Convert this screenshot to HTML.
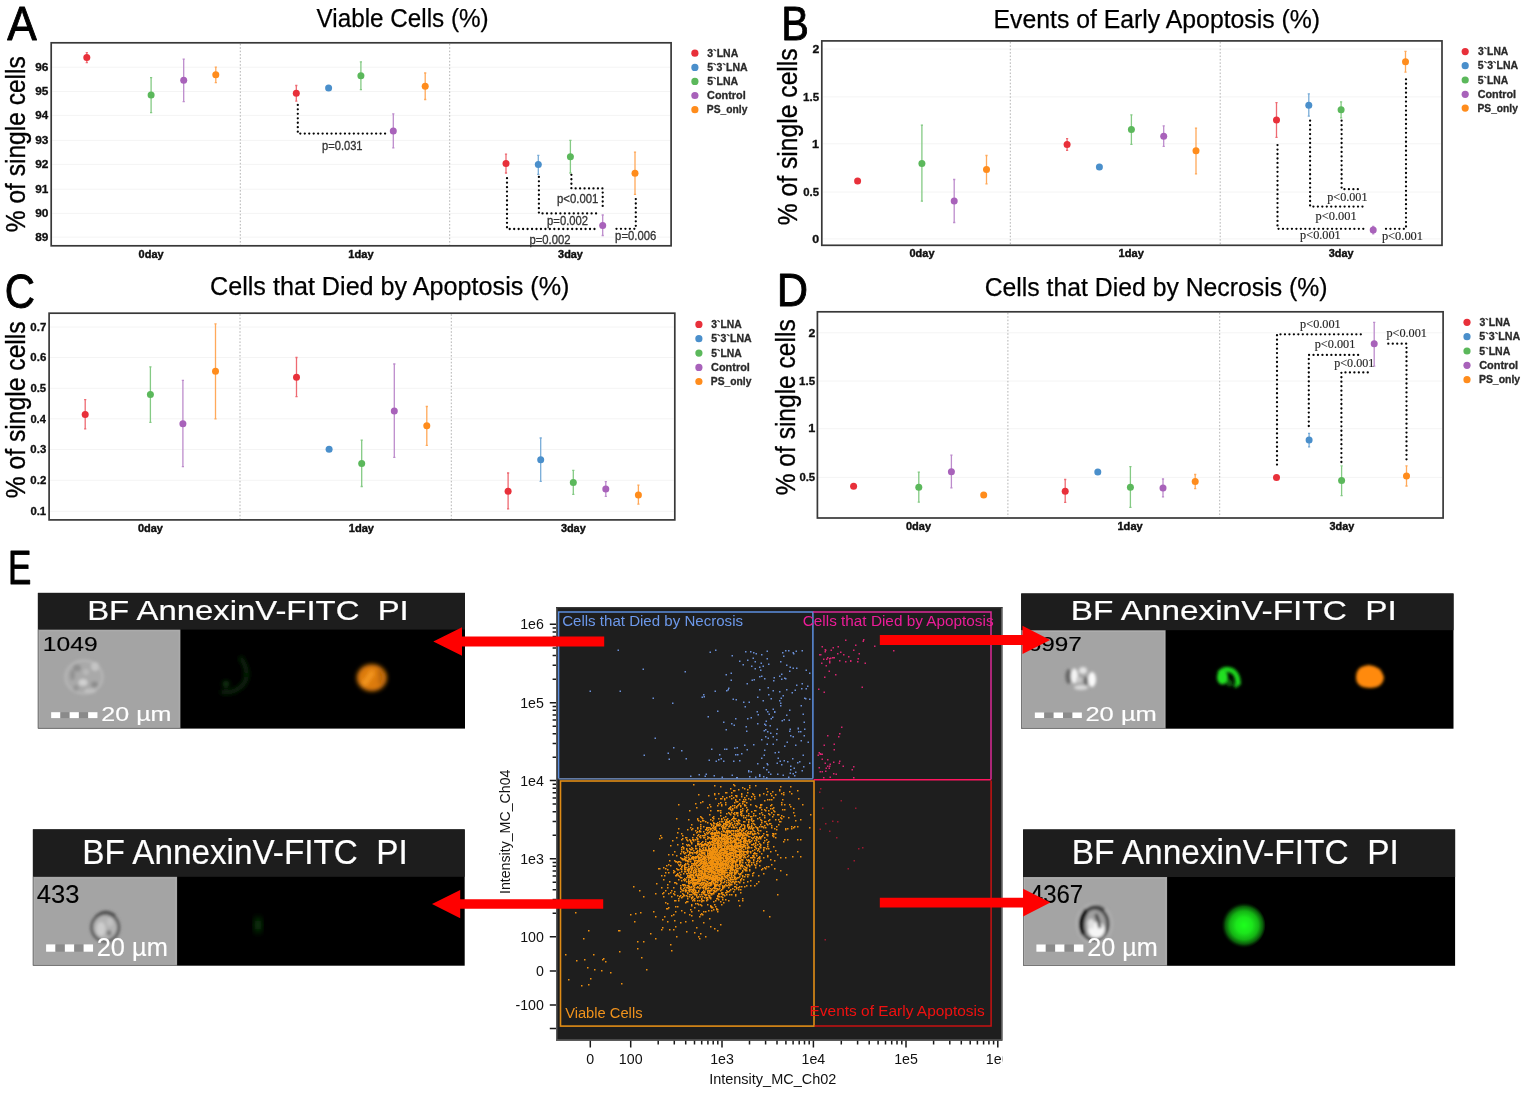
<!DOCTYPE html>
<html lang="en">
<head>
<meta charset="utf-8">
<title>Figure: cell viability, apoptosis and necrosis</title>
<style>
html,body{margin:0;padding:0;background:#fff;}
body{width:1535px;height:1102px;overflow:hidden;}
svg{display:block;filter:blur(0.45px);}
text{white-space:pre;font-family:"Liberation Sans",sans-serif;}
text.sf{font-family:"Liberation Serif",serif;}
</style>
</head>
<body>
<svg width="1535" height="1102" viewBox="0 0 1535 1102">
<defs>
<filter id="b1" x="-50%" y="-50%" width="200%" height="200%"><feGaussianBlur stdDeviation="1"/></filter>
<filter id="b15" x="-50%" y="-50%" width="200%" height="200%"><feGaussianBlur stdDeviation="1.5"/></filter>
<filter id="b2" x="-50%" y="-50%" width="200%" height="200%"><feGaussianBlur stdDeviation="2.2"/></filter>
<filter id="b3" x="-50%" y="-50%" width="200%" height="200%"><feGaussianBlur stdDeviation="3.2"/></filter>
<radialGradient id="gg" cx="0.54" cy="0.5" r="0.5"><stop offset="0" stop-color="#1cff1c"/><stop offset="0.35" stop-color="#1ce61c"/><stop offset="0.62" stop-color="#14b414"/><stop offset="0.82" stop-color="#0a5a0a"/><stop offset="1" stop-color="#001800" stop-opacity="0"/></radialGradient>
</defs>
<rect width="1535" height="1102" fill="#ffffff"/>
<g id="panelA">
<line x1="52.2" x2="670.1" y1="67.2" y2="67.2" stroke="#f4f4f4" stroke-width="1"/>
<line x1="52.2" x2="670.1" y1="91.5" y2="91.5" stroke="#f4f4f4" stroke-width="1"/>
<line x1="52.2" x2="670.1" y1="115.4" y2="115.4" stroke="#f4f4f4" stroke-width="1"/>
<line x1="52.2" x2="670.1" y1="140.4" y2="140.4" stroke="#f4f4f4" stroke-width="1"/>
<line x1="52.2" x2="670.1" y1="164.4" y2="164.4" stroke="#f4f4f4" stroke-width="1"/>
<line x1="52.2" x2="670.1" y1="189.2" y2="189.2" stroke="#f4f4f4" stroke-width="1"/>
<line x1="52.2" x2="670.1" y1="213.4" y2="213.4" stroke="#f4f4f4" stroke-width="1"/>
<line x1="52.2" x2="670.1" y1="237.1" y2="237.1" stroke="#f4f4f4" stroke-width="1"/>
<line x1="240.3" x2="240.3" y1="43.8" y2="244.8" stroke="#b4b4b4" stroke-width="1" stroke-dasharray="1.6 1.8"/>
<line x1="449.7" x2="449.7" y1="43.8" y2="244.8" stroke="#b4b4b4" stroke-width="1" stroke-dasharray="1.6 1.8"/>
<rect x="51.2" y="42.8" width="619.9" height="203.0" fill="none" stroke="#383838" stroke-width="1.7"/>
<text x="35.23" y="70.95" font-size="10.6" fill="#101010" font-weight="bold" textLength="13.26" lengthAdjust="spacingAndGlyphs" stroke="#101010" stroke-width="0.3" stroke-linejoin="round" >96</text>
<text x="35.24" y="95.25" font-size="10.6" fill="#101010" font-weight="bold" textLength="13.17" lengthAdjust="spacingAndGlyphs" stroke="#101010" stroke-width="0.3" stroke-linejoin="round" >95</text>
<text x="35.24" y="119.15" font-size="10.6" fill="#101010" font-weight="bold" textLength="12.89" lengthAdjust="spacingAndGlyphs" stroke="#101010" stroke-width="0.3" stroke-linejoin="round" >94</text>
<text x="35.23" y="144.15" font-size="10.6" fill="#101010" font-weight="bold" textLength="13.26" lengthAdjust="spacingAndGlyphs" stroke="#101010" stroke-width="0.3" stroke-linejoin="round" >93</text>
<text x="35.23" y="168.15" font-size="10.6" fill="#101010" font-weight="bold" textLength="13.33" lengthAdjust="spacingAndGlyphs" stroke="#101010" stroke-width="0.3" stroke-linejoin="round" >92</text>
<text x="35.24" y="192.95" font-size="10.6" fill="#101010" font-weight="bold" textLength="13.17" lengthAdjust="spacingAndGlyphs" stroke="#101010" stroke-width="0.3" stroke-linejoin="round" >91</text>
<text x="35.23" y="217.15" font-size="10.6" fill="#101010" font-weight="bold" textLength="13.33" lengthAdjust="spacingAndGlyphs" stroke="#101010" stroke-width="0.3" stroke-linejoin="round" >90</text>
<text x="35.26" y="240.85" font-size="10.6" fill="#101010" font-weight="bold" textLength="13.23" lengthAdjust="spacingAndGlyphs" stroke="#101010" stroke-width="0.3" stroke-linejoin="round" >89</text>
<text x="138.61" y="257.90" font-size="10.6" fill="#101010" font-weight="bold" textLength="25.01" lengthAdjust="spacingAndGlyphs" stroke="#101010" stroke-width="0.4" stroke-linejoin="round" >0day</text>
<text x="348.36" y="257.90" font-size="10.6" fill="#101010" font-weight="bold" textLength="25.27" lengthAdjust="spacingAndGlyphs" stroke="#101010" stroke-width="0.4" stroke-linejoin="round" >1day</text>
<text x="558.11" y="257.90" font-size="10.6" fill="#101010" font-weight="bold" textLength="24.82" lengthAdjust="spacingAndGlyphs" stroke="#101010" stroke-width="0.4" stroke-linejoin="round" >3day</text>
<text x="316.60" y="26.80" font-size="26.4" fill="#000" textLength="172.10" lengthAdjust="spacingAndGlyphs" stroke="#000" stroke-width="0.25" stroke-linejoin="round" >Viable Cells (%)</text>
<text x="7.34" y="40.20" font-size="48.8" fill="#000" textLength="29.50" lengthAdjust="spacingAndGlyphs" stroke="#000" stroke-width="0.9" stroke-linejoin="round" >A</text>
<text x="25.00" y="232.28" font-size="26.8" fill="#000" textLength="176.07" lengthAdjust="spacingAndGlyphs" transform="rotate(-90 25.00 232.28)" stroke="#000" stroke-width="0.35" stroke-linejoin="round" >% of single cells</text>
<circle cx="694.9" cy="53.2" r="3.6" fill="#e8303a"/>
<text x="707.31" y="56.90" font-size="10.4" fill="#2a2a2a" font-weight="bold" textLength="30.92" lengthAdjust="spacingAndGlyphs" stroke="#2a2a2a" stroke-width="0.3" stroke-linejoin="round" >3`LNA</text>
<circle cx="694.9" cy="67.4" r="3.6" fill="#4a8fcb"/>
<text x="707.23" y="71.10" font-size="10.4" fill="#2a2a2a" font-weight="bold" textLength="40.39" lengthAdjust="spacingAndGlyphs" stroke="#2a2a2a" stroke-width="0.3" stroke-linejoin="round" >5`3`LNA</text>
<circle cx="694.9" cy="81.4" r="3.6" fill="#5bb85b"/>
<text x="707.23" y="85.10" font-size="10.4" fill="#2a2a2a" font-weight="bold" textLength="31.00" lengthAdjust="spacingAndGlyphs" stroke="#2a2a2a" stroke-width="0.3" stroke-linejoin="round" >5`LNA</text>
<circle cx="694.9" cy="95.5" r="3.6" fill="#a862ba"/>
<text x="707.12" y="99.20" font-size="10.4" fill="#2a2a2a" font-weight="bold" textLength="38.59" lengthAdjust="spacingAndGlyphs" stroke="#2a2a2a" stroke-width="0.3" stroke-linejoin="round" >Control</text>
<circle cx="694.9" cy="109.7" r="3.6" fill="#ff8c1c"/>
<text x="706.86" y="113.40" font-size="10.4" fill="#2a2a2a" font-weight="bold" textLength="40.55" lengthAdjust="spacingAndGlyphs" stroke="#2a2a2a" stroke-width="0.3" stroke-linejoin="round" >PS_only</text>
<path d="M86.8 52.6V62.7M85.7 52.6h2.2M85.7 62.7h2.2" stroke="#ee6a72" stroke-width="1.3" fill="none"/>
<circle cx="86.8" cy="57.6" r="3.5" fill="#e8303a"/>
<path d="M151.1 77.7V112.6M150.0 77.7h2.2M150.0 112.6h2.2" stroke="#84ca84" stroke-width="1.3" fill="none"/>
<circle cx="151.1" cy="95.1" r="3.5" fill="#5bb85b"/>
<path d="M183.7 59.2V101.6M182.6 59.2h2.2M182.6 101.6h2.2" stroke="#bd8ccc" stroke-width="1.3" fill="none"/>
<circle cx="183.7" cy="80.3" r="3.5" fill="#a862ba"/>
<path d="M215.8 67.2V82.6M214.7 67.2h2.2M214.7 82.6h2.2" stroke="#ffa95a" stroke-width="1.3" fill="none"/>
<circle cx="215.8" cy="74.8" r="3.5" fill="#ff8c1c"/>
<path d="M296.3 85.5V101.1M295.2 85.5h2.2M295.2 101.1h2.2" stroke="#ee6a72" stroke-width="1.3" fill="none"/>
<circle cx="296.3" cy="93.3" r="3.5" fill="#e8303a"/>
<circle cx="328.6" cy="88.1" r="3.5" fill="#4a8fcb"/>
<path d="M360.9 61.8V89.6M359.8 61.8h2.2M359.8 89.6h2.2" stroke="#84ca84" stroke-width="1.3" fill="none"/>
<circle cx="360.9" cy="75.8" r="3.5" fill="#5bb85b"/>
<path d="M393.3 113.8V147.9M392.2 113.8h2.2M392.2 147.9h2.2" stroke="#bd8ccc" stroke-width="1.3" fill="none"/>
<circle cx="393.3" cy="131.1" r="3.5" fill="#a862ba"/>
<path d="M425.2 73.0V99.5M424.1 73.0h2.2M424.1 99.5h2.2" stroke="#ffa95a" stroke-width="1.3" fill="none"/>
<circle cx="425.2" cy="86.3" r="3.5" fill="#ff8c1c"/>
<path d="M506.0 154.2V173.0M504.9 154.2h2.2M504.9 173.0h2.2" stroke="#ee6a72" stroke-width="1.3" fill="none"/>
<circle cx="506.0" cy="163.6" r="3.5" fill="#e8303a"/>
<path d="M538.3 155.3V174.3M537.2 155.3h2.2M537.2 174.3h2.2" stroke="#78acd8" stroke-width="1.3" fill="none"/>
<circle cx="538.3" cy="164.4" r="3.5" fill="#4a8fcb"/>
<path d="M570.4 140.4V173.0M569.3 140.4h2.2M569.3 173.0h2.2" stroke="#84ca84" stroke-width="1.3" fill="none"/>
<circle cx="570.4" cy="156.8" r="3.5" fill="#5bb85b"/>
<path d="M602.7 215.0V235.5M601.6 215.0h2.2M601.6 235.5h2.2" stroke="#bd8ccc" stroke-width="1.3" fill="none"/>
<circle cx="602.7" cy="225.6" r="3.5" fill="#a862ba"/>
<path d="M635.0 152.1V194.4M633.9 152.1h2.2M633.9 194.4h2.2" stroke="#ffa95a" stroke-width="1.3" fill="none"/>
<circle cx="635.0" cy="173.3" r="3.5" fill="#ff8c1c"/>
<path d="M297.8 104.9 L297.8 133.6 L388.0 133.6" fill="none" stroke="#050505" stroke-width="2.3" stroke-dasharray="0.01 4.45" stroke-linecap="round" stroke-linejoin="round"/>
<path d="M507.0 178.2 L507.0 229.0 L598.0 229.0" fill="none" stroke="#050505" stroke-width="2.3" stroke-dasharray="0.01 4.45" stroke-linecap="round" stroke-linejoin="round"/>
<path d="M538.9 176.9 L538.9 213.4 L598.0 213.4" fill="none" stroke="#050505" stroke-width="2.3" stroke-dasharray="0.01 4.45" stroke-linecap="round" stroke-linejoin="round"/>
<path d="M571.4 174.8 L571.4 188.4 L602.7 188.4 L602.7 207.7" fill="none" stroke="#050505" stroke-width="2.3" stroke-dasharray="0.01 4.45" stroke-linecap="round" stroke-linejoin="round"/>
<path d="M616.5 228.8 L635.8 228.8 L635.8 197.2" fill="none" stroke="#050505" stroke-width="2.3" stroke-dasharray="0.01 4.45" stroke-linecap="round" stroke-linejoin="round"/>
<text x="322.03" y="149.80" font-size="12.0" fill="#333" textLength="40.55" lengthAdjust="spacingAndGlyphs" stroke="#333" stroke-width="0.3" stroke-linejoin="round" >p=0.031</text>
<text x="557.01" y="202.50" font-size="12.0" fill="#333" textLength="41.38" lengthAdjust="spacingAndGlyphs" stroke="#333" stroke-width="0.3" stroke-linejoin="round" >p&lt;0.001</text>
<text x="547.12" y="225.40" font-size="12.0" fill="#333" textLength="40.89" lengthAdjust="spacingAndGlyphs" stroke="#333" stroke-width="0.3" stroke-linejoin="round" >p=0.002</text>
<text x="529.42" y="244.40" font-size="12.0" fill="#333" textLength="41.10" lengthAdjust="spacingAndGlyphs" stroke="#333" stroke-width="0.3" stroke-linejoin="round" >p=0.002</text>
<text x="615.12" y="239.70" font-size="12.0" fill="#333" textLength="41.12" lengthAdjust="spacingAndGlyphs" stroke="#333" stroke-width="0.3" stroke-linejoin="round" >p=0.006</text>
</g>
<g id="panelB">
<line x1="822.8" x2="1441.0" y1="49.0" y2="49.0" stroke="#f4f4f4" stroke-width="1"/>
<line x1="822.8" x2="1441.0" y1="96.9" y2="96.9" stroke="#f4f4f4" stroke-width="1"/>
<line x1="822.8" x2="1441.0" y1="143.8" y2="143.8" stroke="#f4f4f4" stroke-width="1"/>
<line x1="822.8" x2="1441.0" y1="192.0" y2="192.0" stroke="#f4f4f4" stroke-width="1"/>
<line x1="822.8" x2="1441.0" y1="238.9" y2="238.9" stroke="#f4f4f4" stroke-width="1"/>
<line x1="1010.3" x2="1010.3" y1="41.9" y2="244.3" stroke="#b4b4b4" stroke-width="1" stroke-dasharray="1.6 1.8"/>
<line x1="1220.2" x2="1220.2" y1="41.9" y2="244.3" stroke="#b4b4b4" stroke-width="1" stroke-dasharray="1.6 1.8"/>
<rect x="821.8" y="40.9" width="620.2" height="204.4" fill="none" stroke="#383838" stroke-width="1.7"/>
<text x="812.42" y="52.75" font-size="10.6" fill="#101010" font-weight="bold" textLength="6.84" lengthAdjust="spacingAndGlyphs" stroke="#101010" stroke-width="0.3" stroke-linejoin="round" >2</text>
<text x="803.03" y="100.65" font-size="10.6" fill="#101010" font-weight="bold" textLength="16.04" lengthAdjust="spacingAndGlyphs" stroke="#101010" stroke-width="0.3" stroke-linejoin="round" >1.5</text>
<text x="812.06" y="147.55" font-size="10.6" fill="#101010" font-weight="bold" textLength="7.06" lengthAdjust="spacingAndGlyphs" stroke="#101010" stroke-width="0.3" stroke-linejoin="round" >1</text>
<text x="803.30" y="195.75" font-size="10.6" fill="#101010" font-weight="bold" textLength="15.77" lengthAdjust="spacingAndGlyphs" stroke="#101010" stroke-width="0.3" stroke-linejoin="round" >0.5</text>
<text x="812.35" y="242.65" font-size="10.6" fill="#101010" font-weight="bold" textLength="6.91" lengthAdjust="spacingAndGlyphs" stroke="#101010" stroke-width="0.3" stroke-linejoin="round" >0</text>
<text x="909.51" y="257.40" font-size="10.6" fill="#101010" font-weight="bold" textLength="25.01" lengthAdjust="spacingAndGlyphs" stroke="#101010" stroke-width="0.4" stroke-linejoin="round" >0day</text>
<text x="1118.56" y="257.40" font-size="10.6" fill="#101010" font-weight="bold" textLength="25.27" lengthAdjust="spacingAndGlyphs" stroke="#101010" stroke-width="0.4" stroke-linejoin="round" >1day</text>
<text x="1328.81" y="257.40" font-size="10.6" fill="#101010" font-weight="bold" textLength="24.82" lengthAdjust="spacingAndGlyphs" stroke="#101010" stroke-width="0.4" stroke-linejoin="round" >3day</text>
<text x="993.48" y="27.90" font-size="26.4" fill="#000" textLength="326.65" lengthAdjust="spacingAndGlyphs" stroke="#000" stroke-width="0.25" stroke-linejoin="round" >Events of Early Apoptosis (%)</text>
<text x="781.33" y="39.50" font-size="48.8" fill="#000" textLength="27.68" lengthAdjust="spacingAndGlyphs" stroke="#000" stroke-width="0.9" stroke-linejoin="round" >B</text>
<text x="797.50" y="225.29" font-size="26.8" fill="#000" textLength="176.98" lengthAdjust="spacingAndGlyphs" transform="rotate(-90 797.50 225.29)" stroke="#000" stroke-width="0.35" stroke-linejoin="round" >% of single cells</text>
<circle cx="1465.2" cy="51.6" r="3.6" fill="#e8303a"/>
<text x="1477.92" y="55.30" font-size="10.4" fill="#2a2a2a" font-weight="bold" textLength="30.41" lengthAdjust="spacingAndGlyphs" stroke="#2a2a2a" stroke-width="0.3" stroke-linejoin="round" >3`LNA</text>
<circle cx="1465.2" cy="65.7" r="3.6" fill="#4a8fcb"/>
<text x="1477.83" y="69.40" font-size="10.4" fill="#2a2a2a" font-weight="bold" textLength="40.29" lengthAdjust="spacingAndGlyphs" stroke="#2a2a2a" stroke-width="0.3" stroke-linejoin="round" >5`3`LNA</text>
<circle cx="1465.2" cy="80.0" r="3.6" fill="#5bb85b"/>
<text x="1477.84" y="83.70" font-size="10.4" fill="#2a2a2a" font-weight="bold" textLength="30.49" lengthAdjust="spacingAndGlyphs" stroke="#2a2a2a" stroke-width="0.3" stroke-linejoin="round" >5`LNA</text>
<circle cx="1465.2" cy="94.3" r="3.6" fill="#a862ba"/>
<text x="1477.72" y="98.00" font-size="10.4" fill="#2a2a2a" font-weight="bold" textLength="38.39" lengthAdjust="spacingAndGlyphs" stroke="#2a2a2a" stroke-width="0.3" stroke-linejoin="round" >Control</text>
<circle cx="1465.2" cy="108.1" r="3.6" fill="#ff8c1c"/>
<text x="1477.46" y="111.80" font-size="10.4" fill="#2a2a2a" font-weight="bold" textLength="40.45" lengthAdjust="spacingAndGlyphs" stroke="#2a2a2a" stroke-width="0.3" stroke-linejoin="round" >PS_only</text>
<circle cx="857.6" cy="181.1" r="3.5" fill="#e8303a"/>
<path d="M921.9 125.1V201.1M920.8 125.1h2.2M920.8 201.1h2.2" stroke="#84ca84" stroke-width="1.3" fill="none"/>
<circle cx="921.9" cy="163.4" r="3.5" fill="#5bb85b"/>
<path d="M954.2 179.5V222.5M953.1 179.5h2.2M953.1 222.5h2.2" stroke="#bd8ccc" stroke-width="1.3" fill="none"/>
<circle cx="954.2" cy="201.1" r="3.5" fill="#a862ba"/>
<path d="M986.5 155.5V183.9M985.4 155.5h2.2M985.4 183.9h2.2" stroke="#ffa95a" stroke-width="1.3" fill="none"/>
<circle cx="986.5" cy="169.6" r="3.5" fill="#ff8c1c"/>
<path d="M1067.1 138.6V150.3M1066.0 138.6h2.2M1066.0 150.3h2.2" stroke="#ee6a72" stroke-width="1.3" fill="none"/>
<circle cx="1067.1" cy="144.6" r="3.5" fill="#e8303a"/>
<circle cx="1099.4" cy="167.0" r="3.5" fill="#4a8fcb"/>
<path d="M1131.4 114.9V144.3M1130.3 114.9h2.2M1130.3 144.3h2.2" stroke="#84ca84" stroke-width="1.3" fill="none"/>
<circle cx="1131.4" cy="129.5" r="3.5" fill="#5bb85b"/>
<path d="M1163.7 125.9V146.4M1162.6 125.9h2.2M1162.6 146.4h2.2" stroke="#bd8ccc" stroke-width="1.3" fill="none"/>
<circle cx="1163.7" cy="136.2" r="3.5" fill="#a862ba"/>
<path d="M1196.0 128.2V173.8M1194.9 128.2h2.2M1194.9 173.8h2.2" stroke="#ffa95a" stroke-width="1.3" fill="none"/>
<circle cx="1196.0" cy="150.8" r="3.5" fill="#ff8c1c"/>
<path d="M1276.5 102.7V137.3M1275.4 102.7h2.2M1275.4 137.3h2.2" stroke="#ee6a72" stroke-width="1.3" fill="none"/>
<circle cx="1276.5" cy="120.1" r="3.5" fill="#e8303a"/>
<path d="M1308.8 93.8V116.2M1307.7 93.8h2.2M1307.7 116.2h2.2" stroke="#78acd8" stroke-width="1.3" fill="none"/>
<circle cx="1308.8" cy="105.3" r="3.5" fill="#4a8fcb"/>
<path d="M1341.1 101.9V117.8M1340.0 101.9h2.2M1340.0 117.8h2.2" stroke="#84ca84" stroke-width="1.3" fill="none"/>
<circle cx="1341.1" cy="109.7" r="3.5" fill="#5bb85b"/>
<path d="M1373.2 226.3V233.9M1372.1 226.3h2.2M1372.1 233.9h2.2" stroke="#bd8ccc" stroke-width="1.3" fill="none"/>
<circle cx="1373.2" cy="230.1" r="3.5" fill="#a862ba"/>
<path d="M1405.5 51.3V72.2M1404.4 51.3h2.2M1404.4 72.2h2.2" stroke="#ffa95a" stroke-width="1.3" fill="none"/>
<circle cx="1405.5" cy="61.8" r="3.5" fill="#ff8c1c"/>
<path d="M1277.5 145.1 L1277.5 228.8 L1363.8 228.8" fill="none" stroke="#050505" stroke-width="2.3" stroke-dasharray="0.01 4.45" stroke-linecap="round" stroke-linejoin="round"/>
<path d="M1310.1 120.7 L1310.1 206.6 L1363.8 206.6" fill="none" stroke="#050505" stroke-width="2.3" stroke-dasharray="0.01 4.45" stroke-linecap="round" stroke-linejoin="round"/>
<path d="M1341.6 120.7 L1341.6 189.2 L1361.7 189.2" fill="none" stroke="#050505" stroke-width="2.3" stroke-dasharray="0.01 4.45" stroke-linecap="round" stroke-linejoin="round"/>
<path d="M1386.0 228.8 L1406.0 228.8 L1406.0 76.9" fill="none" stroke="#050505" stroke-width="2.3" stroke-dasharray="0.01 4.45" stroke-linecap="round" stroke-linejoin="round"/>
<text x="1327.19" y="201.10" font-size="12.7" fill="#262626" class="sf" textLength="40.35" lengthAdjust="spacingAndGlyphs" stroke="#262626" stroke-width="0.15" stroke-linejoin="round" >p&lt;0.001</text>
<text x="1315.49" y="220.40" font-size="12.7" fill="#262626" class="sf" textLength="41.17" lengthAdjust="spacingAndGlyphs" stroke="#262626" stroke-width="0.15" stroke-linejoin="round" >p&lt;0.001</text>
<text x="1300.09" y="238.90" font-size="12.7" fill="#262626" class="sf" textLength="40.66" lengthAdjust="spacingAndGlyphs" stroke="#262626" stroke-width="0.15" stroke-linejoin="round" >p&lt;0.001</text>
<text x="1381.89" y="239.70" font-size="12.7" fill="#262626" class="sf" textLength="41.17" lengthAdjust="spacingAndGlyphs" stroke="#262626" stroke-width="0.15" stroke-linejoin="round" >p&lt;0.001</text>
</g>
<g id="panelC">
<line x1="50.1" x2="673.8" y1="327.0" y2="327.0" stroke="#f4f4f4" stroke-width="1"/>
<line x1="50.1" x2="673.8" y1="357.5" y2="357.5" stroke="#f4f4f4" stroke-width="1"/>
<line x1="50.1" x2="673.8" y1="388.3" y2="388.3" stroke="#f4f4f4" stroke-width="1"/>
<line x1="50.1" x2="673.8" y1="418.8" y2="418.8" stroke="#f4f4f4" stroke-width="1"/>
<line x1="50.1" x2="673.8" y1="449.5" y2="449.5" stroke="#f4f4f4" stroke-width="1"/>
<line x1="50.1" x2="673.8" y1="480.3" y2="480.3" stroke="#f4f4f4" stroke-width="1"/>
<line x1="50.1" x2="673.8" y1="511.3" y2="511.3" stroke="#f4f4f4" stroke-width="1"/>
<line x1="240.0" x2="240.0" y1="314.2" y2="518.9" stroke="#b4b4b4" stroke-width="1" stroke-dasharray="1.6 1.8"/>
<line x1="451.3" x2="451.3" y1="314.2" y2="518.9" stroke="#b4b4b4" stroke-width="1" stroke-dasharray="1.6 1.8"/>
<rect x="49.1" y="313.2" width="625.7" height="206.7" fill="none" stroke="#383838" stroke-width="1.7"/>
<text x="30.39" y="330.75" font-size="10.6" fill="#101010" font-weight="bold" textLength="15.95" lengthAdjust="spacingAndGlyphs" stroke="#101010" stroke-width="0.3" stroke-linejoin="round" >0.7</text>
<text x="30.39" y="361.25" font-size="10.6" fill="#101010" font-weight="bold" textLength="15.86" lengthAdjust="spacingAndGlyphs" stroke="#101010" stroke-width="0.3" stroke-linejoin="round" >0.6</text>
<text x="30.40" y="392.05" font-size="10.6" fill="#101010" font-weight="bold" textLength="15.77" lengthAdjust="spacingAndGlyphs" stroke="#101010" stroke-width="0.3" stroke-linejoin="round" >0.5</text>
<text x="30.40" y="422.55" font-size="10.6" fill="#101010" font-weight="bold" textLength="15.50" lengthAdjust="spacingAndGlyphs" stroke="#101010" stroke-width="0.3" stroke-linejoin="round" >0.4</text>
<text x="30.39" y="453.25" font-size="10.6" fill="#101010" font-weight="bold" textLength="15.86" lengthAdjust="spacingAndGlyphs" stroke="#101010" stroke-width="0.3" stroke-linejoin="round" >0.3</text>
<text x="30.39" y="484.05" font-size="10.6" fill="#101010" font-weight="bold" textLength="15.92" lengthAdjust="spacingAndGlyphs" stroke="#101010" stroke-width="0.3" stroke-linejoin="round" >0.2</text>
<text x="30.40" y="515.05" font-size="10.6" fill="#101010" font-weight="bold" textLength="15.77" lengthAdjust="spacingAndGlyphs" stroke="#101010" stroke-width="0.3" stroke-linejoin="round" >0.1</text>
<text x="137.91" y="532.00" font-size="10.6" fill="#101010" font-weight="bold" textLength="25.01" lengthAdjust="spacingAndGlyphs" stroke="#101010" stroke-width="0.4" stroke-linejoin="round" >0day</text>
<text x="348.76" y="532.00" font-size="10.6" fill="#101010" font-weight="bold" textLength="25.27" lengthAdjust="spacingAndGlyphs" stroke="#101010" stroke-width="0.4" stroke-linejoin="round" >1day</text>
<text x="560.90" y="532.00" font-size="10.6" fill="#101010" font-weight="bold" textLength="24.82" lengthAdjust="spacingAndGlyphs" stroke="#101010" stroke-width="0.4" stroke-linejoin="round" >3day</text>
<text x="209.97" y="295.00" font-size="26.4" fill="#000" textLength="359.47" lengthAdjust="spacingAndGlyphs" stroke="#000" stroke-width="0.25" stroke-linejoin="round" >Cells that Died by Apoptosis (%)</text>
<text x="4.86" y="307.80" font-size="48.8" fill="#000" textLength="30.26" lengthAdjust="spacingAndGlyphs" stroke="#000" stroke-width="0.9" stroke-linejoin="round" >C</text>
<text x="25.00" y="498.29" font-size="26.8" fill="#000" textLength="176.98" lengthAdjust="spacingAndGlyphs" transform="rotate(-90 25.00 498.29)" stroke="#000" stroke-width="0.35" stroke-linejoin="round" >% of single cells</text>
<circle cx="698.9" cy="324.4" r="3.6" fill="#e8303a"/>
<text x="711.32" y="328.10" font-size="10.4" fill="#2a2a2a" font-weight="bold" textLength="30.41" lengthAdjust="spacingAndGlyphs" stroke="#2a2a2a" stroke-width="0.3" stroke-linejoin="round" >3`LNA</text>
<circle cx="698.9" cy="338.7" r="3.6" fill="#4a8fcb"/>
<text x="711.23" y="342.40" font-size="10.4" fill="#2a2a2a" font-weight="bold" textLength="40.39" lengthAdjust="spacingAndGlyphs" stroke="#2a2a2a" stroke-width="0.3" stroke-linejoin="round" >5`3`LNA</text>
<circle cx="698.9" cy="353.1" r="3.6" fill="#5bb85b"/>
<text x="711.24" y="356.80" font-size="10.4" fill="#2a2a2a" font-weight="bold" textLength="30.49" lengthAdjust="spacingAndGlyphs" stroke="#2a2a2a" stroke-width="0.3" stroke-linejoin="round" >5`LNA</text>
<circle cx="698.9" cy="367.4" r="3.6" fill="#a862ba"/>
<text x="711.11" y="371.10" font-size="10.4" fill="#2a2a2a" font-weight="bold" textLength="38.70" lengthAdjust="spacingAndGlyphs" stroke="#2a2a2a" stroke-width="0.3" stroke-linejoin="round" >Control</text>
<circle cx="698.9" cy="381.5" r="3.6" fill="#ff8c1c"/>
<text x="710.86" y="385.20" font-size="10.4" fill="#2a2a2a" font-weight="bold" textLength="40.55" lengthAdjust="spacingAndGlyphs" stroke="#2a2a2a" stroke-width="0.3" stroke-linejoin="round" >PS_only</text>
<path d="M85.2 399.7V428.9M84.1 399.7h2.2M84.1 428.9h2.2" stroke="#ee6a72" stroke-width="1.3" fill="none"/>
<circle cx="85.2" cy="414.6" r="3.5" fill="#e8303a"/>
<path d="M150.4 366.9V422.4M149.3 366.9h2.2M149.3 422.4h2.2" stroke="#84ca84" stroke-width="1.3" fill="none"/>
<circle cx="150.4" cy="394.5" r="3.5" fill="#5bb85b"/>
<path d="M182.9 380.4V466.7M181.8 380.4h2.2M181.8 466.7h2.2" stroke="#bd8ccc" stroke-width="1.3" fill="none"/>
<circle cx="182.9" cy="423.7" r="3.5" fill="#a862ba"/>
<path d="M215.5 323.9V418.8M214.4 323.9h2.2M214.4 418.8h2.2" stroke="#ffa95a" stroke-width="1.3" fill="none"/>
<circle cx="215.5" cy="371.3" r="3.5" fill="#ff8c1c"/>
<path d="M296.5 357.5V396.6M295.4 357.5h2.2M295.4 396.6h2.2" stroke="#ee6a72" stroke-width="1.3" fill="none"/>
<circle cx="296.5" cy="377.3" r="3.5" fill="#e8303a"/>
<circle cx="329.1" cy="449.3" r="3.5" fill="#4a8fcb"/>
<path d="M361.7 440.1V486.5M360.6 440.1h2.2M360.6 486.5h2.2" stroke="#84ca84" stroke-width="1.3" fill="none"/>
<circle cx="361.7" cy="463.6" r="3.5" fill="#5bb85b"/>
<path d="M394.3 364.0V457.3M393.2 364.0h2.2M393.2 457.3h2.2" stroke="#bd8ccc" stroke-width="1.3" fill="none"/>
<circle cx="394.3" cy="410.9" r="3.5" fill="#a862ba"/>
<path d="M426.8 406.5V445.3M425.7 406.5h2.2M425.7 445.3h2.2" stroke="#ffa95a" stroke-width="1.3" fill="none"/>
<circle cx="426.8" cy="425.8" r="3.5" fill="#ff8c1c"/>
<path d="M508.1 473.0V508.9M507.0 473.0h2.2M507.0 508.9h2.2" stroke="#ee6a72" stroke-width="1.3" fill="none"/>
<circle cx="508.1" cy="491.2" r="3.5" fill="#e8303a"/>
<path d="M540.7 438.0V481.3M539.6 438.0h2.2M539.6 481.3h2.2" stroke="#78acd8" stroke-width="1.3" fill="none"/>
<circle cx="540.7" cy="459.7" r="3.5" fill="#4a8fcb"/>
<path d="M573.3 470.4V494.3M572.2 470.4h2.2M572.2 494.3h2.2" stroke="#84ca84" stroke-width="1.3" fill="none"/>
<circle cx="573.3" cy="482.6" r="3.5" fill="#5bb85b"/>
<path d="M605.8 481.6V496.4M604.7 481.6h2.2M604.7 496.4h2.2" stroke="#bd8ccc" stroke-width="1.3" fill="none"/>
<circle cx="605.8" cy="489.1" r="3.5" fill="#a862ba"/>
<path d="M638.4 485.2V504.2M637.3 485.2h2.2M637.3 504.2h2.2" stroke="#ffa95a" stroke-width="1.3" fill="none"/>
<circle cx="638.4" cy="494.9" r="3.5" fill="#ff8c1c"/>
</g>
<g id="panelD">
<line x1="818.4" x2="1442.1" y1="332.8" y2="332.8" stroke="#f4f4f4" stroke-width="1"/>
<line x1="818.4" x2="1442.1" y1="381.0" y2="381.0" stroke="#f4f4f4" stroke-width="1"/>
<line x1="818.4" x2="1442.1" y1="428.7" y2="428.7" stroke="#f4f4f4" stroke-width="1"/>
<line x1="818.4" x2="1442.1" y1="477.4" y2="477.4" stroke="#f4f4f4" stroke-width="1"/>
<line x1="1007.9" x2="1007.9" y1="312.8" y2="517.0" stroke="#b4b4b4" stroke-width="1" stroke-dasharray="1.6 1.8"/>
<line x1="1219.7" x2="1219.7" y1="312.8" y2="517.0" stroke="#b4b4b4" stroke-width="1" stroke-dasharray="1.6 1.8"/>
<rect x="817.4" y="311.8" width="625.7" height="206.2" fill="none" stroke="#383838" stroke-width="1.7"/>
<text x="808.52" y="336.55" font-size="10.6" fill="#101010" font-weight="bold" textLength="6.84" lengthAdjust="spacingAndGlyphs" stroke="#101010" stroke-width="0.3" stroke-linejoin="round" >2</text>
<text x="799.13" y="384.75" font-size="10.6" fill="#101010" font-weight="bold" textLength="16.04" lengthAdjust="spacingAndGlyphs" stroke="#101010" stroke-width="0.3" stroke-linejoin="round" >1.5</text>
<text x="808.16" y="432.45" font-size="10.6" fill="#101010" font-weight="bold" textLength="7.06" lengthAdjust="spacingAndGlyphs" stroke="#101010" stroke-width="0.3" stroke-linejoin="round" >1</text>
<text x="799.40" y="481.15" font-size="10.6" fill="#101010" font-weight="bold" textLength="15.77" lengthAdjust="spacingAndGlyphs" stroke="#101010" stroke-width="0.3" stroke-linejoin="round" >0.5</text>
<text x="906.01" y="530.05" font-size="10.6" fill="#101010" font-weight="bold" textLength="25.01" lengthAdjust="spacingAndGlyphs" stroke="#101010" stroke-width="0.4" stroke-linejoin="round" >0day</text>
<text x="1117.46" y="530.05" font-size="10.6" fill="#101010" font-weight="bold" textLength="25.27" lengthAdjust="spacingAndGlyphs" stroke="#101010" stroke-width="0.4" stroke-linejoin="round" >1day</text>
<text x="1329.51" y="530.05" font-size="10.6" fill="#101010" font-weight="bold" textLength="24.82" lengthAdjust="spacingAndGlyphs" stroke="#101010" stroke-width="0.4" stroke-linejoin="round" >3day</text>
<text x="984.69" y="295.70" font-size="26.4" fill="#000" textLength="342.75" lengthAdjust="spacingAndGlyphs" stroke="#000" stroke-width="0.25" stroke-linejoin="round" >Cells that Died by Necrosis (%)</text>
<text x="776.77" y="305.80" font-size="47.0" fill="#000" textLength="31.33" lengthAdjust="spacingAndGlyphs" stroke="#000" stroke-width="0.9" stroke-linejoin="round" >D</text>
<text x="795.50" y="495.28" font-size="26.8" fill="#000" textLength="175.97" lengthAdjust="spacingAndGlyphs" transform="rotate(-90 795.50 495.28)" stroke="#000" stroke-width="0.35" stroke-linejoin="round" >% of single cells</text>
<circle cx="1467.0" cy="322.3" r="3.6" fill="#e8303a"/>
<text x="1479.41" y="326.00" font-size="10.4" fill="#2a2a2a" font-weight="bold" textLength="30.92" lengthAdjust="spacingAndGlyphs" stroke="#2a2a2a" stroke-width="0.3" stroke-linejoin="round" >3`LNA</text>
<circle cx="1467.0" cy="336.7" r="3.6" fill="#4a8fcb"/>
<text x="1479.33" y="340.40" font-size="10.4" fill="#2a2a2a" font-weight="bold" textLength="41.00" lengthAdjust="spacingAndGlyphs" stroke="#2a2a2a" stroke-width="0.3" stroke-linejoin="round" >5`3`LNA</text>
<circle cx="1467.0" cy="351.0" r="3.6" fill="#5bb85b"/>
<text x="1479.33" y="354.70" font-size="10.4" fill="#2a2a2a" font-weight="bold" textLength="31.00" lengthAdjust="spacingAndGlyphs" stroke="#2a2a2a" stroke-width="0.3" stroke-linejoin="round" >5`LNA</text>
<circle cx="1467.0" cy="365.3" r="3.6" fill="#a862ba"/>
<text x="1479.21" y="369.00" font-size="10.4" fill="#2a2a2a" font-weight="bold" textLength="38.90" lengthAdjust="spacingAndGlyphs" stroke="#2a2a2a" stroke-width="0.3" stroke-linejoin="round" >Control</text>
<circle cx="1467.0" cy="379.7" r="3.6" fill="#ff8c1c"/>
<text x="1478.95" y="383.40" font-size="10.4" fill="#2a2a2a" font-weight="bold" textLength="41.17" lengthAdjust="spacingAndGlyphs" stroke="#2a2a2a" stroke-width="0.3" stroke-linejoin="round" >PS_only</text>
<circle cx="853.6" cy="486.3" r="3.5" fill="#e8303a"/>
<path d="M918.8 472.2V502.1M917.7 472.2h2.2M917.7 502.1h2.2" stroke="#84ca84" stroke-width="1.3" fill="none"/>
<circle cx="918.8" cy="487.3" r="3.5" fill="#5bb85b"/>
<path d="M951.4 455.2V487.8M950.3 455.2h2.2M950.3 487.8h2.2" stroke="#bd8ccc" stroke-width="1.3" fill="none"/>
<circle cx="951.4" cy="471.7" r="3.5" fill="#a862ba"/>
<circle cx="983.7" cy="494.9" r="3.5" fill="#ff8c1c"/>
<path d="M1065.2 479.5V502.4M1064.1 479.5h2.2M1064.1 502.4h2.2" stroke="#ee6a72" stroke-width="1.3" fill="none"/>
<circle cx="1065.2" cy="491.2" r="3.5" fill="#e8303a"/>
<circle cx="1097.8" cy="471.9" r="3.5" fill="#4a8fcb"/>
<path d="M1130.4 466.7V507.4M1129.3 466.7h2.2M1129.3 507.4h2.2" stroke="#84ca84" stroke-width="1.3" fill="none"/>
<circle cx="1130.4" cy="487.3" r="3.5" fill="#5bb85b"/>
<path d="M1163.0 479.0V496.9M1161.9 479.0h2.2M1161.9 496.9h2.2" stroke="#bd8ccc" stroke-width="1.3" fill="none"/>
<circle cx="1163.0" cy="488.1" r="3.5" fill="#a862ba"/>
<path d="M1195.2 474.5V488.6M1194.1 474.5h2.2M1194.1 488.6h2.2" stroke="#ffa95a" stroke-width="1.3" fill="none"/>
<circle cx="1195.2" cy="481.6" r="3.5" fill="#ff8c1c"/>
<circle cx="1276.5" cy="477.4" r="3.5" fill="#e8303a"/>
<path d="M1309.1 433.4V446.9M1308.0 433.4h2.2M1308.0 446.9h2.2" stroke="#78acd8" stroke-width="1.3" fill="none"/>
<circle cx="1309.1" cy="440.1" r="3.5" fill="#4a8fcb"/>
<path d="M1341.6 465.9V495.6M1340.5 465.9h2.2M1340.5 495.6h2.2" stroke="#84ca84" stroke-width="1.3" fill="none"/>
<circle cx="1341.6" cy="480.5" r="3.5" fill="#5bb85b"/>
<path d="M1374.2 322.3V366.1M1373.1 322.3h2.2M1373.1 366.1h2.2" stroke="#bd8ccc" stroke-width="1.3" fill="none"/>
<circle cx="1374.2" cy="343.7" r="3.5" fill="#a862ba"/>
<path d="M1406.5 465.9V486.0M1405.4 465.9h2.2M1405.4 486.0h2.2" stroke="#ffa95a" stroke-width="1.3" fill="none"/>
<circle cx="1406.5" cy="476.1" r="3.5" fill="#ff8c1c"/>
<path d="M1277.0 464.6 L1277.0 334.3 L1363.8 334.3" fill="none" stroke="#050505" stroke-width="2.3" stroke-dasharray="0.01 4.45" stroke-linecap="round" stroke-linejoin="round"/>
<path d="M1308.8 426.0 L1308.8 354.9 L1361.7 354.9" fill="none" stroke="#050505" stroke-width="2.3" stroke-dasharray="0.01 4.45" stroke-linecap="round" stroke-linejoin="round"/>
<path d="M1341.4 462.0 L1341.4 372.4 L1371.6 372.4" fill="none" stroke="#050505" stroke-width="2.3" stroke-dasharray="0.01 4.45" stroke-linecap="round" stroke-linejoin="round"/>
<path d="M1388.3 343.7 L1406.5 343.7 L1406.5 462.0" fill="none" stroke="#050505" stroke-width="2.3" stroke-dasharray="0.01 4.45" stroke-linecap="round" stroke-linejoin="round"/>
<text x="1300.09" y="328.10" font-size="12.7" fill="#262626" class="sf" textLength="40.66" lengthAdjust="spacingAndGlyphs" stroke="#262626" stroke-width="0.15" stroke-linejoin="round" >p&lt;0.001</text>
<text x="1314.69" y="347.90" font-size="12.7" fill="#262626" class="sf" textLength="40.66" lengthAdjust="spacingAndGlyphs" stroke="#262626" stroke-width="0.15" stroke-linejoin="round" >p&lt;0.001</text>
<text x="1334.19" y="367.10" font-size="12.7" fill="#262626" class="sf" textLength="40.15" lengthAdjust="spacingAndGlyphs" stroke="#262626" stroke-width="0.15" stroke-linejoin="round" >p&lt;0.001</text>
<text x="1386.39" y="337.40" font-size="12.7" fill="#262626" class="sf" textLength="40.56" lengthAdjust="spacingAndGlyphs" stroke="#262626" stroke-width="0.15" stroke-linejoin="round" >p&lt;0.001</text>
</g>
<text x="7.96" y="584.00" font-size="48.8" fill="#000" textLength="23.36" lengthAdjust="spacingAndGlyphs" stroke="#000" stroke-width="0.9" stroke-linejoin="round" >E</text>
<rect x="37.9" y="592.9" width="427.1" height="135.7" fill="#000"/>
<rect x="37.9" y="592.9" width="427.1" height="36.7" fill="#1d1d1d"/>
<rect x="37.9" y="629.6" width="142.5" height="99.0" fill="#a4a4a4"/>
<rect x="39.1" y="630.8" width="140.1" height="96.6" fill="none" stroke="#b0b0b0" stroke-width="0.8"/>
<path d="M38.3 629.6V728.2H180.4" fill="none" stroke="#6e6e6e" stroke-width="0.8"/>
<text x="87.19" y="619.60" font-size="27.5" fill="#fff" textLength="321.50" lengthAdjust="spacingAndGlyphs" stroke="#fff" stroke-width="0.2" stroke-linejoin="round" xml:space="preserve">BF AnnexinV-FITC  PI</text>
<g filter="url(#b15)">
<ellipse cx="84" cy="677" rx="18.5" ry="16.5" fill="#a9a9a9" stroke="#b6b6b6" stroke-width="2.4"/>
<ellipse cx="77" cy="668" rx="4" ry="3.5" fill="#8f8f8f"/>
<ellipse cx="72.5" cy="675" rx="2.5" ry="5" fill="#939393"/>
<ellipse cx="94.5" cy="684.5" rx="3.5" ry="3" fill="#8c8c8c"/>
<ellipse cx="76" cy="688" rx="3" ry="3" fill="#969696"/>
<ellipse cx="83" cy="682.5" rx="4.5" ry="3.5" fill="#d0d0d0"/>
<ellipse cx="95" cy="666.5" rx="4" ry="4.5" fill="#c4c4c4"/>
<ellipse cx="90" cy="691" rx="6" ry="2.5" fill="#c0c0c0"/>
<ellipse cx="86" cy="672" rx="3" ry="3" fill="#b9b9b9"/>
</g>
<g filter="url(#b2)"><path d="M221 692q16 2 24 -10q5 -12 -5 -25" fill="none" stroke="#082808" stroke-width="4.5"/><circle cx="226" cy="684" r="3.2" fill="#0c3c0c"/></g>
<g filter="url(#b2)"><ellipse cx="371.8" cy="677.7" rx="15" ry="13.5" fill="#dc7a0a"/><path d="M363 685q4 -4 10 -14" stroke="#f69a22" stroke-width="5" fill="none"/><path d="M379 670q4 6 1 14" stroke="#aa5c06" stroke-width="3.5" fill="none"/></g>
<text x="42.83" y="650.70" font-size="21" fill="#000" textLength="54.76" lengthAdjust="spacingAndGlyphs" stroke="#000" stroke-width="0.15" stroke-linejoin="round" >1049</text>
<rect x="51.15" y="712.2" width="9.30" height="5.9" fill="#ffffff"/>
<rect x="60.40" y="712.2" width="9.30" height="5.9" fill="#8a8a8a"/>
<rect x="69.65" y="712.2" width="9.30" height="5.9" fill="#ffffff"/>
<rect x="78.90" y="712.2" width="9.30" height="5.9" fill="#8a8a8a"/>
<rect x="88.15" y="712.2" width="9.30" height="5.9" fill="#ffffff"/>
<text x="101.32" y="721.30" font-size="20.8" fill="#fff" textLength="70.11" lengthAdjust="spacingAndGlyphs" stroke="#fff" stroke-width="0.15" stroke-linejoin="round" >20 µm</text>
<rect x="32.9" y="829.4" width="431.8" height="136.3" fill="#000"/>
<rect x="32.9" y="829.4" width="431.8" height="47.4" fill="#1d1d1d"/>
<rect x="32.9" y="876.8" width="144.2" height="88.9" fill="#a4a4a4"/>
<rect x="34.1" y="878.0" width="141.8" height="86.5" fill="none" stroke="#b0b0b0" stroke-width="0.8"/>
<path d="M33.3 876.8V965.3H177.1" fill="none" stroke="#6e6e6e" stroke-width="0.8"/>
<text x="82.36" y="863.70" font-size="34.3" fill="#fff" textLength="325.37" lengthAdjust="spacingAndGlyphs" stroke="#fff" stroke-width="0.2" stroke-linejoin="round" xml:space="preserve">BF AnnexinV-FITC  PI</text>
<g filter="url(#b15)">
<ellipse cx="105.2" cy="927.3" rx="13.5" ry="13.8" fill="#b4b4b4" stroke="#5c5c5c" stroke-width="3.2"/>
<path d="M96 917q9 -9 19 -1" stroke="#4c4c4c" stroke-width="3" fill="none"/>
<ellipse cx="101" cy="929" rx="4.5" ry="7" fill="#cdcdcd"/>
<ellipse cx="109" cy="933" rx="2.5" ry="3" fill="#7e7e7e"/>
<ellipse cx="110" cy="922" rx="3" ry="4" fill="#c2c2c2"/>
</g>
<g filter="url(#b3)"><ellipse cx="258" cy="925" rx="3" ry="8" fill="#0c4a0c"/></g>
<text x="36.80" y="903.30" font-size="26" fill="#000" textLength="42.64" lengthAdjust="spacingAndGlyphs" stroke="#000" stroke-width="0.15" stroke-linejoin="round" >433</text>
<rect x="46.10" y="944.4" width="9.43" height="7.3" fill="#ffffff"/>
<rect x="55.48" y="944.4" width="9.43" height="7.3" fill="#8a8a8a"/>
<rect x="64.86" y="944.4" width="9.43" height="7.3" fill="#ffffff"/>
<rect x="74.24" y="944.4" width="9.43" height="7.3" fill="#8a8a8a"/>
<rect x="83.62" y="944.4" width="9.43" height="7.3" fill="#ffffff"/>
<text x="96.70" y="955.60" font-size="26" fill="#fff" textLength="71.16" lengthAdjust="spacingAndGlyphs" stroke="#fff" stroke-width="0.15" stroke-linejoin="round" >20 µm</text>
<rect x="1021.2" y="593.5" width="432.3" height="135.2" fill="#000"/>
<rect x="1021.2" y="593.5" width="432.3" height="36.7" fill="#1d1d1d"/>
<rect x="1021.2" y="630.2" width="144.4" height="98.5" fill="#a4a4a4"/>
<rect x="1022.4" y="631.4" width="142.0" height="96.1" fill="none" stroke="#b0b0b0" stroke-width="0.8"/>
<path d="M1021.6 630.2V728.3H1165.6" fill="none" stroke="#6e6e6e" stroke-width="0.8"/>
<text x="1070.65" y="619.80" font-size="27.5" fill="#fff" textLength="326.09" lengthAdjust="spacingAndGlyphs" stroke="#fff" stroke-width="0.2" stroke-linejoin="round" xml:space="preserve">BF AnnexinV-FITC  PI</text>
<g filter="url(#b15)">
<ellipse cx="1068.6" cy="676.5" rx="3.2" ry="7.5" fill="#666666"/>
<ellipse cx="1074.4" cy="676" rx="3.6" ry="7.5" fill="#f4f4f4"/>
<ellipse cx="1083" cy="670.5" rx="4" ry="3.5" fill="#e4e4e4"/>
<ellipse cx="1092" cy="679.5" rx="4" ry="7.5" fill="#fafafa"/>
<ellipse cx="1086" cy="681" rx="2.2" ry="4.5" fill="#6c6c6c"/>
<ellipse cx="1079" cy="680" rx="3" ry="3" fill="#c8c8c8"/>
<ellipse cx="1081" cy="687.5" rx="7" ry="2.6" fill="#dadada"/>
</g>
<g filter="url(#b15)"><path d="M1220.5 672.5q5 -5 12 -1.5q5.5 3.500 5.500 12" fill="none" stroke="#1cd41c" stroke-width="5.5" stroke-linecap="round"/><ellipse cx="1222.5" cy="677.5" rx="5.5" ry="7" fill="#20e020"/><ellipse cx="1229.5" cy="683" rx="3" ry="3.5" fill="#0a5a0a"/><circle cx="1236" cy="685.5" r="2.2" fill="#18b018"/></g>
<g filter="url(#b15)"><path d="M1356 677q0 -11 13 -12q12 1 15 12q-1 11 -14 11q-14 0 -14 -11z" fill="#ff8a08"/></g>
<text x="1027.76" y="650.90" font-size="21" fill="#000" textLength="54.03" lengthAdjust="spacingAndGlyphs" stroke="#000" stroke-width="0.15" stroke-linejoin="round" >6997</text>
<rect x="1034.85" y="712.5" width="9.44" height="5.5" fill="#ffffff"/>
<rect x="1044.24" y="712.5" width="9.44" height="5.5" fill="#8a8a8a"/>
<rect x="1053.63" y="712.5" width="9.44" height="5.5" fill="#ffffff"/>
<rect x="1063.02" y="712.5" width="9.44" height="5.5" fill="#8a8a8a"/>
<rect x="1072.41" y="712.5" width="9.44" height="5.5" fill="#ffffff"/>
<text x="1085.40" y="721.30" font-size="20.8" fill="#fff" textLength="71.47" lengthAdjust="spacingAndGlyphs" stroke="#fff" stroke-width="0.15" stroke-linejoin="round" >20 µm</text>
<rect x="1023.1" y="829.5" width="432.0" height="136.3" fill="#000"/>
<rect x="1023.1" y="829.5" width="432.0" height="47.5" fill="#1d1d1d"/>
<rect x="1023.1" y="877.0" width="144.0" height="88.8" fill="#a4a4a4"/>
<rect x="1024.3" y="878.2" width="141.6" height="86.4" fill="none" stroke="#b0b0b0" stroke-width="0.8"/>
<path d="M1023.5 877.0V965.4H1167.1" fill="none" stroke="#6e6e6e" stroke-width="0.8"/>
<text x="1071.64" y="863.70" font-size="34.3" fill="#fff" textLength="327.10" lengthAdjust="spacingAndGlyphs" stroke="#fff" stroke-width="0.2" stroke-linejoin="round" xml:space="preserve">BF AnnexinV-FITC  PI</text>
<g filter="url(#b15)">
<ellipse cx="1094.3" cy="923.8" rx="17.5" ry="19.5" fill="none" stroke="#b6b6b6" stroke-width="1.6"/>
<ellipse cx="1094.3" cy="924" rx="13.5" ry="16" fill="#a0a0a0" stroke="#4a4a4a" stroke-width="3.6"/>
<path d="M1083.5 934q-5 -12 3 -24" stroke="#0c0c0c" stroke-width="5" fill="none"/>
<path d="M1088 910q8 -6 16 0" stroke="#3c3c3c" stroke-width="4" fill="none"/>
<ellipse cx="1096.500" cy="930" rx="8.5" ry="8" fill="#f6f6f6"/>
<ellipse cx="1091" cy="924" rx="3.5" ry="5" fill="#e0e0e0"/>
<path d="M1096 914q3 8 4 14" stroke="#3e3e3e" stroke-width="3.2" fill="none"/>
</g>
<circle cx="1242.3" cy="925.3" r="23" fill="url(#gg)"/>
<text x="1029.84" y="903.30" font-size="26" fill="#000" textLength="53.39" lengthAdjust="spacingAndGlyphs" stroke="#000" stroke-width="0.15" stroke-linejoin="round" >4367</text>
<rect x="1036.40" y="944.5" width="9.43" height="7.2" fill="#ffffff"/>
<rect x="1045.78" y="944.5" width="9.43" height="7.2" fill="#8a8a8a"/>
<rect x="1055.16" y="944.5" width="9.43" height="7.2" fill="#ffffff"/>
<rect x="1064.54" y="944.5" width="9.43" height="7.2" fill="#8a8a8a"/>
<rect x="1073.92" y="944.5" width="9.43" height="7.2" fill="#ffffff"/>
<text x="1087.21" y="955.60" font-size="26" fill="#fff" textLength="70.64" lengthAdjust="spacingAndGlyphs" stroke="#fff" stroke-width="0.15" stroke-linejoin="round" >20 µm</text>
<rect x="556.0" y="607.0" width="446.4" height="433.7" fill="#1e1e1e"/>
<path d="M556.7 607.0V1040.0H1001.6999999999999V607.0" fill="none" stroke="#5a5a5a" stroke-width="1.4"/>
<line x1="556.0" x2="1002.4" y1="607.6" y2="607.6" stroke="#3a3a3a" stroke-width="1.2"/>
<path d="M565.0 954.0h1.5v1.5h-1.5zM568.0 979.0h1.5v1.5h-1.5zM575.0 912.0h1.5v1.5h-1.5zM576.0 960.0h1.5v1.5h-1.5zM581.0 985.0h1.5v1.5h-1.5zM583.0 938.0h1.5v1.5h-1.5zM584.0 959.0h1.5v1.5h-1.5zM587.0 967.0h1.5v1.5h-1.5zM588.0 930.0h1.5v1.5h-1.5zM588.0 984.0h1.5v1.5h-1.5zM590.0 978.0h1.5v1.5h-1.5zM593.0 954.0h1.5v1.5h-1.5zM594.0 969.0h1.5v1.5h-1.5zM601.0 970.0h1.5v1.5h-1.5zM602.0 959.0h1.5v1.5h-1.5zM603.0 958.0h1.5v1.5h-1.5zM605.0 961.0h1.5v1.5h-1.5zM610.0 972.0h1.5v1.5h-1.5zM618.0 930.0h1.5v1.5h-1.5zM619.0 930.0h1.5v1.5h-1.5zM619.0 951.0h1.5v1.5h-1.5zM621.0 983.0h1.5v1.5h-1.5zM630.0 914.0h1.5v1.5h-1.5zM633.0 886.0h1.5v1.5h-1.5zM634.0 921.0h1.5v1.5h-1.5zM635.0 913.0h1.5v1.5h-1.5zM637.0 941.0h1.5v1.5h-1.5zM637.0 948.0h1.5v1.5h-1.5zM639.0 890.0h1.5v1.5h-1.5zM640.0 912.0h1.5v1.5h-1.5zM641.0 957.0h1.5v1.5h-1.5zM643.0 896.0h1.5v1.5h-1.5zM643.0 941.0h1.5v1.5h-1.5zM646.0 969.0h1.5v1.5h-1.5zM650.0 933.0h1.5v1.5h-1.5zM653.0 850.0h1.5v1.5h-1.5zM653.0 911.0h1.5v1.5h-1.5zM655.0 893.0h1.5v1.5h-1.5zM655.0 916.0h1.5v1.5h-1.5zM655.0 938.0h1.5v1.5h-1.5zM656.0 883.0h1.5v1.5h-1.5zM658.0 868.0h1.5v1.5h-1.5zM659.0 838.0h1.5v1.5h-1.5zM659.0 868.0h1.5v1.5h-1.5zM660.0 835.0h1.5v1.5h-1.5zM661.0 837.0h1.5v1.5h-1.5zM661.0 875.0h1.5v1.5h-1.5zM661.0 887.0h1.5v1.5h-1.5zM661.0 929.0h1.5v1.5h-1.5zM662.0 893.0h1.5v1.5h-1.5zM662.0 919.0h1.5v1.5h-1.5zM662.0 927.0h1.5v1.5h-1.5zM663.0 867.0h1.5v1.5h-1.5zM663.0 879.0h1.5v1.5h-1.5zM663.0 892.0h1.5v1.5h-1.5zM663.0 896.0h1.5v1.5h-1.5zM664.0 875.0h1.5v1.5h-1.5zM664.0 916.0h1.5v1.5h-1.5zM665.0 868.0h1.5v1.5h-1.5zM665.0 872.0h1.5v1.5h-1.5zM665.0 890.0h1.5v1.5h-1.5zM665.0 902.0h1.5v1.5h-1.5zM666.0 865.0h1.5v1.5h-1.5zM666.0 908.0h1.5v1.5h-1.5zM667.0 869.0h1.5v1.5h-1.5zM667.0 884.0h1.5v1.5h-1.5zM667.0 887.0h1.5v1.5h-1.5zM667.0 903.0h1.5v1.5h-1.5zM667.0 908.0h1.5v1.5h-1.5zM667.0 921.0h1.5v1.5h-1.5zM668.0 854.0h1.5v1.5h-1.5zM668.0 864.0h1.5v1.5h-1.5zM668.0 872.0h1.5v1.5h-1.5zM668.0 893.0h1.5v1.5h-1.5zM668.0 907.0h1.5v1.5h-1.5zM669.0 860.0h1.5v1.5h-1.5zM669.0 881.0h1.5v1.5h-1.5zM669.0 929.0h1.5v1.5h-1.5zM670.0 845.0h1.5v1.5h-1.5zM670.0 865.0h1.5v1.5h-1.5zM670.0 892.0h1.5v1.5h-1.5zM670.0 944.0h1.5v1.5h-1.5zM671.0 890.0h1.5v1.5h-1.5zM671.0 896.0h1.5v1.5h-1.5zM671.0 915.0h1.5v1.5h-1.5zM671.0 950.0h1.5v1.5h-1.5zM672.0 840.0h1.5v1.5h-1.5zM672.0 854.0h1.5v1.5h-1.5zM673.0 870.0h1.5v1.5h-1.5zM673.0 872.0h1.5v1.5h-1.5zM673.0 887.0h1.5v1.5h-1.5zM673.0 893.0h1.5v1.5h-1.5zM673.0 914.0h1.5v1.5h-1.5zM673.0 929.0h1.5v1.5h-1.5zM674.0 851.0h1.5v1.5h-1.5zM674.0 860.0h1.5v1.5h-1.5zM674.0 871.0h1.5v1.5h-1.5zM674.0 882.0h1.5v1.5h-1.5zM674.0 891.0h1.5v1.5h-1.5zM674.0 894.0h1.5v1.5h-1.5zM674.0 900.0h1.5v1.5h-1.5zM674.0 920.0h1.5v1.5h-1.5zM675.0 861.0h1.5v1.5h-1.5zM675.0 875.0h1.5v1.5h-1.5zM675.0 882.0h1.5v1.5h-1.5zM675.0 900.0h1.5v1.5h-1.5zM675.0 906.0h1.5v1.5h-1.5zM675.0 911.0h1.5v1.5h-1.5zM675.0 926.0h1.5v1.5h-1.5zM676.0 818.0h1.5v1.5h-1.5zM676.0 837.0h1.5v1.5h-1.5zM676.0 855.0h1.5v1.5h-1.5zM676.0 861.0h1.5v1.5h-1.5zM676.0 868.0h1.5v1.5h-1.5zM676.0 874.0h1.5v1.5h-1.5zM676.0 875.0h1.5v1.5h-1.5zM676.0 883.0h1.5v1.5h-1.5zM676.0 936.0h1.5v1.5h-1.5zM677.0 832.0h1.5v1.5h-1.5zM677.0 844.0h1.5v1.5h-1.5zM677.0 862.0h1.5v1.5h-1.5zM677.0 869.0h1.5v1.5h-1.5zM677.0 873.0h1.5v1.5h-1.5zM677.0 874.0h1.5v1.5h-1.5zM677.0 895.0h1.5v1.5h-1.5zM677.0 906.0h1.5v1.5h-1.5zM678.0 804.0h1.5v1.5h-1.5zM678.0 828.0h1.5v1.5h-1.5zM678.0 861.0h1.5v1.5h-1.5zM678.0 864.0h1.5v1.5h-1.5zM678.0 869.0h1.5v1.5h-1.5zM678.0 875.0h1.5v1.5h-1.5zM678.0 879.0h1.5v1.5h-1.5zM678.0 898.0h1.5v1.5h-1.5zM678.0 900.0h1.5v1.5h-1.5zM679.0 861.0h1.5v1.5h-1.5zM679.0 865.0h1.5v1.5h-1.5zM679.0 872.0h1.5v1.5h-1.5zM679.0 876.0h1.5v1.5h-1.5zM679.0 896.0h1.5v1.5h-1.5zM680.0 853.0h1.5v1.5h-1.5zM680.0 857.0h1.5v1.5h-1.5zM680.0 862.0h1.5v1.5h-1.5zM680.0 864.0h1.5v1.5h-1.5zM680.0 868.0h1.5v1.5h-1.5zM680.0 874.0h1.5v1.5h-1.5zM680.0 877.0h1.5v1.5h-1.5zM680.0 885.0h1.5v1.5h-1.5zM680.0 887.0h1.5v1.5h-1.5zM680.0 888.0h1.5v1.5h-1.5zM680.0 891.0h1.5v1.5h-1.5zM680.0 895.0h1.5v1.5h-1.5zM680.0 922.0h1.5v1.5h-1.5zM681.0 833.0h1.5v1.5h-1.5zM681.0 839.0h1.5v1.5h-1.5zM681.0 847.0h1.5v1.5h-1.5zM681.0 849.0h1.5v1.5h-1.5zM681.0 851.0h1.5v1.5h-1.5zM681.0 858.0h1.5v1.5h-1.5zM681.0 866.0h1.5v1.5h-1.5zM681.0 867.0h1.5v1.5h-1.5zM681.0 869.0h1.5v1.5h-1.5zM681.0 871.0h1.5v1.5h-1.5zM681.0 877.0h1.5v1.5h-1.5zM681.0 880.0h1.5v1.5h-1.5zM681.0 889.0h1.5v1.5h-1.5zM681.0 897.0h1.5v1.5h-1.5zM681.0 910.0h1.5v1.5h-1.5zM682.0 835.0h1.5v1.5h-1.5zM682.0 838.0h1.5v1.5h-1.5zM682.0 843.0h1.5v1.5h-1.5zM682.0 846.0h1.5v1.5h-1.5zM682.0 858.0h1.5v1.5h-1.5zM682.0 859.0h1.5v1.5h-1.5zM682.0 865.0h1.5v1.5h-1.5zM682.0 884.0h1.5v1.5h-1.5zM682.0 890.0h1.5v1.5h-1.5zM682.0 893.0h1.5v1.5h-1.5zM682.0 896.0h1.5v1.5h-1.5zM683.0 847.0h1.5v1.5h-1.5zM683.0 848.0h1.5v1.5h-1.5zM683.0 851.0h1.5v1.5h-1.5zM683.0 852.0h1.5v1.5h-1.5zM683.0 859.0h1.5v1.5h-1.5zM683.0 873.0h1.5v1.5h-1.5zM683.0 879.0h1.5v1.5h-1.5zM683.0 884.0h1.5v1.5h-1.5zM683.0 885.0h1.5v1.5h-1.5zM683.0 888.0h1.5v1.5h-1.5zM683.0 890.0h1.5v1.5h-1.5zM683.0 894.0h1.5v1.5h-1.5zM683.0 895.0h1.5v1.5h-1.5zM684.0 853.0h1.5v1.5h-1.5zM684.0 856.0h1.5v1.5h-1.5zM684.0 858.0h1.5v1.5h-1.5zM684.0 859.0h1.5v1.5h-1.5zM684.0 864.0h1.5v1.5h-1.5zM684.0 865.0h1.5v1.5h-1.5zM684.0 866.0h1.5v1.5h-1.5zM684.0 867.0h1.5v1.5h-1.5zM684.0 868.0h1.5v1.5h-1.5zM684.0 869.0h1.5v1.5h-1.5zM684.0 871.0h1.5v1.5h-1.5zM684.0 878.0h1.5v1.5h-1.5zM684.0 880.0h1.5v1.5h-1.5zM684.0 884.0h1.5v1.5h-1.5zM684.0 887.0h1.5v1.5h-1.5zM684.0 895.0h1.5v1.5h-1.5zM684.0 912.0h1.5v1.5h-1.5zM685.0 837.0h1.5v1.5h-1.5zM685.0 852.0h1.5v1.5h-1.5zM685.0 857.0h1.5v1.5h-1.5zM685.0 859.0h1.5v1.5h-1.5zM685.0 860.0h1.5v1.5h-1.5zM685.0 863.0h1.5v1.5h-1.5zM685.0 864.0h1.5v1.5h-1.5zM685.0 867.0h1.5v1.5h-1.5zM685.0 869.0h1.5v1.5h-1.5zM685.0 871.0h1.5v1.5h-1.5zM685.0 879.0h1.5v1.5h-1.5zM685.0 885.0h1.5v1.5h-1.5zM685.0 889.0h1.5v1.5h-1.5zM685.0 890.0h1.5v1.5h-1.5zM685.0 891.0h1.5v1.5h-1.5zM685.0 902.0h1.5v1.5h-1.5zM685.0 921.0h1.5v1.5h-1.5zM686.0 837.0h1.5v1.5h-1.5zM686.0 839.0h1.5v1.5h-1.5zM686.0 844.0h1.5v1.5h-1.5zM686.0 848.0h1.5v1.5h-1.5zM686.0 849.0h1.5v1.5h-1.5zM686.0 855.0h1.5v1.5h-1.5zM686.0 857.0h1.5v1.5h-1.5zM686.0 860.0h1.5v1.5h-1.5zM686.0 867.0h1.5v1.5h-1.5zM686.0 873.0h1.5v1.5h-1.5zM686.0 877.0h1.5v1.5h-1.5zM686.0 881.0h1.5v1.5h-1.5zM686.0 887.0h1.5v1.5h-1.5zM686.0 890.0h1.5v1.5h-1.5zM686.0 895.0h1.5v1.5h-1.5zM686.0 901.0h1.5v1.5h-1.5zM686.0 931.0h1.5v1.5h-1.5zM687.0 829.0h1.5v1.5h-1.5zM687.0 840.0h1.5v1.5h-1.5zM687.0 845.0h1.5v1.5h-1.5zM687.0 850.0h1.5v1.5h-1.5zM687.0 851.0h1.5v1.5h-1.5zM687.0 860.0h1.5v1.5h-1.5zM687.0 861.0h1.5v1.5h-1.5zM687.0 863.0h1.5v1.5h-1.5zM687.0 869.0h1.5v1.5h-1.5zM687.0 870.0h1.5v1.5h-1.5zM687.0 873.0h1.5v1.5h-1.5zM687.0 875.0h1.5v1.5h-1.5zM687.0 876.0h1.5v1.5h-1.5zM687.0 885.0h1.5v1.5h-1.5zM687.0 887.0h1.5v1.5h-1.5zM687.0 892.0h1.5v1.5h-1.5zM687.0 893.0h1.5v1.5h-1.5zM687.0 896.0h1.5v1.5h-1.5zM687.0 898.0h1.5v1.5h-1.5zM687.0 901.0h1.5v1.5h-1.5zM688.0 819.0h1.5v1.5h-1.5zM688.0 844.0h1.5v1.5h-1.5zM688.0 854.0h1.5v1.5h-1.5zM688.0 855.0h1.5v1.5h-1.5zM688.0 857.0h1.5v1.5h-1.5zM688.0 859.0h1.5v1.5h-1.5zM688.0 861.0h1.5v1.5h-1.5zM688.0 864.0h1.5v1.5h-1.5zM688.0 866.0h1.5v1.5h-1.5zM688.0 868.0h1.5v1.5h-1.5zM688.0 869.0h1.5v1.5h-1.5zM688.0 870.0h1.5v1.5h-1.5zM688.0 871.0h1.5v1.5h-1.5zM688.0 872.0h1.5v1.5h-1.5zM688.0 875.0h1.5v1.5h-1.5zM688.0 877.0h1.5v1.5h-1.5zM688.0 879.0h1.5v1.5h-1.5zM688.0 880.0h1.5v1.5h-1.5zM688.0 881.0h1.5v1.5h-1.5zM688.0 882.0h1.5v1.5h-1.5zM688.0 883.0h1.5v1.5h-1.5zM688.0 885.0h1.5v1.5h-1.5zM688.0 886.0h1.5v1.5h-1.5zM688.0 888.0h1.5v1.5h-1.5zM688.0 890.0h1.5v1.5h-1.5zM689.0 810.0h1.5v1.5h-1.5zM689.0 839.0h1.5v1.5h-1.5zM689.0 845.0h1.5v1.5h-1.5zM689.0 848.0h1.5v1.5h-1.5zM689.0 851.0h1.5v1.5h-1.5zM689.0 852.0h1.5v1.5h-1.5zM689.0 853.0h1.5v1.5h-1.5zM689.0 858.0h1.5v1.5h-1.5zM689.0 859.0h1.5v1.5h-1.5zM689.0 868.0h1.5v1.5h-1.5zM689.0 869.0h1.5v1.5h-1.5zM689.0 873.0h1.5v1.5h-1.5zM689.0 875.0h1.5v1.5h-1.5zM689.0 876.0h1.5v1.5h-1.5zM689.0 877.0h1.5v1.5h-1.5zM689.0 881.0h1.5v1.5h-1.5zM689.0 883.0h1.5v1.5h-1.5zM689.0 886.0h1.5v1.5h-1.5zM689.0 887.0h1.5v1.5h-1.5zM689.0 889.0h1.5v1.5h-1.5zM689.0 890.0h1.5v1.5h-1.5zM689.0 891.0h1.5v1.5h-1.5zM689.0 894.0h1.5v1.5h-1.5zM689.0 896.0h1.5v1.5h-1.5zM689.0 914.0h1.5v1.5h-1.5zM690.0 827.0h1.5v1.5h-1.5zM690.0 840.0h1.5v1.5h-1.5zM690.0 841.0h1.5v1.5h-1.5zM690.0 849.0h1.5v1.5h-1.5zM690.0 852.0h1.5v1.5h-1.5zM690.0 855.0h1.5v1.5h-1.5zM690.0 859.0h1.5v1.5h-1.5zM690.0 861.0h1.5v1.5h-1.5zM690.0 866.0h1.5v1.5h-1.5zM690.0 867.0h1.5v1.5h-1.5zM690.0 871.0h1.5v1.5h-1.5zM690.0 872.0h1.5v1.5h-1.5zM690.0 874.0h1.5v1.5h-1.5zM690.0 875.0h1.5v1.5h-1.5zM690.0 876.0h1.5v1.5h-1.5zM690.0 877.0h1.5v1.5h-1.5zM690.0 880.0h1.5v1.5h-1.5zM690.0 882.0h1.5v1.5h-1.5zM690.0 887.0h1.5v1.5h-1.5zM690.0 889.0h1.5v1.5h-1.5zM690.0 894.0h1.5v1.5h-1.5zM690.0 909.0h1.5v1.5h-1.5zM691.0 824.0h1.5v1.5h-1.5zM691.0 829.0h1.5v1.5h-1.5zM691.0 842.0h1.5v1.5h-1.5zM691.0 843.0h1.5v1.5h-1.5zM691.0 847.0h1.5v1.5h-1.5zM691.0 849.0h1.5v1.5h-1.5zM691.0 852.0h1.5v1.5h-1.5zM691.0 857.0h1.5v1.5h-1.5zM691.0 858.0h1.5v1.5h-1.5zM691.0 863.0h1.5v1.5h-1.5zM691.0 865.0h1.5v1.5h-1.5zM691.0 866.0h1.5v1.5h-1.5zM691.0 868.0h1.5v1.5h-1.5zM691.0 869.0h1.5v1.5h-1.5zM691.0 870.0h1.5v1.5h-1.5zM691.0 872.0h1.5v1.5h-1.5zM691.0 874.0h1.5v1.5h-1.5zM691.0 875.0h1.5v1.5h-1.5zM691.0 877.0h1.5v1.5h-1.5zM691.0 878.0h1.5v1.5h-1.5zM691.0 879.0h1.5v1.5h-1.5zM691.0 880.0h1.5v1.5h-1.5zM691.0 882.0h1.5v1.5h-1.5zM691.0 886.0h1.5v1.5h-1.5zM691.0 887.0h1.5v1.5h-1.5zM691.0 889.0h1.5v1.5h-1.5zM691.0 891.0h1.5v1.5h-1.5zM691.0 894.0h1.5v1.5h-1.5zM691.0 897.0h1.5v1.5h-1.5zM691.0 898.0h1.5v1.5h-1.5zM691.0 904.0h1.5v1.5h-1.5zM691.0 905.0h1.5v1.5h-1.5zM691.0 911.0h1.5v1.5h-1.5zM691.0 915.0h1.5v1.5h-1.5zM692.0 828.0h1.5v1.5h-1.5zM692.0 837.0h1.5v1.5h-1.5zM692.0 839.0h1.5v1.5h-1.5zM692.0 848.0h1.5v1.5h-1.5zM692.0 852.0h1.5v1.5h-1.5zM692.0 853.0h1.5v1.5h-1.5zM692.0 856.0h1.5v1.5h-1.5zM692.0 857.0h1.5v1.5h-1.5zM692.0 858.0h1.5v1.5h-1.5zM692.0 863.0h1.5v1.5h-1.5zM692.0 865.0h1.5v1.5h-1.5zM692.0 867.0h1.5v1.5h-1.5zM692.0 868.0h1.5v1.5h-1.5zM692.0 874.0h1.5v1.5h-1.5zM692.0 875.0h1.5v1.5h-1.5zM692.0 878.0h1.5v1.5h-1.5zM692.0 879.0h1.5v1.5h-1.5zM692.0 880.0h1.5v1.5h-1.5zM692.0 881.0h1.5v1.5h-1.5zM692.0 883.0h1.5v1.5h-1.5zM692.0 884.0h1.5v1.5h-1.5zM692.0 889.0h1.5v1.5h-1.5zM692.0 890.0h1.5v1.5h-1.5zM692.0 892.0h1.5v1.5h-1.5zM692.0 896.0h1.5v1.5h-1.5zM692.0 897.0h1.5v1.5h-1.5zM692.0 900.0h1.5v1.5h-1.5zM692.0 920.0h1.5v1.5h-1.5zM693.0 784.0h1.5v1.5h-1.5zM693.0 834.0h1.5v1.5h-1.5zM693.0 839.0h1.5v1.5h-1.5zM693.0 840.0h1.5v1.5h-1.5zM693.0 850.0h1.5v1.5h-1.5zM693.0 856.0h1.5v1.5h-1.5zM693.0 857.0h1.5v1.5h-1.5zM693.0 858.0h1.5v1.5h-1.5zM693.0 859.0h1.5v1.5h-1.5zM693.0 863.0h1.5v1.5h-1.5zM693.0 864.0h1.5v1.5h-1.5zM693.0 870.0h1.5v1.5h-1.5zM693.0 871.0h1.5v1.5h-1.5zM693.0 872.0h1.5v1.5h-1.5zM693.0 873.0h1.5v1.5h-1.5zM693.0 875.0h1.5v1.5h-1.5zM693.0 876.0h1.5v1.5h-1.5zM693.0 877.0h1.5v1.5h-1.5zM693.0 878.0h1.5v1.5h-1.5zM693.0 879.0h1.5v1.5h-1.5zM693.0 880.0h1.5v1.5h-1.5zM693.0 882.0h1.5v1.5h-1.5zM693.0 883.0h1.5v1.5h-1.5zM693.0 885.0h1.5v1.5h-1.5zM693.0 886.0h1.5v1.5h-1.5zM693.0 888.0h1.5v1.5h-1.5zM693.0 889.0h1.5v1.5h-1.5zM693.0 890.0h1.5v1.5h-1.5zM693.0 891.0h1.5v1.5h-1.5zM693.0 893.0h1.5v1.5h-1.5zM693.0 899.0h1.5v1.5h-1.5zM694.0 852.0h1.5v1.5h-1.5zM694.0 857.0h1.5v1.5h-1.5zM694.0 860.0h1.5v1.5h-1.5zM694.0 861.0h1.5v1.5h-1.5zM694.0 862.0h1.5v1.5h-1.5zM694.0 863.0h1.5v1.5h-1.5zM694.0 865.0h1.5v1.5h-1.5zM694.0 867.0h1.5v1.5h-1.5zM694.0 869.0h1.5v1.5h-1.5zM694.0 872.0h1.5v1.5h-1.5zM694.0 877.0h1.5v1.5h-1.5zM694.0 879.0h1.5v1.5h-1.5zM694.0 880.0h1.5v1.5h-1.5zM694.0 882.0h1.5v1.5h-1.5zM694.0 883.0h1.5v1.5h-1.5zM694.0 884.0h1.5v1.5h-1.5zM694.0 885.0h1.5v1.5h-1.5zM694.0 887.0h1.5v1.5h-1.5zM694.0 889.0h1.5v1.5h-1.5zM694.0 892.0h1.5v1.5h-1.5zM694.0 893.0h1.5v1.5h-1.5zM694.0 894.0h1.5v1.5h-1.5zM694.0 898.0h1.5v1.5h-1.5zM694.0 900.0h1.5v1.5h-1.5zM694.0 907.0h1.5v1.5h-1.5zM694.0 932.0h1.5v1.5h-1.5zM695.0 803.0h1.5v1.5h-1.5zM695.0 830.0h1.5v1.5h-1.5zM695.0 839.0h1.5v1.5h-1.5zM695.0 845.0h1.5v1.5h-1.5zM695.0 846.0h1.5v1.5h-1.5zM695.0 848.0h1.5v1.5h-1.5zM695.0 852.0h1.5v1.5h-1.5zM695.0 856.0h1.5v1.5h-1.5zM695.0 857.0h1.5v1.5h-1.5zM695.0 858.0h1.5v1.5h-1.5zM695.0 860.0h1.5v1.5h-1.5zM695.0 863.0h1.5v1.5h-1.5zM695.0 864.0h1.5v1.5h-1.5zM695.0 868.0h1.5v1.5h-1.5zM695.0 870.0h1.5v1.5h-1.5zM695.0 871.0h1.5v1.5h-1.5zM695.0 872.0h1.5v1.5h-1.5zM695.0 874.0h1.5v1.5h-1.5zM695.0 875.0h1.5v1.5h-1.5zM695.0 879.0h1.5v1.5h-1.5zM695.0 880.0h1.5v1.5h-1.5zM695.0 882.0h1.5v1.5h-1.5zM695.0 883.0h1.5v1.5h-1.5zM695.0 884.0h1.5v1.5h-1.5zM695.0 890.0h1.5v1.5h-1.5zM695.0 891.0h1.5v1.5h-1.5zM695.0 892.0h1.5v1.5h-1.5zM695.0 894.0h1.5v1.5h-1.5zM695.0 903.0h1.5v1.5h-1.5zM696.0 807.0h1.5v1.5h-1.5zM696.0 832.0h1.5v1.5h-1.5zM696.0 837.0h1.5v1.5h-1.5zM696.0 848.0h1.5v1.5h-1.5zM696.0 851.0h1.5v1.5h-1.5zM696.0 852.0h1.5v1.5h-1.5zM696.0 853.0h1.5v1.5h-1.5zM696.0 856.0h1.5v1.5h-1.5zM696.0 857.0h1.5v1.5h-1.5zM696.0 860.0h1.5v1.5h-1.5zM696.0 862.0h1.5v1.5h-1.5zM696.0 863.0h1.5v1.5h-1.5zM696.0 865.0h1.5v1.5h-1.5zM696.0 866.0h1.5v1.5h-1.5zM696.0 869.0h1.5v1.5h-1.5zM696.0 871.0h1.5v1.5h-1.5zM696.0 873.0h1.5v1.5h-1.5zM696.0 874.0h1.5v1.5h-1.5zM696.0 875.0h1.5v1.5h-1.5zM696.0 879.0h1.5v1.5h-1.5zM696.0 880.0h1.5v1.5h-1.5zM696.0 882.0h1.5v1.5h-1.5zM696.0 883.0h1.5v1.5h-1.5zM696.0 887.0h1.5v1.5h-1.5zM696.0 892.0h1.5v1.5h-1.5zM696.0 894.0h1.5v1.5h-1.5zM696.0 895.0h1.5v1.5h-1.5zM696.0 896.0h1.5v1.5h-1.5zM696.0 927.0h1.5v1.5h-1.5zM697.0 818.0h1.5v1.5h-1.5zM697.0 819.0h1.5v1.5h-1.5zM697.0 827.0h1.5v1.5h-1.5zM697.0 828.0h1.5v1.5h-1.5zM697.0 831.0h1.5v1.5h-1.5zM697.0 835.0h1.5v1.5h-1.5zM697.0 838.0h1.5v1.5h-1.5zM697.0 839.0h1.5v1.5h-1.5zM697.0 841.0h1.5v1.5h-1.5zM697.0 843.0h1.5v1.5h-1.5zM697.0 844.0h1.5v1.5h-1.5zM697.0 850.0h1.5v1.5h-1.5zM697.0 851.0h1.5v1.5h-1.5zM697.0 852.0h1.5v1.5h-1.5zM697.0 855.0h1.5v1.5h-1.5zM697.0 856.0h1.5v1.5h-1.5zM697.0 860.0h1.5v1.5h-1.5zM697.0 861.0h1.5v1.5h-1.5zM697.0 862.0h1.5v1.5h-1.5zM697.0 865.0h1.5v1.5h-1.5zM697.0 867.0h1.5v1.5h-1.5zM697.0 875.0h1.5v1.5h-1.5zM697.0 876.0h1.5v1.5h-1.5zM697.0 877.0h1.5v1.5h-1.5zM697.0 879.0h1.5v1.5h-1.5zM697.0 881.0h1.5v1.5h-1.5zM697.0 882.0h1.5v1.5h-1.5zM697.0 883.0h1.5v1.5h-1.5zM697.0 886.0h1.5v1.5h-1.5zM697.0 887.0h1.5v1.5h-1.5zM697.0 892.0h1.5v1.5h-1.5zM697.0 897.0h1.5v1.5h-1.5zM697.0 900.0h1.5v1.5h-1.5zM697.0 903.0h1.5v1.5h-1.5zM698.0 794.0h1.5v1.5h-1.5zM698.0 820.0h1.5v1.5h-1.5zM698.0 834.0h1.5v1.5h-1.5zM698.0 841.0h1.5v1.5h-1.5zM698.0 843.0h1.5v1.5h-1.5zM698.0 844.0h1.5v1.5h-1.5zM698.0 854.0h1.5v1.5h-1.5zM698.0 856.0h1.5v1.5h-1.5zM698.0 857.0h1.5v1.5h-1.5zM698.0 858.0h1.5v1.5h-1.5zM698.0 859.0h1.5v1.5h-1.5zM698.0 860.0h1.5v1.5h-1.5zM698.0 861.0h1.5v1.5h-1.5zM698.0 864.0h1.5v1.5h-1.5zM698.0 865.0h1.5v1.5h-1.5zM698.0 868.0h1.5v1.5h-1.5zM698.0 869.0h1.5v1.5h-1.5zM698.0 870.0h1.5v1.5h-1.5zM698.0 871.0h1.5v1.5h-1.5zM698.0 873.0h1.5v1.5h-1.5zM698.0 874.0h1.5v1.5h-1.5zM698.0 875.0h1.5v1.5h-1.5zM698.0 877.0h1.5v1.5h-1.5zM698.0 878.0h1.5v1.5h-1.5zM698.0 879.0h1.5v1.5h-1.5zM698.0 880.0h1.5v1.5h-1.5zM698.0 881.0h1.5v1.5h-1.5zM698.0 883.0h1.5v1.5h-1.5zM698.0 887.0h1.5v1.5h-1.5zM698.0 890.0h1.5v1.5h-1.5zM698.0 891.0h1.5v1.5h-1.5zM698.0 896.0h1.5v1.5h-1.5zM698.0 904.0h1.5v1.5h-1.5zM698.0 910.0h1.5v1.5h-1.5zM698.0 936.0h1.5v1.5h-1.5zM699.0 830.0h1.5v1.5h-1.5zM699.0 831.0h1.5v1.5h-1.5zM699.0 836.0h1.5v1.5h-1.5zM699.0 844.0h1.5v1.5h-1.5zM699.0 846.0h1.5v1.5h-1.5zM699.0 848.0h1.5v1.5h-1.5zM699.0 849.0h1.5v1.5h-1.5zM699.0 850.0h1.5v1.5h-1.5zM699.0 851.0h1.5v1.5h-1.5zM699.0 853.0h1.5v1.5h-1.5zM699.0 854.0h1.5v1.5h-1.5zM699.0 857.0h1.5v1.5h-1.5zM699.0 858.0h1.5v1.5h-1.5zM699.0 860.0h1.5v1.5h-1.5zM699.0 861.0h1.5v1.5h-1.5zM699.0 863.0h1.5v1.5h-1.5zM699.0 865.0h1.5v1.5h-1.5zM699.0 868.0h1.5v1.5h-1.5zM699.0 870.0h1.5v1.5h-1.5zM699.0 871.0h1.5v1.5h-1.5zM699.0 872.0h1.5v1.5h-1.5zM699.0 874.0h1.5v1.5h-1.5zM699.0 875.0h1.5v1.5h-1.5zM699.0 877.0h1.5v1.5h-1.5zM699.0 879.0h1.5v1.5h-1.5zM699.0 880.0h1.5v1.5h-1.5zM699.0 881.0h1.5v1.5h-1.5zM699.0 883.0h1.5v1.5h-1.5zM699.0 885.0h1.5v1.5h-1.5zM699.0 888.0h1.5v1.5h-1.5zM699.0 894.0h1.5v1.5h-1.5zM699.0 900.0h1.5v1.5h-1.5zM699.0 916.0h1.5v1.5h-1.5zM699.0 938.0h1.5v1.5h-1.5zM700.0 802.0h1.5v1.5h-1.5zM700.0 816.0h1.5v1.5h-1.5zM700.0 821.0h1.5v1.5h-1.5zM700.0 824.0h1.5v1.5h-1.5zM700.0 826.0h1.5v1.5h-1.5zM700.0 828.0h1.5v1.5h-1.5zM700.0 831.0h1.5v1.5h-1.5zM700.0 835.0h1.5v1.5h-1.5zM700.0 837.0h1.5v1.5h-1.5zM700.0 843.0h1.5v1.5h-1.5zM700.0 849.0h1.5v1.5h-1.5zM700.0 851.0h1.5v1.5h-1.5zM700.0 854.0h1.5v1.5h-1.5zM700.0 855.0h1.5v1.5h-1.5zM700.0 857.0h1.5v1.5h-1.5zM700.0 859.0h1.5v1.5h-1.5zM700.0 860.0h1.5v1.5h-1.5zM700.0 862.0h1.5v1.5h-1.5zM700.0 863.0h1.5v1.5h-1.5zM700.0 864.0h1.5v1.5h-1.5zM700.0 867.0h1.5v1.5h-1.5zM700.0 870.0h1.5v1.5h-1.5zM700.0 871.0h1.5v1.5h-1.5zM700.0 873.0h1.5v1.5h-1.5zM700.0 875.0h1.5v1.5h-1.5zM700.0 877.0h1.5v1.5h-1.5zM700.0 878.0h1.5v1.5h-1.5zM700.0 879.0h1.5v1.5h-1.5zM700.0 880.0h1.5v1.5h-1.5zM700.0 883.0h1.5v1.5h-1.5zM700.0 884.0h1.5v1.5h-1.5zM700.0 887.0h1.5v1.5h-1.5zM700.0 896.0h1.5v1.5h-1.5zM700.0 904.0h1.5v1.5h-1.5zM700.0 914.0h1.5v1.5h-1.5zM700.0 933.0h1.5v1.5h-1.5zM701.0 817.0h1.5v1.5h-1.5zM701.0 842.0h1.5v1.5h-1.5zM701.0 844.0h1.5v1.5h-1.5zM701.0 845.0h1.5v1.5h-1.5zM701.0 846.0h1.5v1.5h-1.5zM701.0 850.0h1.5v1.5h-1.5zM701.0 851.0h1.5v1.5h-1.5zM701.0 852.0h1.5v1.5h-1.5zM701.0 853.0h1.5v1.5h-1.5zM701.0 855.0h1.5v1.5h-1.5zM701.0 856.0h1.5v1.5h-1.5zM701.0 857.0h1.5v1.5h-1.5zM701.0 859.0h1.5v1.5h-1.5zM701.0 860.0h1.5v1.5h-1.5zM701.0 861.0h1.5v1.5h-1.5zM701.0 862.0h1.5v1.5h-1.5zM701.0 863.0h1.5v1.5h-1.5zM701.0 866.0h1.5v1.5h-1.5zM701.0 868.0h1.5v1.5h-1.5zM701.0 870.0h1.5v1.5h-1.5zM701.0 871.0h1.5v1.5h-1.5zM701.0 872.0h1.5v1.5h-1.5zM701.0 873.0h1.5v1.5h-1.5zM701.0 874.0h1.5v1.5h-1.5zM701.0 875.0h1.5v1.5h-1.5zM701.0 876.0h1.5v1.5h-1.5zM701.0 877.0h1.5v1.5h-1.5zM701.0 878.0h1.5v1.5h-1.5zM701.0 882.0h1.5v1.5h-1.5zM701.0 883.0h1.5v1.5h-1.5zM701.0 885.0h1.5v1.5h-1.5zM701.0 892.0h1.5v1.5h-1.5zM701.0 894.0h1.5v1.5h-1.5zM701.0 898.0h1.5v1.5h-1.5zM701.0 899.0h1.5v1.5h-1.5zM701.0 901.0h1.5v1.5h-1.5zM701.0 905.0h1.5v1.5h-1.5zM701.0 913.0h1.5v1.5h-1.5zM702.0 801.0h1.5v1.5h-1.5zM702.0 818.0h1.5v1.5h-1.5zM702.0 820.0h1.5v1.5h-1.5zM702.0 835.0h1.5v1.5h-1.5zM702.0 841.0h1.5v1.5h-1.5zM702.0 844.0h1.5v1.5h-1.5zM702.0 845.0h1.5v1.5h-1.5zM702.0 848.0h1.5v1.5h-1.5zM702.0 850.0h1.5v1.5h-1.5zM702.0 852.0h1.5v1.5h-1.5zM702.0 853.0h1.5v1.5h-1.5zM702.0 855.0h1.5v1.5h-1.5zM702.0 858.0h1.5v1.5h-1.5zM702.0 859.0h1.5v1.5h-1.5zM702.0 861.0h1.5v1.5h-1.5zM702.0 863.0h1.5v1.5h-1.5zM702.0 865.0h1.5v1.5h-1.5zM702.0 866.0h1.5v1.5h-1.5zM702.0 867.0h1.5v1.5h-1.5zM702.0 868.0h1.5v1.5h-1.5zM702.0 869.0h1.5v1.5h-1.5zM702.0 871.0h1.5v1.5h-1.5zM702.0 872.0h1.5v1.5h-1.5zM702.0 873.0h1.5v1.5h-1.5zM702.0 876.0h1.5v1.5h-1.5zM702.0 877.0h1.5v1.5h-1.5zM702.0 878.0h1.5v1.5h-1.5zM702.0 879.0h1.5v1.5h-1.5zM702.0 880.0h1.5v1.5h-1.5zM702.0 882.0h1.5v1.5h-1.5zM702.0 884.0h1.5v1.5h-1.5zM702.0 887.0h1.5v1.5h-1.5zM702.0 891.0h1.5v1.5h-1.5zM702.0 892.0h1.5v1.5h-1.5zM702.0 896.0h1.5v1.5h-1.5zM702.0 900.0h1.5v1.5h-1.5zM702.0 914.0h1.5v1.5h-1.5zM703.0 820.0h1.5v1.5h-1.5zM703.0 826.0h1.5v1.5h-1.5zM703.0 831.0h1.5v1.5h-1.5zM703.0 835.0h1.5v1.5h-1.5zM703.0 837.0h1.5v1.5h-1.5zM703.0 844.0h1.5v1.5h-1.5zM703.0 845.0h1.5v1.5h-1.5zM703.0 847.0h1.5v1.5h-1.5zM703.0 849.0h1.5v1.5h-1.5zM703.0 850.0h1.5v1.5h-1.5zM703.0 852.0h1.5v1.5h-1.5zM703.0 853.0h1.5v1.5h-1.5zM703.0 856.0h1.5v1.5h-1.5zM703.0 857.0h1.5v1.5h-1.5zM703.0 858.0h1.5v1.5h-1.5zM703.0 859.0h1.5v1.5h-1.5zM703.0 861.0h1.5v1.5h-1.5zM703.0 862.0h1.5v1.5h-1.5zM703.0 863.0h1.5v1.5h-1.5zM703.0 864.0h1.5v1.5h-1.5zM703.0 865.0h1.5v1.5h-1.5zM703.0 866.0h1.5v1.5h-1.5zM703.0 867.0h1.5v1.5h-1.5zM703.0 869.0h1.5v1.5h-1.5zM703.0 873.0h1.5v1.5h-1.5zM703.0 874.0h1.5v1.5h-1.5zM703.0 875.0h1.5v1.5h-1.5zM703.0 876.0h1.5v1.5h-1.5zM703.0 877.0h1.5v1.5h-1.5zM703.0 879.0h1.5v1.5h-1.5zM703.0 882.0h1.5v1.5h-1.5zM703.0 883.0h1.5v1.5h-1.5zM703.0 884.0h1.5v1.5h-1.5zM703.0 886.0h1.5v1.5h-1.5zM703.0 887.0h1.5v1.5h-1.5zM703.0 888.0h1.5v1.5h-1.5zM703.0 890.0h1.5v1.5h-1.5zM703.0 892.0h1.5v1.5h-1.5zM703.0 893.0h1.5v1.5h-1.5zM703.0 900.0h1.5v1.5h-1.5zM703.0 911.0h1.5v1.5h-1.5zM703.0 922.0h1.5v1.5h-1.5zM704.0 833.0h1.5v1.5h-1.5zM704.0 835.0h1.5v1.5h-1.5zM704.0 837.0h1.5v1.5h-1.5zM704.0 843.0h1.5v1.5h-1.5zM704.0 844.0h1.5v1.5h-1.5zM704.0 850.0h1.5v1.5h-1.5zM704.0 852.0h1.5v1.5h-1.5zM704.0 853.0h1.5v1.5h-1.5zM704.0 854.0h1.5v1.5h-1.5zM704.0 856.0h1.5v1.5h-1.5zM704.0 857.0h1.5v1.5h-1.5zM704.0 858.0h1.5v1.5h-1.5zM704.0 859.0h1.5v1.5h-1.5zM704.0 860.0h1.5v1.5h-1.5zM704.0 861.0h1.5v1.5h-1.5zM704.0 862.0h1.5v1.5h-1.5zM704.0 863.0h1.5v1.5h-1.5zM704.0 864.0h1.5v1.5h-1.5zM704.0 866.0h1.5v1.5h-1.5zM704.0 867.0h1.5v1.5h-1.5zM704.0 868.0h1.5v1.5h-1.5zM704.0 869.0h1.5v1.5h-1.5zM704.0 870.0h1.5v1.5h-1.5zM704.0 871.0h1.5v1.5h-1.5zM704.0 872.0h1.5v1.5h-1.5zM704.0 873.0h1.5v1.5h-1.5zM704.0 874.0h1.5v1.5h-1.5zM704.0 875.0h1.5v1.5h-1.5zM704.0 876.0h1.5v1.5h-1.5zM704.0 878.0h1.5v1.5h-1.5zM704.0 880.0h1.5v1.5h-1.5zM704.0 882.0h1.5v1.5h-1.5zM704.0 885.0h1.5v1.5h-1.5zM704.0 886.0h1.5v1.5h-1.5zM704.0 891.0h1.5v1.5h-1.5zM704.0 892.0h1.5v1.5h-1.5zM704.0 894.0h1.5v1.5h-1.5zM704.0 897.0h1.5v1.5h-1.5zM705.0 821.0h1.5v1.5h-1.5zM705.0 829.0h1.5v1.5h-1.5zM705.0 834.0h1.5v1.5h-1.5zM705.0 839.0h1.5v1.5h-1.5zM705.0 841.0h1.5v1.5h-1.5zM705.0 843.0h1.5v1.5h-1.5zM705.0 844.0h1.5v1.5h-1.5zM705.0 847.0h1.5v1.5h-1.5zM705.0 848.0h1.5v1.5h-1.5zM705.0 849.0h1.5v1.5h-1.5zM705.0 850.0h1.5v1.5h-1.5zM705.0 855.0h1.5v1.5h-1.5zM705.0 857.0h1.5v1.5h-1.5zM705.0 858.0h1.5v1.5h-1.5zM705.0 860.0h1.5v1.5h-1.5zM705.0 862.0h1.5v1.5h-1.5zM705.0 863.0h1.5v1.5h-1.5zM705.0 864.0h1.5v1.5h-1.5zM705.0 865.0h1.5v1.5h-1.5zM705.0 866.0h1.5v1.5h-1.5zM705.0 868.0h1.5v1.5h-1.5zM705.0 869.0h1.5v1.5h-1.5zM705.0 870.0h1.5v1.5h-1.5zM705.0 871.0h1.5v1.5h-1.5zM705.0 873.0h1.5v1.5h-1.5zM705.0 874.0h1.5v1.5h-1.5zM705.0 875.0h1.5v1.5h-1.5zM705.0 876.0h1.5v1.5h-1.5zM705.0 877.0h1.5v1.5h-1.5zM705.0 878.0h1.5v1.5h-1.5zM705.0 880.0h1.5v1.5h-1.5zM705.0 883.0h1.5v1.5h-1.5zM705.0 884.0h1.5v1.5h-1.5zM705.0 885.0h1.5v1.5h-1.5zM705.0 887.0h1.5v1.5h-1.5zM705.0 888.0h1.5v1.5h-1.5zM705.0 889.0h1.5v1.5h-1.5zM705.0 894.0h1.5v1.5h-1.5zM705.0 895.0h1.5v1.5h-1.5zM705.0 911.0h1.5v1.5h-1.5zM705.0 936.0h1.5v1.5h-1.5zM706.0 827.0h1.5v1.5h-1.5zM706.0 828.0h1.5v1.5h-1.5zM706.0 829.0h1.5v1.5h-1.5zM706.0 832.0h1.5v1.5h-1.5zM706.0 844.0h1.5v1.5h-1.5zM706.0 845.0h1.5v1.5h-1.5zM706.0 849.0h1.5v1.5h-1.5zM706.0 850.0h1.5v1.5h-1.5zM706.0 856.0h1.5v1.5h-1.5zM706.0 859.0h1.5v1.5h-1.5zM706.0 861.0h1.5v1.5h-1.5zM706.0 862.0h1.5v1.5h-1.5zM706.0 863.0h1.5v1.5h-1.5zM706.0 865.0h1.5v1.5h-1.5zM706.0 866.0h1.5v1.5h-1.5zM706.0 868.0h1.5v1.5h-1.5zM706.0 870.0h1.5v1.5h-1.5zM706.0 871.0h1.5v1.5h-1.5zM706.0 875.0h1.5v1.5h-1.5zM706.0 876.0h1.5v1.5h-1.5zM706.0 877.0h1.5v1.5h-1.5zM706.0 878.0h1.5v1.5h-1.5zM706.0 881.0h1.5v1.5h-1.5zM706.0 883.0h1.5v1.5h-1.5zM706.0 884.0h1.5v1.5h-1.5zM706.0 885.0h1.5v1.5h-1.5zM706.0 886.0h1.5v1.5h-1.5zM706.0 888.0h1.5v1.5h-1.5zM706.0 894.0h1.5v1.5h-1.5zM706.0 897.0h1.5v1.5h-1.5zM706.0 898.0h1.5v1.5h-1.5zM706.0 900.0h1.5v1.5h-1.5zM707.0 807.0h1.5v1.5h-1.5zM707.0 822.0h1.5v1.5h-1.5zM707.0 827.0h1.5v1.5h-1.5zM707.0 830.0h1.5v1.5h-1.5zM707.0 833.0h1.5v1.5h-1.5zM707.0 836.0h1.5v1.5h-1.5zM707.0 838.0h1.5v1.5h-1.5zM707.0 842.0h1.5v1.5h-1.5zM707.0 844.0h1.5v1.5h-1.5zM707.0 845.0h1.5v1.5h-1.5zM707.0 850.0h1.5v1.5h-1.5zM707.0 851.0h1.5v1.5h-1.5zM707.0 852.0h1.5v1.5h-1.5zM707.0 853.0h1.5v1.5h-1.5zM707.0 854.0h1.5v1.5h-1.5zM707.0 855.0h1.5v1.5h-1.5zM707.0 857.0h1.5v1.5h-1.5zM707.0 863.0h1.5v1.5h-1.5zM707.0 864.0h1.5v1.5h-1.5zM707.0 865.0h1.5v1.5h-1.5zM707.0 867.0h1.5v1.5h-1.5zM707.0 868.0h1.5v1.5h-1.5zM707.0 869.0h1.5v1.5h-1.5zM707.0 871.0h1.5v1.5h-1.5zM707.0 873.0h1.5v1.5h-1.5zM707.0 875.0h1.5v1.5h-1.5zM707.0 876.0h1.5v1.5h-1.5zM707.0 877.0h1.5v1.5h-1.5zM707.0 878.0h1.5v1.5h-1.5zM707.0 881.0h1.5v1.5h-1.5zM707.0 882.0h1.5v1.5h-1.5zM707.0 884.0h1.5v1.5h-1.5zM707.0 888.0h1.5v1.5h-1.5zM707.0 890.0h1.5v1.5h-1.5zM707.0 891.0h1.5v1.5h-1.5zM707.0 892.0h1.5v1.5h-1.5zM707.0 897.0h1.5v1.5h-1.5zM707.0 899.0h1.5v1.5h-1.5zM707.0 904.0h1.5v1.5h-1.5zM708.0 795.0h1.5v1.5h-1.5zM708.0 827.0h1.5v1.5h-1.5zM708.0 829.0h1.5v1.5h-1.5zM708.0 832.0h1.5v1.5h-1.5zM708.0 837.0h1.5v1.5h-1.5zM708.0 842.0h1.5v1.5h-1.5zM708.0 843.0h1.5v1.5h-1.5zM708.0 846.0h1.5v1.5h-1.5zM708.0 847.0h1.5v1.5h-1.5zM708.0 848.0h1.5v1.5h-1.5zM708.0 849.0h1.5v1.5h-1.5zM708.0 850.0h1.5v1.5h-1.5zM708.0 853.0h1.5v1.5h-1.5zM708.0 855.0h1.5v1.5h-1.5zM708.0 856.0h1.5v1.5h-1.5zM708.0 857.0h1.5v1.5h-1.5zM708.0 858.0h1.5v1.5h-1.5zM708.0 859.0h1.5v1.5h-1.5zM708.0 860.0h1.5v1.5h-1.5zM708.0 862.0h1.5v1.5h-1.5zM708.0 865.0h1.5v1.5h-1.5zM708.0 866.0h1.5v1.5h-1.5zM708.0 867.0h1.5v1.5h-1.5zM708.0 868.0h1.5v1.5h-1.5zM708.0 869.0h1.5v1.5h-1.5zM708.0 871.0h1.5v1.5h-1.5zM708.0 872.0h1.5v1.5h-1.5zM708.0 874.0h1.5v1.5h-1.5zM708.0 876.0h1.5v1.5h-1.5zM708.0 877.0h1.5v1.5h-1.5zM708.0 879.0h1.5v1.5h-1.5zM708.0 883.0h1.5v1.5h-1.5zM708.0 885.0h1.5v1.5h-1.5zM708.0 887.0h1.5v1.5h-1.5zM708.0 888.0h1.5v1.5h-1.5zM708.0 890.0h1.5v1.5h-1.5zM708.0 893.0h1.5v1.5h-1.5zM708.0 895.0h1.5v1.5h-1.5zM708.0 910.0h1.5v1.5h-1.5zM709.0 804.0h1.5v1.5h-1.5zM709.0 814.0h1.5v1.5h-1.5zM709.0 827.0h1.5v1.5h-1.5zM709.0 831.0h1.5v1.5h-1.5zM709.0 837.0h1.5v1.5h-1.5zM709.0 841.0h1.5v1.5h-1.5zM709.0 842.0h1.5v1.5h-1.5zM709.0 845.0h1.5v1.5h-1.5zM709.0 848.0h1.5v1.5h-1.5zM709.0 849.0h1.5v1.5h-1.5zM709.0 850.0h1.5v1.5h-1.5zM709.0 851.0h1.5v1.5h-1.5zM709.0 852.0h1.5v1.5h-1.5zM709.0 853.0h1.5v1.5h-1.5zM709.0 854.0h1.5v1.5h-1.5zM709.0 855.0h1.5v1.5h-1.5zM709.0 857.0h1.5v1.5h-1.5zM709.0 858.0h1.5v1.5h-1.5zM709.0 861.0h1.5v1.5h-1.5zM709.0 862.0h1.5v1.5h-1.5zM709.0 863.0h1.5v1.5h-1.5zM709.0 865.0h1.5v1.5h-1.5zM709.0 867.0h1.5v1.5h-1.5zM709.0 868.0h1.5v1.5h-1.5zM709.0 869.0h1.5v1.5h-1.5zM709.0 870.0h1.5v1.5h-1.5zM709.0 871.0h1.5v1.5h-1.5zM709.0 872.0h1.5v1.5h-1.5zM709.0 874.0h1.5v1.5h-1.5zM709.0 876.0h1.5v1.5h-1.5zM709.0 877.0h1.5v1.5h-1.5zM709.0 878.0h1.5v1.5h-1.5zM709.0 879.0h1.5v1.5h-1.5zM709.0 882.0h1.5v1.5h-1.5zM709.0 883.0h1.5v1.5h-1.5zM709.0 885.0h1.5v1.5h-1.5zM709.0 890.0h1.5v1.5h-1.5zM709.0 891.0h1.5v1.5h-1.5zM709.0 892.0h1.5v1.5h-1.5zM709.0 895.0h1.5v1.5h-1.5zM709.0 896.0h1.5v1.5h-1.5zM709.0 897.0h1.5v1.5h-1.5zM709.0 918.0h1.5v1.5h-1.5zM710.0 806.0h1.5v1.5h-1.5zM710.0 810.0h1.5v1.5h-1.5zM710.0 819.0h1.5v1.5h-1.5zM710.0 823.0h1.5v1.5h-1.5zM710.0 828.0h1.5v1.5h-1.5zM710.0 829.0h1.5v1.5h-1.5zM710.0 833.0h1.5v1.5h-1.5zM710.0 838.0h1.5v1.5h-1.5zM710.0 842.0h1.5v1.5h-1.5zM710.0 843.0h1.5v1.5h-1.5zM710.0 844.0h1.5v1.5h-1.5zM710.0 848.0h1.5v1.5h-1.5zM710.0 850.0h1.5v1.5h-1.5zM710.0 851.0h1.5v1.5h-1.5zM710.0 852.0h1.5v1.5h-1.5zM710.0 853.0h1.5v1.5h-1.5zM710.0 854.0h1.5v1.5h-1.5zM710.0 855.0h1.5v1.5h-1.5zM710.0 856.0h1.5v1.5h-1.5zM710.0 857.0h1.5v1.5h-1.5zM710.0 858.0h1.5v1.5h-1.5zM710.0 860.0h1.5v1.5h-1.5zM710.0 861.0h1.5v1.5h-1.5zM710.0 862.0h1.5v1.5h-1.5zM710.0 863.0h1.5v1.5h-1.5zM710.0 864.0h1.5v1.5h-1.5zM710.0 865.0h1.5v1.5h-1.5zM710.0 867.0h1.5v1.5h-1.5zM710.0 868.0h1.5v1.5h-1.5zM710.0 869.0h1.5v1.5h-1.5zM710.0 870.0h1.5v1.5h-1.5zM710.0 871.0h1.5v1.5h-1.5zM710.0 874.0h1.5v1.5h-1.5zM710.0 875.0h1.5v1.5h-1.5zM710.0 876.0h1.5v1.5h-1.5zM710.0 877.0h1.5v1.5h-1.5zM710.0 878.0h1.5v1.5h-1.5zM710.0 882.0h1.5v1.5h-1.5zM710.0 883.0h1.5v1.5h-1.5zM710.0 884.0h1.5v1.5h-1.5zM710.0 885.0h1.5v1.5h-1.5zM710.0 888.0h1.5v1.5h-1.5zM710.0 890.0h1.5v1.5h-1.5zM710.0 893.0h1.5v1.5h-1.5zM710.0 897.0h1.5v1.5h-1.5zM710.0 898.0h1.5v1.5h-1.5zM710.0 905.0h1.5v1.5h-1.5zM710.0 906.0h1.5v1.5h-1.5zM710.0 926.0h1.5v1.5h-1.5zM711.0 824.0h1.5v1.5h-1.5zM711.0 825.0h1.5v1.5h-1.5zM711.0 828.0h1.5v1.5h-1.5zM711.0 832.0h1.5v1.5h-1.5zM711.0 833.0h1.5v1.5h-1.5zM711.0 834.0h1.5v1.5h-1.5zM711.0 836.0h1.5v1.5h-1.5zM711.0 838.0h1.5v1.5h-1.5zM711.0 841.0h1.5v1.5h-1.5zM711.0 844.0h1.5v1.5h-1.5zM711.0 847.0h1.5v1.5h-1.5zM711.0 848.0h1.5v1.5h-1.5zM711.0 849.0h1.5v1.5h-1.5zM711.0 851.0h1.5v1.5h-1.5zM711.0 852.0h1.5v1.5h-1.5zM711.0 853.0h1.5v1.5h-1.5zM711.0 854.0h1.5v1.5h-1.5zM711.0 855.0h1.5v1.5h-1.5zM711.0 856.0h1.5v1.5h-1.5zM711.0 857.0h1.5v1.5h-1.5zM711.0 858.0h1.5v1.5h-1.5zM711.0 859.0h1.5v1.5h-1.5zM711.0 860.0h1.5v1.5h-1.5zM711.0 861.0h1.5v1.5h-1.5zM711.0 862.0h1.5v1.5h-1.5zM711.0 863.0h1.5v1.5h-1.5zM711.0 864.0h1.5v1.5h-1.5zM711.0 865.0h1.5v1.5h-1.5zM711.0 866.0h1.5v1.5h-1.5zM711.0 867.0h1.5v1.5h-1.5zM711.0 868.0h1.5v1.5h-1.5zM711.0 869.0h1.5v1.5h-1.5zM711.0 870.0h1.5v1.5h-1.5zM711.0 871.0h1.5v1.5h-1.5zM711.0 872.0h1.5v1.5h-1.5zM711.0 873.0h1.5v1.5h-1.5zM711.0 874.0h1.5v1.5h-1.5zM711.0 877.0h1.5v1.5h-1.5zM711.0 878.0h1.5v1.5h-1.5zM711.0 879.0h1.5v1.5h-1.5zM711.0 881.0h1.5v1.5h-1.5zM711.0 882.0h1.5v1.5h-1.5zM711.0 883.0h1.5v1.5h-1.5zM711.0 884.0h1.5v1.5h-1.5zM711.0 889.0h1.5v1.5h-1.5zM711.0 890.0h1.5v1.5h-1.5zM711.0 893.0h1.5v1.5h-1.5zM711.0 894.0h1.5v1.5h-1.5zM711.0 906.0h1.5v1.5h-1.5zM711.0 907.0h1.5v1.5h-1.5zM711.0 910.0h1.5v1.5h-1.5zM712.0 817.0h1.5v1.5h-1.5zM712.0 820.0h1.5v1.5h-1.5zM712.0 827.0h1.5v1.5h-1.5zM712.0 830.0h1.5v1.5h-1.5zM712.0 832.0h1.5v1.5h-1.5zM712.0 833.0h1.5v1.5h-1.5zM712.0 834.0h1.5v1.5h-1.5zM712.0 836.0h1.5v1.5h-1.5zM712.0 837.0h1.5v1.5h-1.5zM712.0 838.0h1.5v1.5h-1.5zM712.0 839.0h1.5v1.5h-1.5zM712.0 840.0h1.5v1.5h-1.5zM712.0 841.0h1.5v1.5h-1.5zM712.0 842.0h1.5v1.5h-1.5zM712.0 844.0h1.5v1.5h-1.5zM712.0 845.0h1.5v1.5h-1.5zM712.0 846.0h1.5v1.5h-1.5zM712.0 847.0h1.5v1.5h-1.5zM712.0 848.0h1.5v1.5h-1.5zM712.0 849.0h1.5v1.5h-1.5zM712.0 850.0h1.5v1.5h-1.5zM712.0 851.0h1.5v1.5h-1.5zM712.0 852.0h1.5v1.5h-1.5zM712.0 853.0h1.5v1.5h-1.5zM712.0 854.0h1.5v1.5h-1.5zM712.0 855.0h1.5v1.5h-1.5zM712.0 856.0h1.5v1.5h-1.5zM712.0 857.0h1.5v1.5h-1.5zM712.0 858.0h1.5v1.5h-1.5zM712.0 859.0h1.5v1.5h-1.5zM712.0 860.0h1.5v1.5h-1.5zM712.0 861.0h1.5v1.5h-1.5zM712.0 862.0h1.5v1.5h-1.5zM712.0 863.0h1.5v1.5h-1.5zM712.0 864.0h1.5v1.5h-1.5zM712.0 865.0h1.5v1.5h-1.5zM712.0 866.0h1.5v1.5h-1.5zM712.0 867.0h1.5v1.5h-1.5zM712.0 868.0h1.5v1.5h-1.5zM712.0 870.0h1.5v1.5h-1.5zM712.0 871.0h1.5v1.5h-1.5zM712.0 872.0h1.5v1.5h-1.5zM712.0 875.0h1.5v1.5h-1.5zM712.0 876.0h1.5v1.5h-1.5zM712.0 877.0h1.5v1.5h-1.5zM712.0 878.0h1.5v1.5h-1.5zM712.0 879.0h1.5v1.5h-1.5zM712.0 880.0h1.5v1.5h-1.5zM712.0 881.0h1.5v1.5h-1.5zM712.0 888.0h1.5v1.5h-1.5zM712.0 893.0h1.5v1.5h-1.5zM712.0 907.0h1.5v1.5h-1.5zM713.0 816.0h1.5v1.5h-1.5zM713.0 818.0h1.5v1.5h-1.5zM713.0 822.0h1.5v1.5h-1.5zM713.0 823.0h1.5v1.5h-1.5zM713.0 825.0h1.5v1.5h-1.5zM713.0 826.0h1.5v1.5h-1.5zM713.0 828.0h1.5v1.5h-1.5zM713.0 833.0h1.5v1.5h-1.5zM713.0 836.0h1.5v1.5h-1.5zM713.0 837.0h1.5v1.5h-1.5zM713.0 838.0h1.5v1.5h-1.5zM713.0 840.0h1.5v1.5h-1.5zM713.0 842.0h1.5v1.5h-1.5zM713.0 843.0h1.5v1.5h-1.5zM713.0 844.0h1.5v1.5h-1.5zM713.0 847.0h1.5v1.5h-1.5zM713.0 849.0h1.5v1.5h-1.5zM713.0 850.0h1.5v1.5h-1.5zM713.0 851.0h1.5v1.5h-1.5zM713.0 852.0h1.5v1.5h-1.5zM713.0 853.0h1.5v1.5h-1.5zM713.0 854.0h1.5v1.5h-1.5zM713.0 856.0h1.5v1.5h-1.5zM713.0 857.0h1.5v1.5h-1.5zM713.0 858.0h1.5v1.5h-1.5zM713.0 860.0h1.5v1.5h-1.5zM713.0 861.0h1.5v1.5h-1.5zM713.0 862.0h1.5v1.5h-1.5zM713.0 863.0h1.5v1.5h-1.5zM713.0 864.0h1.5v1.5h-1.5zM713.0 866.0h1.5v1.5h-1.5zM713.0 867.0h1.5v1.5h-1.5zM713.0 868.0h1.5v1.5h-1.5zM713.0 869.0h1.5v1.5h-1.5zM713.0 871.0h1.5v1.5h-1.5zM713.0 872.0h1.5v1.5h-1.5zM713.0 873.0h1.5v1.5h-1.5zM713.0 875.0h1.5v1.5h-1.5zM713.0 876.0h1.5v1.5h-1.5zM713.0 877.0h1.5v1.5h-1.5zM713.0 878.0h1.5v1.5h-1.5zM713.0 879.0h1.5v1.5h-1.5zM713.0 880.0h1.5v1.5h-1.5zM713.0 882.0h1.5v1.5h-1.5zM713.0 883.0h1.5v1.5h-1.5zM713.0 887.0h1.5v1.5h-1.5zM713.0 890.0h1.5v1.5h-1.5zM713.0 892.0h1.5v1.5h-1.5zM713.0 893.0h1.5v1.5h-1.5zM713.0 901.0h1.5v1.5h-1.5zM713.0 909.0h1.5v1.5h-1.5zM714.0 785.0h1.5v1.5h-1.5zM714.0 793.0h1.5v1.5h-1.5zM714.0 794.0h1.5v1.5h-1.5zM714.0 823.0h1.5v1.5h-1.5zM714.0 827.0h1.5v1.5h-1.5zM714.0 829.0h1.5v1.5h-1.5zM714.0 832.0h1.5v1.5h-1.5zM714.0 833.0h1.5v1.5h-1.5zM714.0 834.0h1.5v1.5h-1.5zM714.0 835.0h1.5v1.5h-1.5zM714.0 836.0h1.5v1.5h-1.5zM714.0 838.0h1.5v1.5h-1.5zM714.0 839.0h1.5v1.5h-1.5zM714.0 840.0h1.5v1.5h-1.5zM714.0 841.0h1.5v1.5h-1.5zM714.0 843.0h1.5v1.5h-1.5zM714.0 845.0h1.5v1.5h-1.5zM714.0 846.0h1.5v1.5h-1.5zM714.0 847.0h1.5v1.5h-1.5zM714.0 848.0h1.5v1.5h-1.5zM714.0 849.0h1.5v1.5h-1.5zM714.0 850.0h1.5v1.5h-1.5zM714.0 851.0h1.5v1.5h-1.5zM714.0 852.0h1.5v1.5h-1.5zM714.0 854.0h1.5v1.5h-1.5zM714.0 855.0h1.5v1.5h-1.5zM714.0 856.0h1.5v1.5h-1.5zM714.0 857.0h1.5v1.5h-1.5zM714.0 858.0h1.5v1.5h-1.5zM714.0 859.0h1.5v1.5h-1.5zM714.0 860.0h1.5v1.5h-1.5zM714.0 863.0h1.5v1.5h-1.5zM714.0 864.0h1.5v1.5h-1.5zM714.0 865.0h1.5v1.5h-1.5zM714.0 866.0h1.5v1.5h-1.5zM714.0 869.0h1.5v1.5h-1.5zM714.0 871.0h1.5v1.5h-1.5zM714.0 872.0h1.5v1.5h-1.5zM714.0 873.0h1.5v1.5h-1.5zM714.0 874.0h1.5v1.5h-1.5zM714.0 876.0h1.5v1.5h-1.5zM714.0 878.0h1.5v1.5h-1.5zM714.0 879.0h1.5v1.5h-1.5zM714.0 880.0h1.5v1.5h-1.5zM714.0 883.0h1.5v1.5h-1.5zM714.0 884.0h1.5v1.5h-1.5zM714.0 885.0h1.5v1.5h-1.5zM714.0 886.0h1.5v1.5h-1.5zM714.0 887.0h1.5v1.5h-1.5zM714.0 888.0h1.5v1.5h-1.5zM714.0 890.0h1.5v1.5h-1.5zM714.0 891.0h1.5v1.5h-1.5zM714.0 904.0h1.5v1.5h-1.5zM714.0 928.0h1.5v1.5h-1.5zM715.0 798.0h1.5v1.5h-1.5zM715.0 826.0h1.5v1.5h-1.5zM715.0 827.0h1.5v1.5h-1.5zM715.0 828.0h1.5v1.5h-1.5zM715.0 829.0h1.5v1.5h-1.5zM715.0 832.0h1.5v1.5h-1.5zM715.0 833.0h1.5v1.5h-1.5zM715.0 834.0h1.5v1.5h-1.5zM715.0 835.0h1.5v1.5h-1.5zM715.0 838.0h1.5v1.5h-1.5zM715.0 839.0h1.5v1.5h-1.5zM715.0 840.0h1.5v1.5h-1.5zM715.0 841.0h1.5v1.5h-1.5zM715.0 843.0h1.5v1.5h-1.5zM715.0 845.0h1.5v1.5h-1.5zM715.0 847.0h1.5v1.5h-1.5zM715.0 848.0h1.5v1.5h-1.5zM715.0 849.0h1.5v1.5h-1.5zM715.0 851.0h1.5v1.5h-1.5zM715.0 852.0h1.5v1.5h-1.5zM715.0 853.0h1.5v1.5h-1.5zM715.0 854.0h1.5v1.5h-1.5zM715.0 856.0h1.5v1.5h-1.5zM715.0 857.0h1.5v1.5h-1.5zM715.0 858.0h1.5v1.5h-1.5zM715.0 859.0h1.5v1.5h-1.5zM715.0 860.0h1.5v1.5h-1.5zM715.0 861.0h1.5v1.5h-1.5zM715.0 863.0h1.5v1.5h-1.5zM715.0 864.0h1.5v1.5h-1.5zM715.0 865.0h1.5v1.5h-1.5zM715.0 866.0h1.5v1.5h-1.5zM715.0 867.0h1.5v1.5h-1.5zM715.0 868.0h1.5v1.5h-1.5zM715.0 870.0h1.5v1.5h-1.5zM715.0 872.0h1.5v1.5h-1.5zM715.0 873.0h1.5v1.5h-1.5zM715.0 875.0h1.5v1.5h-1.5zM715.0 876.0h1.5v1.5h-1.5zM715.0 877.0h1.5v1.5h-1.5zM715.0 878.0h1.5v1.5h-1.5zM715.0 879.0h1.5v1.5h-1.5zM715.0 880.0h1.5v1.5h-1.5zM715.0 881.0h1.5v1.5h-1.5zM715.0 882.0h1.5v1.5h-1.5zM715.0 884.0h1.5v1.5h-1.5zM715.0 885.0h1.5v1.5h-1.5zM715.0 886.0h1.5v1.5h-1.5zM715.0 888.0h1.5v1.5h-1.5zM715.0 891.0h1.5v1.5h-1.5zM715.0 900.0h1.5v1.5h-1.5zM715.0 906.0h1.5v1.5h-1.5zM716.0 823.0h1.5v1.5h-1.5zM716.0 824.0h1.5v1.5h-1.5zM716.0 825.0h1.5v1.5h-1.5zM716.0 830.0h1.5v1.5h-1.5zM716.0 831.0h1.5v1.5h-1.5zM716.0 832.0h1.5v1.5h-1.5zM716.0 835.0h1.5v1.5h-1.5zM716.0 837.0h1.5v1.5h-1.5zM716.0 838.0h1.5v1.5h-1.5zM716.0 839.0h1.5v1.5h-1.5zM716.0 842.0h1.5v1.5h-1.5zM716.0 843.0h1.5v1.5h-1.5zM716.0 848.0h1.5v1.5h-1.5zM716.0 849.0h1.5v1.5h-1.5zM716.0 850.0h1.5v1.5h-1.5zM716.0 851.0h1.5v1.5h-1.5zM716.0 852.0h1.5v1.5h-1.5zM716.0 854.0h1.5v1.5h-1.5zM716.0 855.0h1.5v1.5h-1.5zM716.0 857.0h1.5v1.5h-1.5zM716.0 858.0h1.5v1.5h-1.5zM716.0 859.0h1.5v1.5h-1.5zM716.0 861.0h1.5v1.5h-1.5zM716.0 862.0h1.5v1.5h-1.5zM716.0 863.0h1.5v1.5h-1.5zM716.0 864.0h1.5v1.5h-1.5zM716.0 866.0h1.5v1.5h-1.5zM716.0 867.0h1.5v1.5h-1.5zM716.0 868.0h1.5v1.5h-1.5zM716.0 869.0h1.5v1.5h-1.5zM716.0 870.0h1.5v1.5h-1.5zM716.0 873.0h1.5v1.5h-1.5zM716.0 875.0h1.5v1.5h-1.5zM716.0 876.0h1.5v1.5h-1.5zM716.0 877.0h1.5v1.5h-1.5zM716.0 878.0h1.5v1.5h-1.5zM716.0 881.0h1.5v1.5h-1.5zM716.0 884.0h1.5v1.5h-1.5zM716.0 885.0h1.5v1.5h-1.5zM716.0 888.0h1.5v1.5h-1.5zM716.0 890.0h1.5v1.5h-1.5zM716.0 898.0h1.5v1.5h-1.5zM716.0 908.0h1.5v1.5h-1.5zM716.0 909.0h1.5v1.5h-1.5zM717.0 805.0h1.5v1.5h-1.5zM717.0 810.0h1.5v1.5h-1.5zM717.0 822.0h1.5v1.5h-1.5zM717.0 824.0h1.5v1.5h-1.5zM717.0 825.0h1.5v1.5h-1.5zM717.0 832.0h1.5v1.5h-1.5zM717.0 833.0h1.5v1.5h-1.5zM717.0 835.0h1.5v1.5h-1.5zM717.0 838.0h1.5v1.5h-1.5zM717.0 840.0h1.5v1.5h-1.5zM717.0 841.0h1.5v1.5h-1.5zM717.0 842.0h1.5v1.5h-1.5zM717.0 843.0h1.5v1.5h-1.5zM717.0 844.0h1.5v1.5h-1.5zM717.0 845.0h1.5v1.5h-1.5zM717.0 846.0h1.5v1.5h-1.5zM717.0 847.0h1.5v1.5h-1.5zM717.0 849.0h1.5v1.5h-1.5zM717.0 850.0h1.5v1.5h-1.5zM717.0 851.0h1.5v1.5h-1.5zM717.0 853.0h1.5v1.5h-1.5zM717.0 854.0h1.5v1.5h-1.5zM717.0 855.0h1.5v1.5h-1.5zM717.0 856.0h1.5v1.5h-1.5zM717.0 858.0h1.5v1.5h-1.5zM717.0 859.0h1.5v1.5h-1.5zM717.0 860.0h1.5v1.5h-1.5zM717.0 861.0h1.5v1.5h-1.5zM717.0 862.0h1.5v1.5h-1.5zM717.0 863.0h1.5v1.5h-1.5zM717.0 864.0h1.5v1.5h-1.5zM717.0 865.0h1.5v1.5h-1.5zM717.0 866.0h1.5v1.5h-1.5zM717.0 867.0h1.5v1.5h-1.5zM717.0 869.0h1.5v1.5h-1.5zM717.0 870.0h1.5v1.5h-1.5zM717.0 871.0h1.5v1.5h-1.5zM717.0 872.0h1.5v1.5h-1.5zM717.0 873.0h1.5v1.5h-1.5zM717.0 875.0h1.5v1.5h-1.5zM717.0 876.0h1.5v1.5h-1.5zM717.0 877.0h1.5v1.5h-1.5zM717.0 878.0h1.5v1.5h-1.5zM717.0 879.0h1.5v1.5h-1.5zM717.0 880.0h1.5v1.5h-1.5zM717.0 882.0h1.5v1.5h-1.5zM717.0 884.0h1.5v1.5h-1.5zM717.0 888.0h1.5v1.5h-1.5zM717.0 889.0h1.5v1.5h-1.5zM717.0 895.0h1.5v1.5h-1.5zM717.0 896.0h1.5v1.5h-1.5zM717.0 898.0h1.5v1.5h-1.5zM717.0 909.0h1.5v1.5h-1.5zM717.0 911.0h1.5v1.5h-1.5zM717.0 930.0h1.5v1.5h-1.5zM718.0 793.0h1.5v1.5h-1.5zM718.0 803.0h1.5v1.5h-1.5zM718.0 810.0h1.5v1.5h-1.5zM718.0 818.0h1.5v1.5h-1.5zM718.0 824.0h1.5v1.5h-1.5zM718.0 825.0h1.5v1.5h-1.5zM718.0 831.0h1.5v1.5h-1.5zM718.0 832.0h1.5v1.5h-1.5zM718.0 835.0h1.5v1.5h-1.5zM718.0 836.0h1.5v1.5h-1.5zM718.0 837.0h1.5v1.5h-1.5zM718.0 839.0h1.5v1.5h-1.5zM718.0 840.0h1.5v1.5h-1.5zM718.0 841.0h1.5v1.5h-1.5zM718.0 842.0h1.5v1.5h-1.5zM718.0 843.0h1.5v1.5h-1.5zM718.0 844.0h1.5v1.5h-1.5zM718.0 845.0h1.5v1.5h-1.5zM718.0 846.0h1.5v1.5h-1.5zM718.0 847.0h1.5v1.5h-1.5zM718.0 848.0h1.5v1.5h-1.5zM718.0 852.0h1.5v1.5h-1.5zM718.0 854.0h1.5v1.5h-1.5zM718.0 855.0h1.5v1.5h-1.5zM718.0 856.0h1.5v1.5h-1.5zM718.0 857.0h1.5v1.5h-1.5zM718.0 858.0h1.5v1.5h-1.5zM718.0 859.0h1.5v1.5h-1.5zM718.0 861.0h1.5v1.5h-1.5zM718.0 862.0h1.5v1.5h-1.5zM718.0 863.0h1.5v1.5h-1.5zM718.0 864.0h1.5v1.5h-1.5zM718.0 867.0h1.5v1.5h-1.5zM718.0 869.0h1.5v1.5h-1.5zM718.0 870.0h1.5v1.5h-1.5zM718.0 871.0h1.5v1.5h-1.5zM718.0 873.0h1.5v1.5h-1.5zM718.0 874.0h1.5v1.5h-1.5zM718.0 877.0h1.5v1.5h-1.5zM718.0 879.0h1.5v1.5h-1.5zM718.0 880.0h1.5v1.5h-1.5zM718.0 885.0h1.5v1.5h-1.5zM718.0 889.0h1.5v1.5h-1.5zM718.0 893.0h1.5v1.5h-1.5zM718.0 894.0h1.5v1.5h-1.5zM718.0 896.0h1.5v1.5h-1.5zM718.0 899.0h1.5v1.5h-1.5zM719.0 821.0h1.5v1.5h-1.5zM719.0 823.0h1.5v1.5h-1.5zM719.0 825.0h1.5v1.5h-1.5zM719.0 828.0h1.5v1.5h-1.5zM719.0 832.0h1.5v1.5h-1.5zM719.0 833.0h1.5v1.5h-1.5zM719.0 837.0h1.5v1.5h-1.5zM719.0 838.0h1.5v1.5h-1.5zM719.0 840.0h1.5v1.5h-1.5zM719.0 843.0h1.5v1.5h-1.5zM719.0 845.0h1.5v1.5h-1.5zM719.0 847.0h1.5v1.5h-1.5zM719.0 850.0h1.5v1.5h-1.5zM719.0 851.0h1.5v1.5h-1.5zM719.0 852.0h1.5v1.5h-1.5zM719.0 853.0h1.5v1.5h-1.5zM719.0 854.0h1.5v1.5h-1.5zM719.0 856.0h1.5v1.5h-1.5zM719.0 857.0h1.5v1.5h-1.5zM719.0 858.0h1.5v1.5h-1.5zM719.0 859.0h1.5v1.5h-1.5zM719.0 860.0h1.5v1.5h-1.5zM719.0 863.0h1.5v1.5h-1.5zM719.0 864.0h1.5v1.5h-1.5zM719.0 865.0h1.5v1.5h-1.5zM719.0 866.0h1.5v1.5h-1.5zM719.0 867.0h1.5v1.5h-1.5zM719.0 869.0h1.5v1.5h-1.5zM719.0 870.0h1.5v1.5h-1.5zM719.0 871.0h1.5v1.5h-1.5zM719.0 872.0h1.5v1.5h-1.5zM719.0 874.0h1.5v1.5h-1.5zM719.0 875.0h1.5v1.5h-1.5zM719.0 877.0h1.5v1.5h-1.5zM719.0 878.0h1.5v1.5h-1.5zM719.0 879.0h1.5v1.5h-1.5zM719.0 884.0h1.5v1.5h-1.5zM719.0 886.0h1.5v1.5h-1.5zM719.0 888.0h1.5v1.5h-1.5zM719.0 893.0h1.5v1.5h-1.5zM719.0 896.0h1.5v1.5h-1.5zM720.0 786.0h1.5v1.5h-1.5zM720.0 798.0h1.5v1.5h-1.5zM720.0 802.0h1.5v1.5h-1.5zM720.0 810.0h1.5v1.5h-1.5zM720.0 812.0h1.5v1.5h-1.5zM720.0 815.0h1.5v1.5h-1.5zM720.0 824.0h1.5v1.5h-1.5zM720.0 837.0h1.5v1.5h-1.5zM720.0 838.0h1.5v1.5h-1.5zM720.0 841.0h1.5v1.5h-1.5zM720.0 842.0h1.5v1.5h-1.5zM720.0 844.0h1.5v1.5h-1.5zM720.0 845.0h1.5v1.5h-1.5zM720.0 846.0h1.5v1.5h-1.5zM720.0 847.0h1.5v1.5h-1.5zM720.0 849.0h1.5v1.5h-1.5zM720.0 850.0h1.5v1.5h-1.5zM720.0 851.0h1.5v1.5h-1.5zM720.0 853.0h1.5v1.5h-1.5zM720.0 854.0h1.5v1.5h-1.5zM720.0 855.0h1.5v1.5h-1.5zM720.0 856.0h1.5v1.5h-1.5zM720.0 857.0h1.5v1.5h-1.5zM720.0 858.0h1.5v1.5h-1.5zM720.0 859.0h1.5v1.5h-1.5zM720.0 860.0h1.5v1.5h-1.5zM720.0 861.0h1.5v1.5h-1.5zM720.0 862.0h1.5v1.5h-1.5zM720.0 863.0h1.5v1.5h-1.5zM720.0 864.0h1.5v1.5h-1.5zM720.0 865.0h1.5v1.5h-1.5zM720.0 866.0h1.5v1.5h-1.5zM720.0 867.0h1.5v1.5h-1.5zM720.0 868.0h1.5v1.5h-1.5zM720.0 869.0h1.5v1.5h-1.5zM720.0 870.0h1.5v1.5h-1.5zM720.0 872.0h1.5v1.5h-1.5zM720.0 874.0h1.5v1.5h-1.5zM720.0 875.0h1.5v1.5h-1.5zM720.0 878.0h1.5v1.5h-1.5zM720.0 880.0h1.5v1.5h-1.5zM720.0 881.0h1.5v1.5h-1.5zM720.0 883.0h1.5v1.5h-1.5zM720.0 884.0h1.5v1.5h-1.5zM720.0 890.0h1.5v1.5h-1.5zM720.0 901.0h1.5v1.5h-1.5zM720.0 924.0h1.5v1.5h-1.5zM721.0 798.0h1.5v1.5h-1.5zM721.0 804.0h1.5v1.5h-1.5zM721.0 805.0h1.5v1.5h-1.5zM721.0 818.0h1.5v1.5h-1.5zM721.0 819.0h1.5v1.5h-1.5zM721.0 821.0h1.5v1.5h-1.5zM721.0 826.0h1.5v1.5h-1.5zM721.0 831.0h1.5v1.5h-1.5zM721.0 833.0h1.5v1.5h-1.5zM721.0 834.0h1.5v1.5h-1.5zM721.0 835.0h1.5v1.5h-1.5zM721.0 836.0h1.5v1.5h-1.5zM721.0 837.0h1.5v1.5h-1.5zM721.0 838.0h1.5v1.5h-1.5zM721.0 839.0h1.5v1.5h-1.5zM721.0 840.0h1.5v1.5h-1.5zM721.0 842.0h1.5v1.5h-1.5zM721.0 843.0h1.5v1.5h-1.5zM721.0 844.0h1.5v1.5h-1.5zM721.0 846.0h1.5v1.5h-1.5zM721.0 847.0h1.5v1.5h-1.5zM721.0 848.0h1.5v1.5h-1.5zM721.0 849.0h1.5v1.5h-1.5zM721.0 850.0h1.5v1.5h-1.5zM721.0 852.0h1.5v1.5h-1.5zM721.0 853.0h1.5v1.5h-1.5zM721.0 855.0h1.5v1.5h-1.5zM721.0 857.0h1.5v1.5h-1.5zM721.0 858.0h1.5v1.5h-1.5zM721.0 860.0h1.5v1.5h-1.5zM721.0 862.0h1.5v1.5h-1.5zM721.0 863.0h1.5v1.5h-1.5zM721.0 864.0h1.5v1.5h-1.5zM721.0 865.0h1.5v1.5h-1.5zM721.0 866.0h1.5v1.5h-1.5zM721.0 868.0h1.5v1.5h-1.5zM721.0 869.0h1.5v1.5h-1.5zM721.0 870.0h1.5v1.5h-1.5zM721.0 871.0h1.5v1.5h-1.5zM721.0 872.0h1.5v1.5h-1.5zM721.0 873.0h1.5v1.5h-1.5zM721.0 874.0h1.5v1.5h-1.5zM721.0 876.0h1.5v1.5h-1.5zM721.0 877.0h1.5v1.5h-1.5zM721.0 878.0h1.5v1.5h-1.5zM721.0 879.0h1.5v1.5h-1.5zM721.0 880.0h1.5v1.5h-1.5zM721.0 882.0h1.5v1.5h-1.5zM721.0 889.0h1.5v1.5h-1.5zM721.0 892.0h1.5v1.5h-1.5zM721.0 893.0h1.5v1.5h-1.5zM721.0 896.0h1.5v1.5h-1.5zM721.0 904.0h1.5v1.5h-1.5zM722.0 796.0h1.5v1.5h-1.5zM722.0 821.0h1.5v1.5h-1.5zM722.0 825.0h1.5v1.5h-1.5zM722.0 827.0h1.5v1.5h-1.5zM722.0 828.0h1.5v1.5h-1.5zM722.0 829.0h1.5v1.5h-1.5zM722.0 834.0h1.5v1.5h-1.5zM722.0 835.0h1.5v1.5h-1.5zM722.0 838.0h1.5v1.5h-1.5zM722.0 839.0h1.5v1.5h-1.5zM722.0 841.0h1.5v1.5h-1.5zM722.0 845.0h1.5v1.5h-1.5zM722.0 848.0h1.5v1.5h-1.5zM722.0 849.0h1.5v1.5h-1.5zM722.0 850.0h1.5v1.5h-1.5zM722.0 852.0h1.5v1.5h-1.5zM722.0 854.0h1.5v1.5h-1.5zM722.0 857.0h1.5v1.5h-1.5zM722.0 858.0h1.5v1.5h-1.5zM722.0 861.0h1.5v1.5h-1.5zM722.0 862.0h1.5v1.5h-1.5zM722.0 863.0h1.5v1.5h-1.5zM722.0 864.0h1.5v1.5h-1.5zM722.0 865.0h1.5v1.5h-1.5zM722.0 867.0h1.5v1.5h-1.5zM722.0 868.0h1.5v1.5h-1.5zM722.0 869.0h1.5v1.5h-1.5zM722.0 870.0h1.5v1.5h-1.5zM722.0 871.0h1.5v1.5h-1.5zM722.0 872.0h1.5v1.5h-1.5zM722.0 873.0h1.5v1.5h-1.5zM722.0 874.0h1.5v1.5h-1.5zM722.0 876.0h1.5v1.5h-1.5zM722.0 877.0h1.5v1.5h-1.5zM722.0 878.0h1.5v1.5h-1.5zM722.0 885.0h1.5v1.5h-1.5zM722.0 886.0h1.5v1.5h-1.5zM722.0 887.0h1.5v1.5h-1.5zM722.0 888.0h1.5v1.5h-1.5zM722.0 892.0h1.5v1.5h-1.5zM722.0 894.0h1.5v1.5h-1.5zM722.0 897.0h1.5v1.5h-1.5zM722.0 899.0h1.5v1.5h-1.5zM723.0 817.0h1.5v1.5h-1.5zM723.0 823.0h1.5v1.5h-1.5zM723.0 824.0h1.5v1.5h-1.5zM723.0 825.0h1.5v1.5h-1.5zM723.0 826.0h1.5v1.5h-1.5zM723.0 827.0h1.5v1.5h-1.5zM723.0 830.0h1.5v1.5h-1.5zM723.0 831.0h1.5v1.5h-1.5zM723.0 834.0h1.5v1.5h-1.5zM723.0 835.0h1.5v1.5h-1.5zM723.0 837.0h1.5v1.5h-1.5zM723.0 838.0h1.5v1.5h-1.5zM723.0 839.0h1.5v1.5h-1.5zM723.0 841.0h1.5v1.5h-1.5zM723.0 843.0h1.5v1.5h-1.5zM723.0 845.0h1.5v1.5h-1.5zM723.0 848.0h1.5v1.5h-1.5zM723.0 849.0h1.5v1.5h-1.5zM723.0 850.0h1.5v1.5h-1.5zM723.0 852.0h1.5v1.5h-1.5zM723.0 853.0h1.5v1.5h-1.5zM723.0 854.0h1.5v1.5h-1.5zM723.0 855.0h1.5v1.5h-1.5zM723.0 856.0h1.5v1.5h-1.5zM723.0 858.0h1.5v1.5h-1.5zM723.0 859.0h1.5v1.5h-1.5zM723.0 860.0h1.5v1.5h-1.5zM723.0 861.0h1.5v1.5h-1.5zM723.0 863.0h1.5v1.5h-1.5zM723.0 864.0h1.5v1.5h-1.5zM723.0 865.0h1.5v1.5h-1.5zM723.0 866.0h1.5v1.5h-1.5zM723.0 867.0h1.5v1.5h-1.5zM723.0 868.0h1.5v1.5h-1.5zM723.0 870.0h1.5v1.5h-1.5zM723.0 871.0h1.5v1.5h-1.5zM723.0 872.0h1.5v1.5h-1.5zM723.0 874.0h1.5v1.5h-1.5zM723.0 878.0h1.5v1.5h-1.5zM723.0 882.0h1.5v1.5h-1.5zM723.0 886.0h1.5v1.5h-1.5zM723.0 887.0h1.5v1.5h-1.5zM723.0 894.0h1.5v1.5h-1.5zM723.0 902.0h1.5v1.5h-1.5zM724.0 798.0h1.5v1.5h-1.5zM724.0 799.0h1.5v1.5h-1.5zM724.0 819.0h1.5v1.5h-1.5zM724.0 823.0h1.5v1.5h-1.5zM724.0 827.0h1.5v1.5h-1.5zM724.0 828.0h1.5v1.5h-1.5zM724.0 831.0h1.5v1.5h-1.5zM724.0 834.0h1.5v1.5h-1.5zM724.0 835.0h1.5v1.5h-1.5zM724.0 836.0h1.5v1.5h-1.5zM724.0 838.0h1.5v1.5h-1.5zM724.0 839.0h1.5v1.5h-1.5zM724.0 840.0h1.5v1.5h-1.5zM724.0 841.0h1.5v1.5h-1.5zM724.0 842.0h1.5v1.5h-1.5zM724.0 843.0h1.5v1.5h-1.5zM724.0 844.0h1.5v1.5h-1.5zM724.0 846.0h1.5v1.5h-1.5zM724.0 847.0h1.5v1.5h-1.5zM724.0 848.0h1.5v1.5h-1.5zM724.0 849.0h1.5v1.5h-1.5zM724.0 850.0h1.5v1.5h-1.5zM724.0 851.0h1.5v1.5h-1.5zM724.0 852.0h1.5v1.5h-1.5zM724.0 853.0h1.5v1.5h-1.5zM724.0 855.0h1.5v1.5h-1.5zM724.0 860.0h1.5v1.5h-1.5zM724.0 861.0h1.5v1.5h-1.5zM724.0 863.0h1.5v1.5h-1.5zM724.0 864.0h1.5v1.5h-1.5zM724.0 867.0h1.5v1.5h-1.5zM724.0 868.0h1.5v1.5h-1.5zM724.0 870.0h1.5v1.5h-1.5zM724.0 871.0h1.5v1.5h-1.5zM724.0 872.0h1.5v1.5h-1.5zM724.0 873.0h1.5v1.5h-1.5zM724.0 874.0h1.5v1.5h-1.5zM724.0 875.0h1.5v1.5h-1.5zM724.0 876.0h1.5v1.5h-1.5zM724.0 879.0h1.5v1.5h-1.5zM724.0 881.0h1.5v1.5h-1.5zM724.0 885.0h1.5v1.5h-1.5zM724.0 886.0h1.5v1.5h-1.5zM724.0 895.0h1.5v1.5h-1.5zM725.0 792.0h1.5v1.5h-1.5zM725.0 802.0h1.5v1.5h-1.5zM725.0 804.0h1.5v1.5h-1.5zM725.0 816.0h1.5v1.5h-1.5zM725.0 821.0h1.5v1.5h-1.5zM725.0 822.0h1.5v1.5h-1.5zM725.0 823.0h1.5v1.5h-1.5zM725.0 824.0h1.5v1.5h-1.5zM725.0 826.0h1.5v1.5h-1.5zM725.0 828.0h1.5v1.5h-1.5zM725.0 832.0h1.5v1.5h-1.5zM725.0 834.0h1.5v1.5h-1.5zM725.0 835.0h1.5v1.5h-1.5zM725.0 837.0h1.5v1.5h-1.5zM725.0 839.0h1.5v1.5h-1.5zM725.0 841.0h1.5v1.5h-1.5zM725.0 842.0h1.5v1.5h-1.5zM725.0 843.0h1.5v1.5h-1.5zM725.0 844.0h1.5v1.5h-1.5zM725.0 845.0h1.5v1.5h-1.5zM725.0 848.0h1.5v1.5h-1.5zM725.0 850.0h1.5v1.5h-1.5zM725.0 851.0h1.5v1.5h-1.5zM725.0 852.0h1.5v1.5h-1.5zM725.0 853.0h1.5v1.5h-1.5zM725.0 855.0h1.5v1.5h-1.5zM725.0 856.0h1.5v1.5h-1.5zM725.0 857.0h1.5v1.5h-1.5zM725.0 858.0h1.5v1.5h-1.5zM725.0 860.0h1.5v1.5h-1.5zM725.0 861.0h1.5v1.5h-1.5zM725.0 862.0h1.5v1.5h-1.5zM725.0 863.0h1.5v1.5h-1.5zM725.0 864.0h1.5v1.5h-1.5zM725.0 865.0h1.5v1.5h-1.5zM725.0 866.0h1.5v1.5h-1.5zM725.0 867.0h1.5v1.5h-1.5zM725.0 868.0h1.5v1.5h-1.5zM725.0 869.0h1.5v1.5h-1.5zM725.0 870.0h1.5v1.5h-1.5zM725.0 872.0h1.5v1.5h-1.5zM725.0 876.0h1.5v1.5h-1.5zM725.0 877.0h1.5v1.5h-1.5zM725.0 884.0h1.5v1.5h-1.5zM725.0 892.0h1.5v1.5h-1.5zM725.0 899.0h1.5v1.5h-1.5zM726.0 792.0h1.5v1.5h-1.5zM726.0 797.0h1.5v1.5h-1.5zM726.0 813.0h1.5v1.5h-1.5zM726.0 819.0h1.5v1.5h-1.5zM726.0 820.0h1.5v1.5h-1.5zM726.0 822.0h1.5v1.5h-1.5zM726.0 824.0h1.5v1.5h-1.5zM726.0 825.0h1.5v1.5h-1.5zM726.0 830.0h1.5v1.5h-1.5zM726.0 831.0h1.5v1.5h-1.5zM726.0 832.0h1.5v1.5h-1.5zM726.0 835.0h1.5v1.5h-1.5zM726.0 836.0h1.5v1.5h-1.5zM726.0 837.0h1.5v1.5h-1.5zM726.0 838.0h1.5v1.5h-1.5zM726.0 840.0h1.5v1.5h-1.5zM726.0 841.0h1.5v1.5h-1.5zM726.0 842.0h1.5v1.5h-1.5zM726.0 843.0h1.5v1.5h-1.5zM726.0 846.0h1.5v1.5h-1.5zM726.0 847.0h1.5v1.5h-1.5zM726.0 848.0h1.5v1.5h-1.5zM726.0 849.0h1.5v1.5h-1.5zM726.0 851.0h1.5v1.5h-1.5zM726.0 852.0h1.5v1.5h-1.5zM726.0 853.0h1.5v1.5h-1.5zM726.0 854.0h1.5v1.5h-1.5zM726.0 855.0h1.5v1.5h-1.5zM726.0 856.0h1.5v1.5h-1.5zM726.0 857.0h1.5v1.5h-1.5zM726.0 858.0h1.5v1.5h-1.5zM726.0 859.0h1.5v1.5h-1.5zM726.0 860.0h1.5v1.5h-1.5zM726.0 861.0h1.5v1.5h-1.5zM726.0 863.0h1.5v1.5h-1.5zM726.0 864.0h1.5v1.5h-1.5zM726.0 865.0h1.5v1.5h-1.5zM726.0 868.0h1.5v1.5h-1.5zM726.0 870.0h1.5v1.5h-1.5zM726.0 872.0h1.5v1.5h-1.5zM726.0 875.0h1.5v1.5h-1.5zM726.0 877.0h1.5v1.5h-1.5zM726.0 880.0h1.5v1.5h-1.5zM726.0 882.0h1.5v1.5h-1.5zM726.0 885.0h1.5v1.5h-1.5zM726.0 890.0h1.5v1.5h-1.5zM726.0 892.0h1.5v1.5h-1.5zM726.0 894.0h1.5v1.5h-1.5zM727.0 818.0h1.5v1.5h-1.5zM727.0 821.0h1.5v1.5h-1.5zM727.0 822.0h1.5v1.5h-1.5zM727.0 824.0h1.5v1.5h-1.5zM727.0 828.0h1.5v1.5h-1.5zM727.0 830.0h1.5v1.5h-1.5zM727.0 831.0h1.5v1.5h-1.5zM727.0 832.0h1.5v1.5h-1.5zM727.0 833.0h1.5v1.5h-1.5zM727.0 834.0h1.5v1.5h-1.5zM727.0 836.0h1.5v1.5h-1.5zM727.0 837.0h1.5v1.5h-1.5zM727.0 838.0h1.5v1.5h-1.5zM727.0 839.0h1.5v1.5h-1.5zM727.0 840.0h1.5v1.5h-1.5zM727.0 841.0h1.5v1.5h-1.5zM727.0 842.0h1.5v1.5h-1.5zM727.0 843.0h1.5v1.5h-1.5zM727.0 845.0h1.5v1.5h-1.5zM727.0 846.0h1.5v1.5h-1.5zM727.0 847.0h1.5v1.5h-1.5zM727.0 848.0h1.5v1.5h-1.5zM727.0 849.0h1.5v1.5h-1.5zM727.0 851.0h1.5v1.5h-1.5zM727.0 853.0h1.5v1.5h-1.5zM727.0 854.0h1.5v1.5h-1.5zM727.0 855.0h1.5v1.5h-1.5zM727.0 857.0h1.5v1.5h-1.5zM727.0 858.0h1.5v1.5h-1.5zM727.0 859.0h1.5v1.5h-1.5zM727.0 860.0h1.5v1.5h-1.5zM727.0 862.0h1.5v1.5h-1.5zM727.0 864.0h1.5v1.5h-1.5zM727.0 865.0h1.5v1.5h-1.5zM727.0 866.0h1.5v1.5h-1.5zM727.0 867.0h1.5v1.5h-1.5zM727.0 868.0h1.5v1.5h-1.5zM727.0 872.0h1.5v1.5h-1.5zM727.0 874.0h1.5v1.5h-1.5zM727.0 875.0h1.5v1.5h-1.5zM727.0 876.0h1.5v1.5h-1.5zM727.0 878.0h1.5v1.5h-1.5zM727.0 885.0h1.5v1.5h-1.5zM727.0 891.0h1.5v1.5h-1.5zM728.0 808.0h1.5v1.5h-1.5zM728.0 812.0h1.5v1.5h-1.5zM728.0 821.0h1.5v1.5h-1.5zM728.0 822.0h1.5v1.5h-1.5zM728.0 826.0h1.5v1.5h-1.5zM728.0 830.0h1.5v1.5h-1.5zM728.0 831.0h1.5v1.5h-1.5zM728.0 836.0h1.5v1.5h-1.5zM728.0 838.0h1.5v1.5h-1.5zM728.0 839.0h1.5v1.5h-1.5zM728.0 841.0h1.5v1.5h-1.5zM728.0 842.0h1.5v1.5h-1.5zM728.0 844.0h1.5v1.5h-1.5zM728.0 846.0h1.5v1.5h-1.5zM728.0 847.0h1.5v1.5h-1.5zM728.0 848.0h1.5v1.5h-1.5zM728.0 853.0h1.5v1.5h-1.5zM728.0 854.0h1.5v1.5h-1.5zM728.0 856.0h1.5v1.5h-1.5zM728.0 858.0h1.5v1.5h-1.5zM728.0 859.0h1.5v1.5h-1.5zM728.0 861.0h1.5v1.5h-1.5zM728.0 862.0h1.5v1.5h-1.5zM728.0 863.0h1.5v1.5h-1.5zM728.0 864.0h1.5v1.5h-1.5zM728.0 866.0h1.5v1.5h-1.5zM728.0 868.0h1.5v1.5h-1.5zM728.0 874.0h1.5v1.5h-1.5zM728.0 875.0h1.5v1.5h-1.5zM728.0 879.0h1.5v1.5h-1.5zM728.0 880.0h1.5v1.5h-1.5zM728.0 882.0h1.5v1.5h-1.5zM728.0 884.0h1.5v1.5h-1.5zM728.0 887.0h1.5v1.5h-1.5zM728.0 891.0h1.5v1.5h-1.5zM728.0 900.0h1.5v1.5h-1.5zM729.0 796.0h1.5v1.5h-1.5zM729.0 807.0h1.5v1.5h-1.5zM729.0 808.0h1.5v1.5h-1.5zM729.0 813.0h1.5v1.5h-1.5zM729.0 820.0h1.5v1.5h-1.5zM729.0 821.0h1.5v1.5h-1.5zM729.0 823.0h1.5v1.5h-1.5zM729.0 825.0h1.5v1.5h-1.5zM729.0 826.0h1.5v1.5h-1.5zM729.0 830.0h1.5v1.5h-1.5zM729.0 831.0h1.5v1.5h-1.5zM729.0 832.0h1.5v1.5h-1.5zM729.0 835.0h1.5v1.5h-1.5zM729.0 836.0h1.5v1.5h-1.5zM729.0 838.0h1.5v1.5h-1.5zM729.0 842.0h1.5v1.5h-1.5zM729.0 845.0h1.5v1.5h-1.5zM729.0 846.0h1.5v1.5h-1.5zM729.0 848.0h1.5v1.5h-1.5zM729.0 849.0h1.5v1.5h-1.5zM729.0 850.0h1.5v1.5h-1.5zM729.0 852.0h1.5v1.5h-1.5zM729.0 853.0h1.5v1.5h-1.5zM729.0 854.0h1.5v1.5h-1.5zM729.0 856.0h1.5v1.5h-1.5zM729.0 857.0h1.5v1.5h-1.5zM729.0 858.0h1.5v1.5h-1.5zM729.0 860.0h1.5v1.5h-1.5zM729.0 861.0h1.5v1.5h-1.5zM729.0 865.0h1.5v1.5h-1.5zM729.0 867.0h1.5v1.5h-1.5zM729.0 870.0h1.5v1.5h-1.5zM729.0 872.0h1.5v1.5h-1.5zM729.0 873.0h1.5v1.5h-1.5zM729.0 875.0h1.5v1.5h-1.5zM729.0 877.0h1.5v1.5h-1.5zM729.0 880.0h1.5v1.5h-1.5zM729.0 883.0h1.5v1.5h-1.5zM729.0 885.0h1.5v1.5h-1.5zM729.0 890.0h1.5v1.5h-1.5zM729.0 894.0h1.5v1.5h-1.5zM730.0 788.0h1.5v1.5h-1.5zM730.0 806.0h1.5v1.5h-1.5zM730.0 807.0h1.5v1.5h-1.5zM730.0 809.0h1.5v1.5h-1.5zM730.0 814.0h1.5v1.5h-1.5zM730.0 823.0h1.5v1.5h-1.5zM730.0 824.0h1.5v1.5h-1.5zM730.0 831.0h1.5v1.5h-1.5zM730.0 832.0h1.5v1.5h-1.5zM730.0 835.0h1.5v1.5h-1.5zM730.0 837.0h1.5v1.5h-1.5zM730.0 838.0h1.5v1.5h-1.5zM730.0 839.0h1.5v1.5h-1.5zM730.0 840.0h1.5v1.5h-1.5zM730.0 841.0h1.5v1.5h-1.5zM730.0 842.0h1.5v1.5h-1.5zM730.0 843.0h1.5v1.5h-1.5zM730.0 845.0h1.5v1.5h-1.5zM730.0 846.0h1.5v1.5h-1.5zM730.0 848.0h1.5v1.5h-1.5zM730.0 850.0h1.5v1.5h-1.5zM730.0 852.0h1.5v1.5h-1.5zM730.0 853.0h1.5v1.5h-1.5zM730.0 854.0h1.5v1.5h-1.5zM730.0 855.0h1.5v1.5h-1.5zM730.0 856.0h1.5v1.5h-1.5zM730.0 857.0h1.5v1.5h-1.5zM730.0 859.0h1.5v1.5h-1.5zM730.0 861.0h1.5v1.5h-1.5zM730.0 863.0h1.5v1.5h-1.5zM730.0 866.0h1.5v1.5h-1.5zM730.0 867.0h1.5v1.5h-1.5zM730.0 868.0h1.5v1.5h-1.5zM730.0 869.0h1.5v1.5h-1.5zM730.0 870.0h1.5v1.5h-1.5zM730.0 871.0h1.5v1.5h-1.5zM730.0 873.0h1.5v1.5h-1.5zM730.0 877.0h1.5v1.5h-1.5zM730.0 878.0h1.5v1.5h-1.5zM730.0 879.0h1.5v1.5h-1.5zM730.0 881.0h1.5v1.5h-1.5zM730.0 884.0h1.5v1.5h-1.5zM730.0 889.0h1.5v1.5h-1.5zM731.0 792.0h1.5v1.5h-1.5zM731.0 795.0h1.5v1.5h-1.5zM731.0 798.0h1.5v1.5h-1.5zM731.0 810.0h1.5v1.5h-1.5zM731.0 812.0h1.5v1.5h-1.5zM731.0 819.0h1.5v1.5h-1.5zM731.0 822.0h1.5v1.5h-1.5zM731.0 827.0h1.5v1.5h-1.5zM731.0 830.0h1.5v1.5h-1.5zM731.0 833.0h1.5v1.5h-1.5zM731.0 834.0h1.5v1.5h-1.5zM731.0 837.0h1.5v1.5h-1.5zM731.0 840.0h1.5v1.5h-1.5zM731.0 842.0h1.5v1.5h-1.5zM731.0 844.0h1.5v1.5h-1.5zM731.0 845.0h1.5v1.5h-1.5zM731.0 846.0h1.5v1.5h-1.5zM731.0 847.0h1.5v1.5h-1.5zM731.0 848.0h1.5v1.5h-1.5zM731.0 849.0h1.5v1.5h-1.5zM731.0 850.0h1.5v1.5h-1.5zM731.0 852.0h1.5v1.5h-1.5zM731.0 853.0h1.5v1.5h-1.5zM731.0 855.0h1.5v1.5h-1.5zM731.0 858.0h1.5v1.5h-1.5zM731.0 859.0h1.5v1.5h-1.5zM731.0 860.0h1.5v1.5h-1.5zM731.0 862.0h1.5v1.5h-1.5zM731.0 864.0h1.5v1.5h-1.5zM731.0 865.0h1.5v1.5h-1.5zM731.0 866.0h1.5v1.5h-1.5zM731.0 867.0h1.5v1.5h-1.5zM731.0 868.0h1.5v1.5h-1.5zM731.0 869.0h1.5v1.5h-1.5zM731.0 872.0h1.5v1.5h-1.5zM731.0 873.0h1.5v1.5h-1.5zM731.0 874.0h1.5v1.5h-1.5zM731.0 875.0h1.5v1.5h-1.5zM731.0 876.0h1.5v1.5h-1.5zM731.0 879.0h1.5v1.5h-1.5zM731.0 882.0h1.5v1.5h-1.5zM731.0 884.0h1.5v1.5h-1.5zM731.0 894.0h1.5v1.5h-1.5zM732.0 805.0h1.5v1.5h-1.5zM732.0 808.0h1.5v1.5h-1.5zM732.0 809.0h1.5v1.5h-1.5zM732.0 818.0h1.5v1.5h-1.5zM732.0 824.0h1.5v1.5h-1.5zM732.0 825.0h1.5v1.5h-1.5zM732.0 830.0h1.5v1.5h-1.5zM732.0 834.0h1.5v1.5h-1.5zM732.0 838.0h1.5v1.5h-1.5zM732.0 841.0h1.5v1.5h-1.5zM732.0 842.0h1.5v1.5h-1.5zM732.0 845.0h1.5v1.5h-1.5zM732.0 846.0h1.5v1.5h-1.5zM732.0 847.0h1.5v1.5h-1.5zM732.0 848.0h1.5v1.5h-1.5zM732.0 849.0h1.5v1.5h-1.5zM732.0 850.0h1.5v1.5h-1.5zM732.0 852.0h1.5v1.5h-1.5zM732.0 853.0h1.5v1.5h-1.5zM732.0 855.0h1.5v1.5h-1.5zM732.0 858.0h1.5v1.5h-1.5zM732.0 859.0h1.5v1.5h-1.5zM732.0 860.0h1.5v1.5h-1.5zM732.0 861.0h1.5v1.5h-1.5zM732.0 862.0h1.5v1.5h-1.5zM732.0 863.0h1.5v1.5h-1.5zM732.0 864.0h1.5v1.5h-1.5zM732.0 865.0h1.5v1.5h-1.5zM732.0 867.0h1.5v1.5h-1.5zM732.0 868.0h1.5v1.5h-1.5zM732.0 869.0h1.5v1.5h-1.5zM732.0 870.0h1.5v1.5h-1.5zM732.0 872.0h1.5v1.5h-1.5zM732.0 877.0h1.5v1.5h-1.5zM732.0 879.0h1.5v1.5h-1.5zM732.0 881.0h1.5v1.5h-1.5zM732.0 888.0h1.5v1.5h-1.5zM733.0 784.0h1.5v1.5h-1.5zM733.0 790.0h1.5v1.5h-1.5zM733.0 797.0h1.5v1.5h-1.5zM733.0 813.0h1.5v1.5h-1.5zM733.0 816.0h1.5v1.5h-1.5zM733.0 817.0h1.5v1.5h-1.5zM733.0 818.0h1.5v1.5h-1.5zM733.0 820.0h1.5v1.5h-1.5zM733.0 826.0h1.5v1.5h-1.5zM733.0 827.0h1.5v1.5h-1.5zM733.0 830.0h1.5v1.5h-1.5zM733.0 831.0h1.5v1.5h-1.5zM733.0 833.0h1.5v1.5h-1.5zM733.0 835.0h1.5v1.5h-1.5zM733.0 837.0h1.5v1.5h-1.5zM733.0 840.0h1.5v1.5h-1.5zM733.0 841.0h1.5v1.5h-1.5zM733.0 846.0h1.5v1.5h-1.5zM733.0 848.0h1.5v1.5h-1.5zM733.0 849.0h1.5v1.5h-1.5zM733.0 850.0h1.5v1.5h-1.5zM733.0 851.0h1.5v1.5h-1.5zM733.0 853.0h1.5v1.5h-1.5zM733.0 854.0h1.5v1.5h-1.5zM733.0 855.0h1.5v1.5h-1.5zM733.0 856.0h1.5v1.5h-1.5zM733.0 857.0h1.5v1.5h-1.5zM733.0 858.0h1.5v1.5h-1.5zM733.0 860.0h1.5v1.5h-1.5zM733.0 861.0h1.5v1.5h-1.5zM733.0 862.0h1.5v1.5h-1.5zM733.0 865.0h1.5v1.5h-1.5zM733.0 866.0h1.5v1.5h-1.5zM733.0 869.0h1.5v1.5h-1.5zM733.0 875.0h1.5v1.5h-1.5zM733.0 879.0h1.5v1.5h-1.5zM733.0 881.0h1.5v1.5h-1.5zM733.0 891.0h1.5v1.5h-1.5zM734.0 785.0h1.5v1.5h-1.5zM734.0 790.0h1.5v1.5h-1.5zM734.0 802.0h1.5v1.5h-1.5zM734.0 805.0h1.5v1.5h-1.5zM734.0 807.0h1.5v1.5h-1.5zM734.0 812.0h1.5v1.5h-1.5zM734.0 814.0h1.5v1.5h-1.5zM734.0 818.0h1.5v1.5h-1.5zM734.0 821.0h1.5v1.5h-1.5zM734.0 823.0h1.5v1.5h-1.5zM734.0 827.0h1.5v1.5h-1.5zM734.0 835.0h1.5v1.5h-1.5zM734.0 838.0h1.5v1.5h-1.5zM734.0 839.0h1.5v1.5h-1.5zM734.0 840.0h1.5v1.5h-1.5zM734.0 841.0h1.5v1.5h-1.5zM734.0 842.0h1.5v1.5h-1.5zM734.0 844.0h1.5v1.5h-1.5zM734.0 845.0h1.5v1.5h-1.5zM734.0 846.0h1.5v1.5h-1.5zM734.0 847.0h1.5v1.5h-1.5zM734.0 849.0h1.5v1.5h-1.5zM734.0 850.0h1.5v1.5h-1.5zM734.0 852.0h1.5v1.5h-1.5zM734.0 856.0h1.5v1.5h-1.5zM734.0 858.0h1.5v1.5h-1.5zM734.0 860.0h1.5v1.5h-1.5zM734.0 861.0h1.5v1.5h-1.5zM734.0 870.0h1.5v1.5h-1.5zM734.0 871.0h1.5v1.5h-1.5zM734.0 872.0h1.5v1.5h-1.5zM734.0 873.0h1.5v1.5h-1.5zM734.0 874.0h1.5v1.5h-1.5zM734.0 876.0h1.5v1.5h-1.5zM734.0 877.0h1.5v1.5h-1.5zM734.0 878.0h1.5v1.5h-1.5zM734.0 882.0h1.5v1.5h-1.5zM734.0 883.0h1.5v1.5h-1.5zM734.0 886.0h1.5v1.5h-1.5zM734.0 889.0h1.5v1.5h-1.5zM735.0 795.0h1.5v1.5h-1.5zM735.0 799.0h1.5v1.5h-1.5zM735.0 800.0h1.5v1.5h-1.5zM735.0 818.0h1.5v1.5h-1.5zM735.0 825.0h1.5v1.5h-1.5zM735.0 830.0h1.5v1.5h-1.5zM735.0 831.0h1.5v1.5h-1.5zM735.0 833.0h1.5v1.5h-1.5zM735.0 834.0h1.5v1.5h-1.5zM735.0 835.0h1.5v1.5h-1.5zM735.0 836.0h1.5v1.5h-1.5zM735.0 839.0h1.5v1.5h-1.5zM735.0 840.0h1.5v1.5h-1.5zM735.0 841.0h1.5v1.5h-1.5zM735.0 842.0h1.5v1.5h-1.5zM735.0 843.0h1.5v1.5h-1.5zM735.0 844.0h1.5v1.5h-1.5zM735.0 846.0h1.5v1.5h-1.5zM735.0 847.0h1.5v1.5h-1.5zM735.0 848.0h1.5v1.5h-1.5zM735.0 850.0h1.5v1.5h-1.5zM735.0 851.0h1.5v1.5h-1.5zM735.0 852.0h1.5v1.5h-1.5zM735.0 853.0h1.5v1.5h-1.5zM735.0 854.0h1.5v1.5h-1.5zM735.0 855.0h1.5v1.5h-1.5zM735.0 856.0h1.5v1.5h-1.5zM735.0 861.0h1.5v1.5h-1.5zM735.0 862.0h1.5v1.5h-1.5zM735.0 863.0h1.5v1.5h-1.5zM735.0 864.0h1.5v1.5h-1.5zM735.0 865.0h1.5v1.5h-1.5zM735.0 866.0h1.5v1.5h-1.5zM735.0 867.0h1.5v1.5h-1.5zM735.0 869.0h1.5v1.5h-1.5zM735.0 872.0h1.5v1.5h-1.5zM735.0 873.0h1.5v1.5h-1.5zM735.0 877.0h1.5v1.5h-1.5zM735.0 879.0h1.5v1.5h-1.5zM735.0 881.0h1.5v1.5h-1.5zM735.0 886.0h1.5v1.5h-1.5zM735.0 894.0h1.5v1.5h-1.5zM735.0 895.0h1.5v1.5h-1.5zM736.0 795.0h1.5v1.5h-1.5zM736.0 796.0h1.5v1.5h-1.5zM736.0 801.0h1.5v1.5h-1.5zM736.0 806.0h1.5v1.5h-1.5zM736.0 807.0h1.5v1.5h-1.5zM736.0 812.0h1.5v1.5h-1.5zM736.0 813.0h1.5v1.5h-1.5zM736.0 820.0h1.5v1.5h-1.5zM736.0 823.0h1.5v1.5h-1.5zM736.0 827.0h1.5v1.5h-1.5zM736.0 830.0h1.5v1.5h-1.5zM736.0 834.0h1.5v1.5h-1.5zM736.0 835.0h1.5v1.5h-1.5zM736.0 836.0h1.5v1.5h-1.5zM736.0 837.0h1.5v1.5h-1.5zM736.0 838.0h1.5v1.5h-1.5zM736.0 839.0h1.5v1.5h-1.5zM736.0 842.0h1.5v1.5h-1.5zM736.0 843.0h1.5v1.5h-1.5zM736.0 844.0h1.5v1.5h-1.5zM736.0 845.0h1.5v1.5h-1.5zM736.0 846.0h1.5v1.5h-1.5zM736.0 847.0h1.5v1.5h-1.5zM736.0 850.0h1.5v1.5h-1.5zM736.0 851.0h1.5v1.5h-1.5zM736.0 854.0h1.5v1.5h-1.5zM736.0 856.0h1.5v1.5h-1.5zM736.0 857.0h1.5v1.5h-1.5zM736.0 859.0h1.5v1.5h-1.5zM736.0 860.0h1.5v1.5h-1.5zM736.0 861.0h1.5v1.5h-1.5zM736.0 864.0h1.5v1.5h-1.5zM736.0 868.0h1.5v1.5h-1.5zM736.0 870.0h1.5v1.5h-1.5zM736.0 871.0h1.5v1.5h-1.5zM736.0 872.0h1.5v1.5h-1.5zM736.0 878.0h1.5v1.5h-1.5zM736.0 881.0h1.5v1.5h-1.5zM736.0 884.0h1.5v1.5h-1.5zM736.0 887.0h1.5v1.5h-1.5zM736.0 888.0h1.5v1.5h-1.5zM737.0 801.0h1.5v1.5h-1.5zM737.0 805.0h1.5v1.5h-1.5zM737.0 812.0h1.5v1.5h-1.5zM737.0 813.0h1.5v1.5h-1.5zM737.0 815.0h1.5v1.5h-1.5zM737.0 821.0h1.5v1.5h-1.5zM737.0 823.0h1.5v1.5h-1.5zM737.0 824.0h1.5v1.5h-1.5zM737.0 829.0h1.5v1.5h-1.5zM737.0 831.0h1.5v1.5h-1.5zM737.0 833.0h1.5v1.5h-1.5zM737.0 835.0h1.5v1.5h-1.5zM737.0 836.0h1.5v1.5h-1.5zM737.0 838.0h1.5v1.5h-1.5zM737.0 839.0h1.5v1.5h-1.5zM737.0 843.0h1.5v1.5h-1.5zM737.0 845.0h1.5v1.5h-1.5zM737.0 846.0h1.5v1.5h-1.5zM737.0 848.0h1.5v1.5h-1.5zM737.0 851.0h1.5v1.5h-1.5zM737.0 854.0h1.5v1.5h-1.5zM737.0 855.0h1.5v1.5h-1.5zM737.0 857.0h1.5v1.5h-1.5zM737.0 859.0h1.5v1.5h-1.5zM737.0 860.0h1.5v1.5h-1.5zM737.0 864.0h1.5v1.5h-1.5zM737.0 865.0h1.5v1.5h-1.5zM737.0 866.0h1.5v1.5h-1.5zM737.0 868.0h1.5v1.5h-1.5zM737.0 870.0h1.5v1.5h-1.5zM737.0 871.0h1.5v1.5h-1.5zM737.0 877.0h1.5v1.5h-1.5zM738.0 789.0h1.5v1.5h-1.5zM738.0 804.0h1.5v1.5h-1.5zM738.0 819.0h1.5v1.5h-1.5zM738.0 820.0h1.5v1.5h-1.5zM738.0 822.0h1.5v1.5h-1.5zM738.0 830.0h1.5v1.5h-1.5zM738.0 831.0h1.5v1.5h-1.5zM738.0 833.0h1.5v1.5h-1.5zM738.0 834.0h1.5v1.5h-1.5zM738.0 835.0h1.5v1.5h-1.5zM738.0 838.0h1.5v1.5h-1.5zM738.0 839.0h1.5v1.5h-1.5zM738.0 840.0h1.5v1.5h-1.5zM738.0 842.0h1.5v1.5h-1.5zM738.0 843.0h1.5v1.5h-1.5zM738.0 845.0h1.5v1.5h-1.5zM738.0 846.0h1.5v1.5h-1.5zM738.0 847.0h1.5v1.5h-1.5zM738.0 849.0h1.5v1.5h-1.5zM738.0 851.0h1.5v1.5h-1.5zM738.0 854.0h1.5v1.5h-1.5zM738.0 855.0h1.5v1.5h-1.5zM738.0 858.0h1.5v1.5h-1.5zM738.0 868.0h1.5v1.5h-1.5zM738.0 873.0h1.5v1.5h-1.5zM738.0 877.0h1.5v1.5h-1.5zM738.0 881.0h1.5v1.5h-1.5zM738.0 887.0h1.5v1.5h-1.5zM738.0 889.0h1.5v1.5h-1.5zM738.0 900.0h1.5v1.5h-1.5zM739.0 799.0h1.5v1.5h-1.5zM739.0 803.0h1.5v1.5h-1.5zM739.0 820.0h1.5v1.5h-1.5zM739.0 823.0h1.5v1.5h-1.5zM739.0 827.0h1.5v1.5h-1.5zM739.0 828.0h1.5v1.5h-1.5zM739.0 829.0h1.5v1.5h-1.5zM739.0 832.0h1.5v1.5h-1.5zM739.0 833.0h1.5v1.5h-1.5zM739.0 835.0h1.5v1.5h-1.5zM739.0 836.0h1.5v1.5h-1.5zM739.0 840.0h1.5v1.5h-1.5zM739.0 842.0h1.5v1.5h-1.5zM739.0 845.0h1.5v1.5h-1.5zM739.0 846.0h1.5v1.5h-1.5zM739.0 849.0h1.5v1.5h-1.5zM739.0 850.0h1.5v1.5h-1.5zM739.0 851.0h1.5v1.5h-1.5zM739.0 852.0h1.5v1.5h-1.5zM739.0 853.0h1.5v1.5h-1.5zM739.0 854.0h1.5v1.5h-1.5zM739.0 855.0h1.5v1.5h-1.5zM739.0 856.0h1.5v1.5h-1.5zM739.0 857.0h1.5v1.5h-1.5zM739.0 858.0h1.5v1.5h-1.5zM739.0 860.0h1.5v1.5h-1.5zM739.0 861.0h1.5v1.5h-1.5zM739.0 862.0h1.5v1.5h-1.5zM739.0 863.0h1.5v1.5h-1.5zM739.0 864.0h1.5v1.5h-1.5zM739.0 867.0h1.5v1.5h-1.5zM739.0 874.0h1.5v1.5h-1.5zM739.0 876.0h1.5v1.5h-1.5zM739.0 882.0h1.5v1.5h-1.5zM739.0 886.0h1.5v1.5h-1.5zM739.0 905.0h1.5v1.5h-1.5zM740.0 805.0h1.5v1.5h-1.5zM740.0 806.0h1.5v1.5h-1.5zM740.0 809.0h1.5v1.5h-1.5zM740.0 811.0h1.5v1.5h-1.5zM740.0 812.0h1.5v1.5h-1.5zM740.0 814.0h1.5v1.5h-1.5zM740.0 826.0h1.5v1.5h-1.5zM740.0 829.0h1.5v1.5h-1.5zM740.0 832.0h1.5v1.5h-1.5zM740.0 833.0h1.5v1.5h-1.5zM740.0 834.0h1.5v1.5h-1.5zM740.0 835.0h1.5v1.5h-1.5zM740.0 839.0h1.5v1.5h-1.5zM740.0 840.0h1.5v1.5h-1.5zM740.0 841.0h1.5v1.5h-1.5zM740.0 842.0h1.5v1.5h-1.5zM740.0 843.0h1.5v1.5h-1.5zM740.0 844.0h1.5v1.5h-1.5zM740.0 845.0h1.5v1.5h-1.5zM740.0 846.0h1.5v1.5h-1.5zM740.0 847.0h1.5v1.5h-1.5zM740.0 849.0h1.5v1.5h-1.5zM740.0 851.0h1.5v1.5h-1.5zM740.0 852.0h1.5v1.5h-1.5zM740.0 854.0h1.5v1.5h-1.5zM740.0 856.0h1.5v1.5h-1.5zM740.0 857.0h1.5v1.5h-1.5zM740.0 858.0h1.5v1.5h-1.5zM740.0 860.0h1.5v1.5h-1.5zM740.0 861.0h1.5v1.5h-1.5zM740.0 862.0h1.5v1.5h-1.5zM740.0 865.0h1.5v1.5h-1.5zM740.0 866.0h1.5v1.5h-1.5zM740.0 868.0h1.5v1.5h-1.5zM740.0 873.0h1.5v1.5h-1.5zM740.0 874.0h1.5v1.5h-1.5zM740.0 879.0h1.5v1.5h-1.5zM740.0 880.0h1.5v1.5h-1.5zM740.0 889.0h1.5v1.5h-1.5zM740.0 892.0h1.5v1.5h-1.5zM741.0 793.0h1.5v1.5h-1.5zM741.0 794.0h1.5v1.5h-1.5zM741.0 796.0h1.5v1.5h-1.5zM741.0 811.0h1.5v1.5h-1.5zM741.0 813.0h1.5v1.5h-1.5zM741.0 815.0h1.5v1.5h-1.5zM741.0 824.0h1.5v1.5h-1.5zM741.0 825.0h1.5v1.5h-1.5zM741.0 830.0h1.5v1.5h-1.5zM741.0 831.0h1.5v1.5h-1.5zM741.0 833.0h1.5v1.5h-1.5zM741.0 834.0h1.5v1.5h-1.5zM741.0 837.0h1.5v1.5h-1.5zM741.0 838.0h1.5v1.5h-1.5zM741.0 841.0h1.5v1.5h-1.5zM741.0 844.0h1.5v1.5h-1.5zM741.0 846.0h1.5v1.5h-1.5zM741.0 848.0h1.5v1.5h-1.5zM741.0 850.0h1.5v1.5h-1.5zM741.0 851.0h1.5v1.5h-1.5zM741.0 853.0h1.5v1.5h-1.5zM741.0 855.0h1.5v1.5h-1.5zM741.0 856.0h1.5v1.5h-1.5zM741.0 859.0h1.5v1.5h-1.5zM741.0 864.0h1.5v1.5h-1.5zM741.0 865.0h1.5v1.5h-1.5zM741.0 872.0h1.5v1.5h-1.5zM741.0 878.0h1.5v1.5h-1.5zM741.0 886.0h1.5v1.5h-1.5zM742.0 787.0h1.5v1.5h-1.5zM742.0 801.0h1.5v1.5h-1.5zM742.0 803.0h1.5v1.5h-1.5zM742.0 808.0h1.5v1.5h-1.5zM742.0 810.0h1.5v1.5h-1.5zM742.0 828.0h1.5v1.5h-1.5zM742.0 830.0h1.5v1.5h-1.5zM742.0 834.0h1.5v1.5h-1.5zM742.0 835.0h1.5v1.5h-1.5zM742.0 836.0h1.5v1.5h-1.5zM742.0 837.0h1.5v1.5h-1.5zM742.0 838.0h1.5v1.5h-1.5zM742.0 844.0h1.5v1.5h-1.5zM742.0 846.0h1.5v1.5h-1.5zM742.0 847.0h1.5v1.5h-1.5zM742.0 851.0h1.5v1.5h-1.5zM742.0 854.0h1.5v1.5h-1.5zM742.0 859.0h1.5v1.5h-1.5zM742.0 860.0h1.5v1.5h-1.5zM742.0 862.0h1.5v1.5h-1.5zM742.0 865.0h1.5v1.5h-1.5zM742.0 866.0h1.5v1.5h-1.5zM742.0 870.0h1.5v1.5h-1.5zM742.0 871.0h1.5v1.5h-1.5zM742.0 875.0h1.5v1.5h-1.5zM742.0 876.0h1.5v1.5h-1.5zM742.0 898.0h1.5v1.5h-1.5zM742.0 900.0h1.5v1.5h-1.5zM743.0 799.0h1.5v1.5h-1.5zM743.0 801.0h1.5v1.5h-1.5zM743.0 815.0h1.5v1.5h-1.5zM743.0 817.0h1.5v1.5h-1.5zM743.0 821.0h1.5v1.5h-1.5zM743.0 824.0h1.5v1.5h-1.5zM743.0 828.0h1.5v1.5h-1.5zM743.0 829.0h1.5v1.5h-1.5zM743.0 832.0h1.5v1.5h-1.5zM743.0 833.0h1.5v1.5h-1.5zM743.0 835.0h1.5v1.5h-1.5zM743.0 838.0h1.5v1.5h-1.5zM743.0 840.0h1.5v1.5h-1.5zM743.0 841.0h1.5v1.5h-1.5zM743.0 842.0h1.5v1.5h-1.5zM743.0 844.0h1.5v1.5h-1.5zM743.0 845.0h1.5v1.5h-1.5zM743.0 846.0h1.5v1.5h-1.5zM743.0 849.0h1.5v1.5h-1.5zM743.0 851.0h1.5v1.5h-1.5zM743.0 852.0h1.5v1.5h-1.5zM743.0 853.0h1.5v1.5h-1.5zM743.0 855.0h1.5v1.5h-1.5zM743.0 857.0h1.5v1.5h-1.5zM743.0 868.0h1.5v1.5h-1.5zM743.0 879.0h1.5v1.5h-1.5zM743.0 882.0h1.5v1.5h-1.5zM744.0 788.0h1.5v1.5h-1.5zM744.0 797.0h1.5v1.5h-1.5zM744.0 801.0h1.5v1.5h-1.5zM744.0 804.0h1.5v1.5h-1.5zM744.0 805.0h1.5v1.5h-1.5zM744.0 821.0h1.5v1.5h-1.5zM744.0 825.0h1.5v1.5h-1.5zM744.0 826.0h1.5v1.5h-1.5zM744.0 827.0h1.5v1.5h-1.5zM744.0 828.0h1.5v1.5h-1.5zM744.0 833.0h1.5v1.5h-1.5zM744.0 835.0h1.5v1.5h-1.5zM744.0 837.0h1.5v1.5h-1.5zM744.0 838.0h1.5v1.5h-1.5zM744.0 839.0h1.5v1.5h-1.5zM744.0 840.0h1.5v1.5h-1.5zM744.0 841.0h1.5v1.5h-1.5zM744.0 843.0h1.5v1.5h-1.5zM744.0 845.0h1.5v1.5h-1.5zM744.0 846.0h1.5v1.5h-1.5zM744.0 851.0h1.5v1.5h-1.5zM744.0 854.0h1.5v1.5h-1.5zM744.0 856.0h1.5v1.5h-1.5zM744.0 866.0h1.5v1.5h-1.5zM744.0 869.0h1.5v1.5h-1.5zM744.0 876.0h1.5v1.5h-1.5zM744.0 886.0h1.5v1.5h-1.5zM745.0 799.0h1.5v1.5h-1.5zM745.0 805.0h1.5v1.5h-1.5zM745.0 817.0h1.5v1.5h-1.5zM745.0 831.0h1.5v1.5h-1.5zM745.0 833.0h1.5v1.5h-1.5zM745.0 834.0h1.5v1.5h-1.5zM745.0 837.0h1.5v1.5h-1.5zM745.0 838.0h1.5v1.5h-1.5zM745.0 839.0h1.5v1.5h-1.5zM745.0 840.0h1.5v1.5h-1.5zM745.0 841.0h1.5v1.5h-1.5zM745.0 842.0h1.5v1.5h-1.5zM745.0 845.0h1.5v1.5h-1.5zM745.0 847.0h1.5v1.5h-1.5zM745.0 848.0h1.5v1.5h-1.5zM745.0 851.0h1.5v1.5h-1.5zM745.0 854.0h1.5v1.5h-1.5zM745.0 857.0h1.5v1.5h-1.5zM745.0 862.0h1.5v1.5h-1.5zM745.0 867.0h1.5v1.5h-1.5zM745.0 869.0h1.5v1.5h-1.5zM745.0 870.0h1.5v1.5h-1.5zM745.0 874.0h1.5v1.5h-1.5zM746.0 795.0h1.5v1.5h-1.5zM746.0 802.0h1.5v1.5h-1.5zM746.0 807.0h1.5v1.5h-1.5zM746.0 810.0h1.5v1.5h-1.5zM746.0 811.0h1.5v1.5h-1.5zM746.0 815.0h1.5v1.5h-1.5zM746.0 819.0h1.5v1.5h-1.5zM746.0 830.0h1.5v1.5h-1.5zM746.0 834.0h1.5v1.5h-1.5zM746.0 835.0h1.5v1.5h-1.5zM746.0 840.0h1.5v1.5h-1.5zM746.0 843.0h1.5v1.5h-1.5zM746.0 851.0h1.5v1.5h-1.5zM746.0 852.0h1.5v1.5h-1.5zM746.0 859.0h1.5v1.5h-1.5zM746.0 864.0h1.5v1.5h-1.5zM746.0 867.0h1.5v1.5h-1.5zM746.0 868.0h1.5v1.5h-1.5zM746.0 870.0h1.5v1.5h-1.5zM746.0 885.0h1.5v1.5h-1.5zM747.0 789.0h1.5v1.5h-1.5zM747.0 792.0h1.5v1.5h-1.5zM747.0 809.0h1.5v1.5h-1.5zM747.0 824.0h1.5v1.5h-1.5zM747.0 825.0h1.5v1.5h-1.5zM747.0 826.0h1.5v1.5h-1.5zM747.0 832.0h1.5v1.5h-1.5zM747.0 833.0h1.5v1.5h-1.5zM747.0 835.0h1.5v1.5h-1.5zM747.0 841.0h1.5v1.5h-1.5zM747.0 843.0h1.5v1.5h-1.5zM747.0 844.0h1.5v1.5h-1.5zM747.0 845.0h1.5v1.5h-1.5zM747.0 847.0h1.5v1.5h-1.5zM747.0 848.0h1.5v1.5h-1.5zM747.0 850.0h1.5v1.5h-1.5zM747.0 851.0h1.5v1.5h-1.5zM747.0 852.0h1.5v1.5h-1.5zM747.0 853.0h1.5v1.5h-1.5zM747.0 856.0h1.5v1.5h-1.5zM747.0 860.0h1.5v1.5h-1.5zM747.0 865.0h1.5v1.5h-1.5zM747.0 874.0h1.5v1.5h-1.5zM747.0 876.0h1.5v1.5h-1.5zM747.0 881.0h1.5v1.5h-1.5zM748.0 798.0h1.5v1.5h-1.5zM748.0 813.0h1.5v1.5h-1.5zM748.0 815.0h1.5v1.5h-1.5zM748.0 819.0h1.5v1.5h-1.5zM748.0 821.0h1.5v1.5h-1.5zM748.0 822.0h1.5v1.5h-1.5zM748.0 824.0h1.5v1.5h-1.5zM748.0 827.0h1.5v1.5h-1.5zM748.0 828.0h1.5v1.5h-1.5zM748.0 831.0h1.5v1.5h-1.5zM748.0 833.0h1.5v1.5h-1.5zM748.0 836.0h1.5v1.5h-1.5zM748.0 839.0h1.5v1.5h-1.5zM748.0 840.0h1.5v1.5h-1.5zM748.0 846.0h1.5v1.5h-1.5zM748.0 847.0h1.5v1.5h-1.5zM748.0 851.0h1.5v1.5h-1.5zM748.0 855.0h1.5v1.5h-1.5zM748.0 859.0h1.5v1.5h-1.5zM748.0 860.0h1.5v1.5h-1.5zM748.0 862.0h1.5v1.5h-1.5zM748.0 864.0h1.5v1.5h-1.5zM748.0 874.0h1.5v1.5h-1.5zM749.0 785.0h1.5v1.5h-1.5zM749.0 787.0h1.5v1.5h-1.5zM749.0 819.0h1.5v1.5h-1.5zM749.0 826.0h1.5v1.5h-1.5zM749.0 827.0h1.5v1.5h-1.5zM749.0 833.0h1.5v1.5h-1.5zM749.0 836.0h1.5v1.5h-1.5zM749.0 839.0h1.5v1.5h-1.5zM749.0 841.0h1.5v1.5h-1.5zM749.0 842.0h1.5v1.5h-1.5zM749.0 847.0h1.5v1.5h-1.5zM749.0 860.0h1.5v1.5h-1.5zM749.0 861.0h1.5v1.5h-1.5zM749.0 865.0h1.5v1.5h-1.5zM749.0 866.0h1.5v1.5h-1.5zM749.0 869.0h1.5v1.5h-1.5zM749.0 870.0h1.5v1.5h-1.5zM750.0 799.0h1.5v1.5h-1.5zM750.0 804.0h1.5v1.5h-1.5zM750.0 816.0h1.5v1.5h-1.5zM750.0 828.0h1.5v1.5h-1.5zM750.0 831.0h1.5v1.5h-1.5zM750.0 832.0h1.5v1.5h-1.5zM750.0 833.0h1.5v1.5h-1.5zM750.0 841.0h1.5v1.5h-1.5zM750.0 851.0h1.5v1.5h-1.5zM750.0 852.0h1.5v1.5h-1.5zM750.0 857.0h1.5v1.5h-1.5zM750.0 880.0h1.5v1.5h-1.5zM750.0 885.0h1.5v1.5h-1.5zM751.0 796.0h1.5v1.5h-1.5zM751.0 811.0h1.5v1.5h-1.5zM751.0 816.0h1.5v1.5h-1.5zM751.0 818.0h1.5v1.5h-1.5zM751.0 819.0h1.5v1.5h-1.5zM751.0 820.0h1.5v1.5h-1.5zM751.0 823.0h1.5v1.5h-1.5zM751.0 825.0h1.5v1.5h-1.5zM751.0 826.0h1.5v1.5h-1.5zM751.0 827.0h1.5v1.5h-1.5zM751.0 831.0h1.5v1.5h-1.5zM751.0 837.0h1.5v1.5h-1.5zM751.0 840.0h1.5v1.5h-1.5zM751.0 844.0h1.5v1.5h-1.5zM751.0 847.0h1.5v1.5h-1.5zM751.0 857.0h1.5v1.5h-1.5zM751.0 862.0h1.5v1.5h-1.5zM751.0 864.0h1.5v1.5h-1.5zM752.0 793.0h1.5v1.5h-1.5zM752.0 821.0h1.5v1.5h-1.5zM752.0 828.0h1.5v1.5h-1.5zM752.0 829.0h1.5v1.5h-1.5zM752.0 833.0h1.5v1.5h-1.5zM752.0 834.0h1.5v1.5h-1.5zM752.0 838.0h1.5v1.5h-1.5zM752.0 844.0h1.5v1.5h-1.5zM752.0 850.0h1.5v1.5h-1.5zM752.0 855.0h1.5v1.5h-1.5zM752.0 857.0h1.5v1.5h-1.5zM752.0 873.0h1.5v1.5h-1.5zM752.0 875.0h1.5v1.5h-1.5zM753.0 794.0h1.5v1.5h-1.5zM753.0 813.0h1.5v1.5h-1.5zM753.0 815.0h1.5v1.5h-1.5zM753.0 820.0h1.5v1.5h-1.5zM753.0 823.0h1.5v1.5h-1.5zM753.0 827.0h1.5v1.5h-1.5zM753.0 830.0h1.5v1.5h-1.5zM753.0 834.0h1.5v1.5h-1.5zM753.0 837.0h1.5v1.5h-1.5zM753.0 843.0h1.5v1.5h-1.5zM753.0 844.0h1.5v1.5h-1.5zM753.0 853.0h1.5v1.5h-1.5zM753.0 855.0h1.5v1.5h-1.5zM753.0 856.0h1.5v1.5h-1.5zM753.0 859.0h1.5v1.5h-1.5zM753.0 860.0h1.5v1.5h-1.5zM753.0 862.0h1.5v1.5h-1.5zM753.0 872.0h1.5v1.5h-1.5zM754.0 796.0h1.5v1.5h-1.5zM754.0 798.0h1.5v1.5h-1.5zM754.0 810.0h1.5v1.5h-1.5zM754.0 824.0h1.5v1.5h-1.5zM754.0 831.0h1.5v1.5h-1.5zM754.0 833.0h1.5v1.5h-1.5zM754.0 836.0h1.5v1.5h-1.5zM754.0 840.0h1.5v1.5h-1.5zM754.0 846.0h1.5v1.5h-1.5zM754.0 849.0h1.5v1.5h-1.5zM754.0 852.0h1.5v1.5h-1.5zM754.0 853.0h1.5v1.5h-1.5zM754.0 857.0h1.5v1.5h-1.5zM754.0 864.0h1.5v1.5h-1.5zM754.0 885.0h1.5v1.5h-1.5zM755.0 785.0h1.5v1.5h-1.5zM755.0 805.0h1.5v1.5h-1.5zM755.0 810.0h1.5v1.5h-1.5zM755.0 815.0h1.5v1.5h-1.5zM755.0 826.0h1.5v1.5h-1.5zM755.0 833.0h1.5v1.5h-1.5zM755.0 838.0h1.5v1.5h-1.5zM755.0 842.0h1.5v1.5h-1.5zM755.0 843.0h1.5v1.5h-1.5zM755.0 845.0h1.5v1.5h-1.5zM755.0 847.0h1.5v1.5h-1.5zM755.0 853.0h1.5v1.5h-1.5zM755.0 865.0h1.5v1.5h-1.5zM755.0 867.0h1.5v1.5h-1.5zM756.0 806.0h1.5v1.5h-1.5zM756.0 827.0h1.5v1.5h-1.5zM756.0 836.0h1.5v1.5h-1.5zM756.0 837.0h1.5v1.5h-1.5zM756.0 839.0h1.5v1.5h-1.5zM756.0 840.0h1.5v1.5h-1.5zM756.0 848.0h1.5v1.5h-1.5zM756.0 853.0h1.5v1.5h-1.5zM756.0 855.0h1.5v1.5h-1.5zM756.0 861.0h1.5v1.5h-1.5zM756.0 863.0h1.5v1.5h-1.5zM756.0 883.0h1.5v1.5h-1.5zM757.0 818.0h1.5v1.5h-1.5zM757.0 827.0h1.5v1.5h-1.5zM757.0 828.0h1.5v1.5h-1.5zM757.0 829.0h1.5v1.5h-1.5zM757.0 832.0h1.5v1.5h-1.5zM757.0 837.0h1.5v1.5h-1.5zM757.0 844.0h1.5v1.5h-1.5zM757.0 850.0h1.5v1.5h-1.5zM757.0 858.0h1.5v1.5h-1.5zM757.0 860.0h1.5v1.5h-1.5zM758.0 830.0h1.5v1.5h-1.5zM758.0 833.0h1.5v1.5h-1.5zM758.0 838.0h1.5v1.5h-1.5zM758.0 841.0h1.5v1.5h-1.5zM758.0 848.0h1.5v1.5h-1.5zM758.0 849.0h1.5v1.5h-1.5zM758.0 857.0h1.5v1.5h-1.5zM758.0 875.0h1.5v1.5h-1.5zM758.0 881.0h1.5v1.5h-1.5zM759.0 794.0h1.5v1.5h-1.5zM759.0 795.0h1.5v1.5h-1.5zM759.0 807.0h1.5v1.5h-1.5zM759.0 813.0h1.5v1.5h-1.5zM759.0 817.0h1.5v1.5h-1.5zM759.0 826.0h1.5v1.5h-1.5zM759.0 836.0h1.5v1.5h-1.5zM759.0 837.0h1.5v1.5h-1.5zM759.0 843.0h1.5v1.5h-1.5zM759.0 846.0h1.5v1.5h-1.5zM759.0 851.0h1.5v1.5h-1.5zM759.0 856.0h1.5v1.5h-1.5zM759.0 857.0h1.5v1.5h-1.5zM759.0 858.0h1.5v1.5h-1.5zM759.0 861.0h1.5v1.5h-1.5zM759.0 865.0h1.5v1.5h-1.5zM760.0 804.0h1.5v1.5h-1.5zM760.0 805.0h1.5v1.5h-1.5zM760.0 807.0h1.5v1.5h-1.5zM760.0 819.0h1.5v1.5h-1.5zM760.0 824.0h1.5v1.5h-1.5zM760.0 830.0h1.5v1.5h-1.5zM760.0 837.0h1.5v1.5h-1.5zM760.0 838.0h1.5v1.5h-1.5zM760.0 844.0h1.5v1.5h-1.5zM760.0 845.0h1.5v1.5h-1.5zM760.0 847.0h1.5v1.5h-1.5zM760.0 860.0h1.5v1.5h-1.5zM761.0 804.0h1.5v1.5h-1.5zM761.0 809.0h1.5v1.5h-1.5zM761.0 812.0h1.5v1.5h-1.5zM761.0 820.0h1.5v1.5h-1.5zM761.0 822.0h1.5v1.5h-1.5zM761.0 826.0h1.5v1.5h-1.5zM761.0 836.0h1.5v1.5h-1.5zM761.0 853.0h1.5v1.5h-1.5zM761.0 869.0h1.5v1.5h-1.5zM762.0 814.0h1.5v1.5h-1.5zM762.0 826.0h1.5v1.5h-1.5zM762.0 835.0h1.5v1.5h-1.5zM762.0 868.0h1.5v1.5h-1.5zM763.0 793.0h1.5v1.5h-1.5zM763.0 827.0h1.5v1.5h-1.5zM763.0 833.0h1.5v1.5h-1.5zM763.0 842.0h1.5v1.5h-1.5zM763.0 847.0h1.5v1.5h-1.5zM763.0 849.0h1.5v1.5h-1.5zM763.0 850.0h1.5v1.5h-1.5zM763.0 857.0h1.5v1.5h-1.5zM763.0 873.0h1.5v1.5h-1.5zM763.0 910.0h1.5v1.5h-1.5zM764.0 800.0h1.5v1.5h-1.5zM764.0 809.0h1.5v1.5h-1.5zM764.0 815.0h1.5v1.5h-1.5zM764.0 817.0h1.5v1.5h-1.5zM764.0 821.0h1.5v1.5h-1.5zM764.0 825.0h1.5v1.5h-1.5zM764.0 837.0h1.5v1.5h-1.5zM764.0 840.0h1.5v1.5h-1.5zM764.0 847.0h1.5v1.5h-1.5zM764.0 867.0h1.5v1.5h-1.5zM765.0 810.0h1.5v1.5h-1.5zM765.0 821.0h1.5v1.5h-1.5zM765.0 827.0h1.5v1.5h-1.5zM765.0 868.0h1.5v1.5h-1.5zM766.0 788.0h1.5v1.5h-1.5zM766.0 794.0h1.5v1.5h-1.5zM766.0 807.0h1.5v1.5h-1.5zM766.0 823.0h1.5v1.5h-1.5zM766.0 831.0h1.5v1.5h-1.5zM766.0 834.0h1.5v1.5h-1.5zM766.0 839.0h1.5v1.5h-1.5zM766.0 848.0h1.5v1.5h-1.5zM766.0 866.0h1.5v1.5h-1.5zM767.0 791.0h1.5v1.5h-1.5zM767.0 799.0h1.5v1.5h-1.5zM767.0 824.0h1.5v1.5h-1.5zM767.0 834.0h1.5v1.5h-1.5zM767.0 835.0h1.5v1.5h-1.5zM767.0 842.0h1.5v1.5h-1.5zM767.0 844.0h1.5v1.5h-1.5zM767.0 846.0h1.5v1.5h-1.5zM767.0 855.0h1.5v1.5h-1.5zM767.0 856.0h1.5v1.5h-1.5zM768.0 810.0h1.5v1.5h-1.5zM768.0 813.0h1.5v1.5h-1.5zM768.0 820.0h1.5v1.5h-1.5zM768.0 841.0h1.5v1.5h-1.5zM768.0 848.0h1.5v1.5h-1.5zM768.0 866.0h1.5v1.5h-1.5zM769.0 799.0h1.5v1.5h-1.5zM769.0 814.0h1.5v1.5h-1.5zM769.0 819.0h1.5v1.5h-1.5zM769.0 823.0h1.5v1.5h-1.5zM769.0 916.0h1.5v1.5h-1.5zM770.0 793.0h1.5v1.5h-1.5zM770.0 805.0h1.5v1.5h-1.5zM770.0 808.0h1.5v1.5h-1.5zM770.0 823.0h1.5v1.5h-1.5zM770.0 851.0h1.5v1.5h-1.5zM770.0 859.0h1.5v1.5h-1.5zM771.0 795.0h1.5v1.5h-1.5zM771.0 799.0h1.5v1.5h-1.5zM771.0 804.0h1.5v1.5h-1.5zM771.0 812.0h1.5v1.5h-1.5zM771.0 825.0h1.5v1.5h-1.5zM771.0 827.0h1.5v1.5h-1.5zM771.0 864.0h1.5v1.5h-1.5zM772.0 791.0h1.5v1.5h-1.5zM772.0 808.0h1.5v1.5h-1.5zM772.0 816.0h1.5v1.5h-1.5zM772.0 833.0h1.5v1.5h-1.5zM772.0 835.0h1.5v1.5h-1.5zM773.0 797.0h1.5v1.5h-1.5zM773.0 807.0h1.5v1.5h-1.5zM773.0 810.0h1.5v1.5h-1.5zM773.0 814.0h1.5v1.5h-1.5zM773.0 833.0h1.5v1.5h-1.5zM773.0 834.0h1.5v1.5h-1.5zM773.0 836.0h1.5v1.5h-1.5zM773.0 846.0h1.5v1.5h-1.5zM774.0 811.0h1.5v1.5h-1.5zM774.0 828.0h1.5v1.5h-1.5zM774.0 860.0h1.5v1.5h-1.5zM774.0 868.0h1.5v1.5h-1.5zM775.0 794.0h1.5v1.5h-1.5zM775.0 819.0h1.5v1.5h-1.5zM775.0 833.0h1.5v1.5h-1.5zM775.0 837.0h1.5v1.5h-1.5zM775.0 850.0h1.5v1.5h-1.5zM776.0 826.0h1.5v1.5h-1.5zM776.0 829.0h1.5v1.5h-1.5zM776.0 879.0h1.5v1.5h-1.5zM777.0 814.0h1.5v1.5h-1.5zM777.0 854.0h1.5v1.5h-1.5zM777.0 894.0h1.5v1.5h-1.5zM778.0 814.0h1.5v1.5h-1.5zM778.0 819.0h1.5v1.5h-1.5zM778.0 824.0h1.5v1.5h-1.5zM779.0 789.0h1.5v1.5h-1.5zM779.0 790.0h1.5v1.5h-1.5zM779.0 821.0h1.5v1.5h-1.5zM780.0 786.0h1.5v1.5h-1.5zM780.0 817.0h1.5v1.5h-1.5zM780.0 821.0h1.5v1.5h-1.5zM780.0 857.0h1.5v1.5h-1.5zM780.0 870.0h1.5v1.5h-1.5zM781.0 793.0h1.5v1.5h-1.5zM781.0 802.0h1.5v1.5h-1.5zM781.0 804.0h1.5v1.5h-1.5zM781.0 815.0h1.5v1.5h-1.5zM781.0 818.0h1.5v1.5h-1.5zM782.0 799.0h1.5v1.5h-1.5zM782.0 809.0h1.5v1.5h-1.5zM783.0 792.0h1.5v1.5h-1.5zM783.0 794.0h1.5v1.5h-1.5zM783.0 816.0h1.5v1.5h-1.5zM783.0 841.0h1.5v1.5h-1.5zM784.0 804.0h1.5v1.5h-1.5zM784.0 809.0h1.5v1.5h-1.5zM784.0 839.0h1.5v1.5h-1.5zM785.0 828.0h1.5v1.5h-1.5zM785.0 829.0h1.5v1.5h-1.5zM785.0 857.0h1.5v1.5h-1.5zM786.0 874.0h1.5v1.5h-1.5zM787.0 828.0h1.5v1.5h-1.5zM787.0 839.0h1.5v1.5h-1.5zM788.0 817.0h1.5v1.5h-1.5zM789.0 791.0h1.5v1.5h-1.5zM789.0 804.0h1.5v1.5h-1.5zM790.0 786.0h1.5v1.5h-1.5zM790.0 806.0h1.5v1.5h-1.5zM791.0 793.0h1.5v1.5h-1.5zM791.0 826.0h1.5v1.5h-1.5zM791.0 828.0h1.5v1.5h-1.5zM792.0 856.0h1.5v1.5h-1.5zM793.0 808.0h1.5v1.5h-1.5zM793.0 812.0h1.5v1.5h-1.5zM793.0 827.0h1.5v1.5h-1.5zM794.0 815.0h1.5v1.5h-1.5zM794.0 826.0h1.5v1.5h-1.5zM795.0 820.0h1.5v1.5h-1.5zM797.0 790.0h1.5v1.5h-1.5zM797.0 826.0h1.5v1.5h-1.5zM797.0 839.0h1.5v1.5h-1.5zM797.0 851.0h1.5v1.5h-1.5zM798.0 798.0h1.5v1.5h-1.5zM800.0 819.0h1.5v1.5h-1.5zM800.0 839.0h1.5v1.5h-1.5zM800.0 856.0h1.5v1.5h-1.5zM802.0 804.0h1.5v1.5h-1.5zM809.0 827.0h1.5v1.5h-1.5zM810.0 814.0h1.5v1.5h-1.5z" fill="#f0900e"/>
<path d="M781.0 764.0h1.5v1.5h-1.5zM723.0 721.5h1.5v1.5h-1.5zM720.5 758.0h1.5v1.5h-1.5zM703.0 694.0h1.5v1.5h-1.5zM785.0 678.0h1.5v1.5h-1.5zM800.5 705.0h1.5v1.5h-1.5zM757.5 714.0h1.5v1.5h-1.5zM715.5 760.5h1.5v1.5h-1.5zM759.0 774.0h1.5v1.5h-1.5zM763.5 730.0h1.5v1.5h-1.5zM788.5 719.5h1.5v1.5h-1.5zM730.5 672.5h1.5v1.5h-1.5zM736.5 747.0h1.5v1.5h-1.5zM789.5 728.5h1.5v1.5h-1.5zM733.0 760.5h1.5v1.5h-1.5zM725.5 674.0h1.5v1.5h-1.5zM768.5 713.5h1.5v1.5h-1.5zM801.5 650.0h1.5v1.5h-1.5zM757.0 723.0h1.5v1.5h-1.5zM748.0 771.0h1.5v1.5h-1.5zM745.0 651.0h1.5v1.5h-1.5zM731.0 723.0h1.5v1.5h-1.5zM684.5 671.0h1.5v1.5h-1.5zM755.5 653.0h1.5v1.5h-1.5zM746.5 749.0h1.5v1.5h-1.5zM703.5 696.0h1.5v1.5h-1.5zM789.5 666.5h1.5v1.5h-1.5zM789.0 709.5h1.5v1.5h-1.5zM783.5 719.0h1.5v1.5h-1.5zM766.0 777.0h1.5v1.5h-1.5zM773.5 677.0h1.5v1.5h-1.5zM809.0 672.5h1.5v1.5h-1.5zM765.0 736.0h1.5v1.5h-1.5zM791.5 692.0h1.5v1.5h-1.5zM766.5 743.5h1.5v1.5h-1.5zM772.0 716.5h1.5v1.5h-1.5zM776.5 762.5h1.5v1.5h-1.5zM768.0 771.5h1.5v1.5h-1.5zM803.5 721.5h1.5v1.5h-1.5zM779.5 760.5h1.5v1.5h-1.5zM807.0 685.5h1.5v1.5h-1.5zM741.0 753.0h1.5v1.5h-1.5zM673.0 747.0h1.5v1.5h-1.5zM751.5 679.5h1.5v1.5h-1.5zM668.5 758.5h1.5v1.5h-1.5zM726.0 748.5h1.5v1.5h-1.5zM754.5 668.0h1.5v1.5h-1.5zM787.0 761.0h1.5v1.5h-1.5zM763.5 754.5h1.5v1.5h-1.5zM723.0 760.5h1.5v1.5h-1.5zM786.0 714.5h1.5v1.5h-1.5zM786.0 664.5h1.5v1.5h-1.5zM780.0 661.0h1.5v1.5h-1.5zM767.0 731.0h1.5v1.5h-1.5zM784.0 745.5h1.5v1.5h-1.5zM765.0 724.5h1.5v1.5h-1.5zM795.0 771.5h1.5v1.5h-1.5zM743.0 701.5h1.5v1.5h-1.5zM747.0 659.5h1.5v1.5h-1.5zM809.0 762.5h1.5v1.5h-1.5zM807.5 741.5h1.5v1.5h-1.5zM792.5 667.5h1.5v1.5h-1.5zM654.5 737.5h1.5v1.5h-1.5zM667.5 752.5h1.5v1.5h-1.5zM749.0 776.0h1.5v1.5h-1.5zM782.5 774.5h1.5v1.5h-1.5zM721.5 776.5h1.5v1.5h-1.5zM796.0 667.5h1.5v1.5h-1.5zM803.0 766.0h1.5v1.5h-1.5zM796.0 684.5h1.5v1.5h-1.5zM732.5 698.5h1.5v1.5h-1.5zM709.5 651.5h1.5v1.5h-1.5zM797.0 762.0h1.5v1.5h-1.5zM765.5 720.5h1.5v1.5h-1.5zM744.0 744.5h1.5v1.5h-1.5zM713.5 775.0h1.5v1.5h-1.5zM750.5 771.0h1.5v1.5h-1.5zM735.5 699.0h1.5v1.5h-1.5zM789.5 772.5h1.5v1.5h-1.5zM764.0 749.5h1.5v1.5h-1.5zM784.0 677.5h1.5v1.5h-1.5zM802.5 713.5h1.5v1.5h-1.5zM792.5 736.0h1.5v1.5h-1.5zM792.5 652.0h1.5v1.5h-1.5zM760.5 662.5h1.5v1.5h-1.5zM717.0 710.5h1.5v1.5h-1.5zM672.0 702.5h1.5v1.5h-1.5zM642.5 668.5h1.5v1.5h-1.5zM776.0 733.0h1.5v1.5h-1.5zM770.5 698.0h1.5v1.5h-1.5zM786.0 689.0h1.5v1.5h-1.5zM698.5 774.0h1.5v1.5h-1.5zM719.0 754.0h1.5v1.5h-1.5zM765.0 729.0h1.5v1.5h-1.5zM770.0 732.5h1.5v1.5h-1.5zM766.5 763.0h1.5v1.5h-1.5zM794.0 775.0h1.5v1.5h-1.5zM746.5 683.0h1.5v1.5h-1.5zM800.5 740.0h1.5v1.5h-1.5zM711.0 748.5h1.5v1.5h-1.5zM759.0 666.5h1.5v1.5h-1.5zM763.0 767.0h1.5v1.5h-1.5zM789.0 670.5h1.5v1.5h-1.5zM701.5 696.5h1.5v1.5h-1.5zM789.0 730.5h1.5v1.5h-1.5zM752.5 657.5h1.5v1.5h-1.5zM772.5 736.0h1.5v1.5h-1.5zM763.0 776.0h1.5v1.5h-1.5zM735.0 718.0h1.5v1.5h-1.5zM735.0 754.0h1.5v1.5h-1.5zM767.5 737.5h1.5v1.5h-1.5zM780.5 697.5h1.5v1.5h-1.5zM726.0 690.0h1.5v1.5h-1.5zM767.0 764.0h1.5v1.5h-1.5zM794.5 689.5h1.5v1.5h-1.5zM800.0 731.0h1.5v1.5h-1.5zM768.0 694.0h1.5v1.5h-1.5zM793.5 767.5h1.5v1.5h-1.5zM772.5 743.5h1.5v1.5h-1.5zM767.5 687.0h1.5v1.5h-1.5zM772.5 690.0h1.5v1.5h-1.5zM761.0 739.0h1.5v1.5h-1.5zM768.0 663.5h1.5v1.5h-1.5zM737.0 754.0h1.5v1.5h-1.5zM753.0 652.0h1.5v1.5h-1.5zM715.0 649.5h1.5v1.5h-1.5zM779.0 700.0h1.5v1.5h-1.5zM681.0 750.0h1.5v1.5h-1.5zM805.5 669.5h1.5v1.5h-1.5zM734.0 747.5h1.5v1.5h-1.5zM785.0 650.0h1.5v1.5h-1.5zM790.0 765.5h1.5v1.5h-1.5zM772.5 708.5h1.5v1.5h-1.5zM779.0 675.5h1.5v1.5h-1.5zM782.5 695.0h1.5v1.5h-1.5zM797.5 727.5h1.5v1.5h-1.5zM747.0 718.0h1.5v1.5h-1.5zM809.0 698.5h1.5v1.5h-1.5zM760.0 669.5h1.5v1.5h-1.5zM779.0 691.0h1.5v1.5h-1.5zM751.0 665.5h1.5v1.5h-1.5zM777.0 773.5h1.5v1.5h-1.5zM762.5 665.5h1.5v1.5h-1.5zM788.0 776.5h1.5v1.5h-1.5zM801.0 688.0h1.5v1.5h-1.5zM770.0 773.5h1.5v1.5h-1.5zM685.5 758.0h1.5v1.5h-1.5zM736.5 777.0h1.5v1.5h-1.5zM733.5 724.5h1.5v1.5h-1.5zM770.5 718.0h1.5v1.5h-1.5zM764.0 678.0h1.5v1.5h-1.5zM759.0 775.5h1.5v1.5h-1.5zM801.5 683.0h1.5v1.5h-1.5zM798.0 731.0h1.5v1.5h-1.5zM804.0 728.5h1.5v1.5h-1.5zM750.0 651.0h1.5v1.5h-1.5zM750.5 717.0h1.5v1.5h-1.5zM757.0 763.0h1.5v1.5h-1.5zM788.0 650.0h1.5v1.5h-1.5zM795.0 744.5h1.5v1.5h-1.5zM727.5 689.0h1.5v1.5h-1.5zM707.5 716.0h1.5v1.5h-1.5zM746.0 730.5h1.5v1.5h-1.5zM714.5 690.5h1.5v1.5h-1.5zM801.5 770.0h1.5v1.5h-1.5zM802.5 754.5h1.5v1.5h-1.5zM718.0 759.0h1.5v1.5h-1.5zM744.5 706.0h1.5v1.5h-1.5zM757.0 696.5h1.5v1.5h-1.5zM774.0 711.5h1.5v1.5h-1.5zM728.0 687.5h1.5v1.5h-1.5zM803.5 735.0h1.5v1.5h-1.5zM759.0 676.0h1.5v1.5h-1.5zM745.5 726.0h1.5v1.5h-1.5zM780.0 705.0h1.5v1.5h-1.5zM704.5 775.5h1.5v1.5h-1.5zM705.5 773.5h1.5v1.5h-1.5zM756.5 711.0h1.5v1.5h-1.5zM754.5 661.0h1.5v1.5h-1.5zM739.0 760.0h1.5v1.5h-1.5zM774.5 752.0h1.5v1.5h-1.5zM792.0 758.0h1.5v1.5h-1.5zM797.5 728.0h1.5v1.5h-1.5zM690.0 775.5h1.5v1.5h-1.5zM748.0 770.0h1.5v1.5h-1.5zM777.5 757.5h1.5v1.5h-1.5zM730.5 679.5h1.5v1.5h-1.5zM761.0 757.5h1.5v1.5h-1.5zM782.0 652.0h1.5v1.5h-1.5zM765.5 709.0h1.5v1.5h-1.5zM748.5 701.5h1.5v1.5h-1.5zM766.5 650.5h1.5v1.5h-1.5zM781.0 678.5h1.5v1.5h-1.5zM724.0 748.5h1.5v1.5h-1.5zM764.0 723.5h1.5v1.5h-1.5zM805.5 688.0h1.5v1.5h-1.5zM739.0 660.5h1.5v1.5h-1.5zM731.5 655.0h1.5v1.5h-1.5zM766.0 769.0h1.5v1.5h-1.5zM783.0 655.5h1.5v1.5h-1.5zM776.0 739.0h1.5v1.5h-1.5zM753.5 679.0h1.5v1.5h-1.5zM804.0 697.5h1.5v1.5h-1.5zM776.5 728.5h1.5v1.5h-1.5zM805.0 698.0h1.5v1.5h-1.5zM731.5 774.5h1.5v1.5h-1.5zM793.0 653.0h1.5v1.5h-1.5zM708.5 759.5h1.5v1.5h-1.5zM799.0 761.0h1.5v1.5h-1.5zM755.0 776.5h1.5v1.5h-1.5zM792.5 773.0h1.5v1.5h-1.5zM769.5 725.0h1.5v1.5h-1.5zM736.0 777.0h1.5v1.5h-1.5zM778.0 751.5h1.5v1.5h-1.5zM786.5 741.5h1.5v1.5h-1.5zM759.0 689.0h1.5v1.5h-1.5zM790.0 735.0h1.5v1.5h-1.5zM761.0 675.5h1.5v1.5h-1.5zM781.0 673.5h1.5v1.5h-1.5zM753.0 744.0h1.5v1.5h-1.5zM780.0 702.5h1.5v1.5h-1.5zM790.0 769.0h1.5v1.5h-1.5zM795.5 650.5h1.5v1.5h-1.5zM774.0 711.0h1.5v1.5h-1.5zM783.5 760.0h1.5v1.5h-1.5zM767.0 711.0h1.5v1.5h-1.5zM773.0 680.0h1.5v1.5h-1.5zM781.5 720.0h1.5v1.5h-1.5zM761.0 654.0h1.5v1.5h-1.5zM766.5 658.0h1.5v1.5h-1.5zM762.5 700.0h1.5v1.5h-1.5zM725.5 729.0h1.5v1.5h-1.5zM742.5 664.0h1.5v1.5h-1.5zM617.5 649.5h1.5v1.5h-1.5zM589.5 690.5h1.5v1.5h-1.5zM619.5 690.5h1.5v1.5h-1.5zM652.5 697.5h1.5v1.5h-1.5zM643.5 754.5h1.5v1.5h-1.5z" fill="#6a8fd8"/>
<path d="M829.0 658.0h1.5v1.5h-1.5zM845.0 661.0h1.5v1.5h-1.5zM830.5 649.5h1.5v1.5h-1.5zM893.0 650.0h1.5v1.5h-1.5zM853.0 649.5h1.5v1.5h-1.5zM857.5 658.0h1.5v1.5h-1.5zM839.0 660.0h1.5v1.5h-1.5zM832.5 647.0h1.5v1.5h-1.5zM825.0 649.5h1.5v1.5h-1.5zM843.0 654.0h1.5v1.5h-1.5zM821.5 646.0h1.5v1.5h-1.5zM821.0 662.5h1.5v1.5h-1.5zM850.0 660.5h1.5v1.5h-1.5zM848.0 656.0h1.5v1.5h-1.5zM857.0 661.0h1.5v1.5h-1.5zM840.0 651.5h1.5v1.5h-1.5zM820.0 654.0h1.5v1.5h-1.5zM829.0 660.5h1.5v1.5h-1.5zM850.0 660.0h1.5v1.5h-1.5zM858.5 653.0h1.5v1.5h-1.5zM829.0 662.0h1.5v1.5h-1.5zM863.0 639.0h1.5v1.5h-1.5zM845.0 639.5h1.5v1.5h-1.5zM874.0 645.5h1.5v1.5h-1.5zM830.0 657.5h1.5v1.5h-1.5zM837.5 646.0h1.5v1.5h-1.5zM827.0 657.0h1.5v1.5h-1.5zM824.5 651.0h1.5v1.5h-1.5zM825.5 665.0h1.5v1.5h-1.5zM819.0 654.0h1.5v1.5h-1.5zM823.0 658.5h1.5v1.5h-1.5zM833.5 657.0h1.5v1.5h-1.5zM826.0 658.5h1.5v1.5h-1.5zM855.0 644.5h1.5v1.5h-1.5zM862.5 640.5h1.5v1.5h-1.5zM824.5 649.0h1.5v1.5h-1.5zM837.0 653.0h1.5v1.5h-1.5zM864.5 662.5h1.5v1.5h-1.5zM832.0 657.0h1.5v1.5h-1.5zM827.0 759.0h1.5v1.5h-1.5zM825.5 767.5h1.5v1.5h-1.5zM829.0 765.5h1.5v1.5h-1.5zM853.0 777.0h1.5v1.5h-1.5zM818.5 752.0h1.5v1.5h-1.5zM839.0 760.5h1.5v1.5h-1.5zM833.0 761.5h1.5v1.5h-1.5zM819.5 753.5h1.5v1.5h-1.5zM827.0 765.5h1.5v1.5h-1.5zM821.5 758.5h1.5v1.5h-1.5zM841.0 726.5h1.5v1.5h-1.5zM824.5 762.5h1.5v1.5h-1.5zM842.5 765.5h1.5v1.5h-1.5zM838.5 762.5h1.5v1.5h-1.5zM818.5 767.0h1.5v1.5h-1.5zM851.5 769.0h1.5v1.5h-1.5zM829.5 763.5h1.5v1.5h-1.5zM833.5 743.5h1.5v1.5h-1.5zM833.5 749.0h1.5v1.5h-1.5zM828.5 767.5h1.5v1.5h-1.5zM835.5 773.5h1.5v1.5h-1.5zM819.5 771.0h1.5v1.5h-1.5zM817.5 754.5h1.5v1.5h-1.5zM825.0 770.5h1.5v1.5h-1.5zM833.0 773.0h1.5v1.5h-1.5zM829.5 776.5h1.5v1.5h-1.5zM853.0 766.0h1.5v1.5h-1.5zM821.5 771.0h1.5v1.5h-1.5zM821.5 753.5h1.5v1.5h-1.5zM823.0 777.0h1.5v1.5h-1.5zM819.5 753.0h1.5v1.5h-1.5zM835.0 674.0h1.5v1.5h-1.5zM827.0 735.0h1.5v1.5h-1.5zM839.0 733.0h1.5v1.5h-1.5zM828.5 670.5h1.5v1.5h-1.5zM818.0 688.5h1.5v1.5h-1.5zM861.5 686.5h1.5v1.5h-1.5zM823.5 691.5h1.5v1.5h-1.5zM838.0 736.0h1.5v1.5h-1.5zM820.0 753.5h1.5v1.5h-1.5zM823.5 744.5h1.5v1.5h-1.5zM824.0 676.5h1.5v1.5h-1.5z" fill="#d82470"/>
<path d="M820.0 788.0h1.5v1.5h-1.5zM819.0 791.5h1.5v1.5h-1.5zM847.5 868.0h1.5v1.5h-1.5zM837.0 821.0h1.5v1.5h-1.5zM829.0 830.5h1.5v1.5h-1.5zM822.0 807.5h1.5v1.5h-1.5zM836.0 837.0h1.5v1.5h-1.5zM855.0 807.5h1.5v1.5h-1.5zM858.0 848.0h1.5v1.5h-1.5zM824.5 939.0h1.5v1.5h-1.5zM819.5 828.5h1.5v1.5h-1.5zM825.0 823.0h1.5v1.5h-1.5zM832.0 820.5h1.5v1.5h-1.5zM862.0 847.0h1.5v1.5h-1.5zM853.5 860.0h1.5v1.5h-1.5zM840.5 800.0h1.5v1.5h-1.5z" fill="#9c1830"/>
<path d="M558.6 778.6V612H812.9V778.6" fill="none" stroke="#5c8fe0" stroke-width="1.5"/>
<path d="M558.6 778.9H812.9" fill="none" stroke="#7a9ad0" stroke-width="1.1"/>
<path d="M812.9 612H991V779.6" fill="none" stroke="#dc2a96" stroke-width="1.5"/>
<path d="M813.5 779.7H991" fill="none" stroke="#ff1560" stroke-width="1.5"/>
<rect x="560.5" y="781.0" width="253.5" height="245.1" fill="none" stroke="#e08c16" stroke-width="1.6"/>
<path d="M991.1 780.5V1026.1H814.6" fill="none" stroke="#c81212" stroke-width="1.5"/>
<text x="562.15" y="626.30" font-size="15.3" fill="#6c98ea" textLength="180.88" lengthAdjust="spacingAndGlyphs" >Cells that Died by Necrosis</text>
<text x="802.73" y="625.50" font-size="15.3" fill="#ec1c98" textLength="190.89" lengthAdjust="spacingAndGlyphs" >Cells that Died by Apoptosis</text>
<text x="565.13" y="1018.20" font-size="15.3" fill="#f0921c" textLength="77.39" lengthAdjust="spacingAndGlyphs" >Viable Cells</text>
<text x="809.53" y="1016.30" font-size="15.3" fill="#f01010" textLength="175.21" lengthAdjust="spacingAndGlyphs" >Events of Early Apoptosis</text>
<path d="M549.8 624.3H556.0M549.8 702.8H556.0M549.8 780.6H556.0M549.8 858.8H556.0M549.8 936.7H556.0M552.6 679.2H556.0M552.6 665.3H556.0M552.6 655.5H556.0M552.6 647.9H556.0M552.6 641.7H556.0M552.6 636.5H556.0M552.6 631.9H556.0M552.6 627.9H556.0M552.6 757.2H556.0M552.6 743.5H556.0M552.6 733.8H556.0M552.6 726.2H556.0M552.6 720.1H556.0M552.6 714.9H556.0M552.6 710.3H556.0M552.6 706.4H556.0M552.6 835.3H556.0M552.6 821.5H556.0M552.6 811.7H556.0M552.6 804.1H556.0M552.6 797.9H556.0M552.6 792.7H556.0M552.6 788.2H556.0M552.6 784.2H556.0M552.6 913.2H556.0M552.6 899.5H556.0M552.6 889.8H556.0M552.6 882.3H556.0M552.6 876.1H556.0M552.6 870.9H556.0M552.6 866.3H556.0M552.6 862.4H556.0M549.8 971.0H556.0M549.8 1005.0H556.0M549.8 1028.4H556.0M590.3 1040.7V1047.6M630.7 1040.7V1047.6M722.0 1040.7V1047.6M813.4 1040.7V1047.6M906.0 1040.7V1047.6M997.8 1040.7V1047.6M658.2 1040.7V1044.6M674.3 1040.7V1044.6M685.7 1040.7V1044.6M694.5 1040.7V1044.6M701.7 1040.7V1044.6M707.9 1040.7V1044.6M713.2 1040.7V1044.6M717.8 1040.7V1044.6M749.5 1040.7V1044.6M765.6 1040.7V1044.6M777.0 1040.7V1044.6M785.9 1040.7V1044.6M793.1 1040.7V1044.6M799.2 1040.7V1044.6M804.5 1040.7V1044.6M809.2 1040.7V1044.6M841.3 1040.7V1044.6M857.6 1040.7V1044.6M869.2 1040.7V1044.6M878.1 1040.7V1044.6M885.5 1040.7V1044.6M891.7 1040.7V1044.6M897.0 1040.7V1044.6M901.8 1040.7V1044.6M933.6 1040.7V1044.6M949.8 1040.7V1044.6M961.3 1040.7V1044.6M970.2 1040.7V1044.6M977.4 1040.7V1044.6M983.6 1040.7V1044.6M988.9 1040.7V1044.6M993.6 1040.7V1044.6" fill="none" stroke="#1a1a1a" stroke-width="1.5"/>
<text x="543.90" y="629.30" font-size="14.2" fill="#111" text-anchor="end" >1e6</text>
<text x="543.90" y="707.80" font-size="14.2" fill="#111" text-anchor="end" >1e5</text>
<text x="543.90" y="785.60" font-size="14.2" fill="#111" text-anchor="end" >1e4</text>
<text x="543.90" y="863.80" font-size="14.2" fill="#111" text-anchor="end" >1e3</text>
<text x="543.90" y="941.70" font-size="14.2" fill="#111" text-anchor="end" >100</text>
<text x="543.90" y="976.00" font-size="14.2" fill="#111" text-anchor="end" >0</text>
<text x="543.90" y="1010.00" font-size="14.2" fill="#111" text-anchor="end" >-100</text>
<text x="590.30" y="1064.30" font-size="14.2" fill="#111" text-anchor="middle" >0</text>
<text x="630.70" y="1064.30" font-size="14.2" fill="#111" text-anchor="middle" >100</text>
<text x="722.00" y="1064.30" font-size="14.2" fill="#111" text-anchor="middle" >1e3</text>
<text x="813.40" y="1064.30" font-size="14.2" fill="#111" text-anchor="middle" >1e4</text>
<text x="906.00" y="1064.30" font-size="14.2" fill="#111" text-anchor="middle" >1e5</text>
<clipPath id="cx"><rect x="980" y="1045" width="22.4" height="30"/></clipPath>
<text x="985.80" y="1064.30" font-size="14.2" fill="#111" clip-path="url(#cx)">1e6</text>
<text x="709.16" y="1084.10" font-size="14.8" fill="#111" textLength="127.16" lengthAdjust="spacingAndGlyphs" >Intensity_MC_Ch02</text>
<text x="510.00" y="894.01" font-size="14.8" fill="#111" textLength="124.40" lengthAdjust="spacingAndGlyphs" transform="rotate(-90 510.00 894.01)" >Intensity_MC_Ch04</text>
<path d="M433.3 641.4L462.0 627.2V636.4H604.2V646.4H462.0V655.8Z" fill="#ff0000"/>
<path d="M432.0 904.0L460.2 889.9V899.2H603.2V908.8H460.2V918.2Z" fill="#ff0000"/>
<path d="M1050.2 639.9L1022.5 625.8V635.0H879.8V644.9H1022.5V654.0Z" fill="#ff0000"/>
<path d="M1050.4 902.5L1023.1 888.7V897.8H879.8V907.4H1023.1V916.6Z" fill="#ff0000"/>
</svg>
</body>
</html>
